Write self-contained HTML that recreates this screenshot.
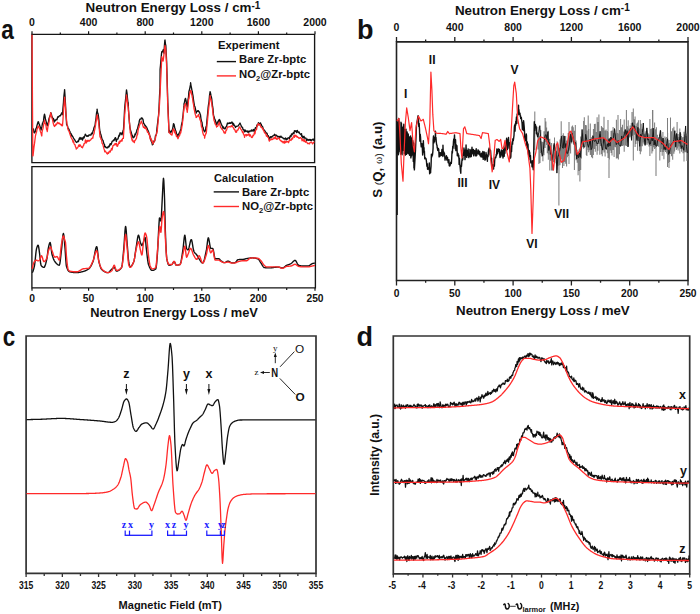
<!DOCTYPE html>
<html><head><meta charset="utf-8"><style>
html,body{margin:0;padding:0;background:#fff;}
body{width:700px;height:614px;overflow:hidden;}
svg{display:block;}
text{font-family:"Liberation Sans",sans-serif;fill:#111;}
.tl{font-weight:bold;}
.ti{font-weight:bold;}
.lg{font-weight:bold;}
.pl{font-weight:bold;}
.tn{font-weight:bold;}
</style></head><body>
<svg width="700" height="614" viewBox="0 0 700 614">
<rect width="700" height="614" fill="#fff"/>
<path d="M31.9,34.3H314.6V162.6H31.9Z" fill="none" stroke="#151515" stroke-width="1.35" stroke-linejoin="miter"/>
<path d="M31.9,166.6H315.4V287.9H31.9Z" fill="none" stroke="#151515" stroke-width="1.35" stroke-linejoin="miter"/>
<path d="M32.00,34.3V31.20M60.30,34.3V32.60M88.60,34.3V31.20M116.90,34.3V32.60M145.20,34.3V31.20M173.50,34.3V32.60M201.80,34.3V31.20M230.10,34.3V32.60M258.40,34.3V31.20M286.70,34.3V32.60M315.00,34.3V31.20" stroke="#151515" stroke-width="1.2" fill="none"/>
<text class="tl" x="32.00" y="25.6" text-anchor="middle" font-size="10.5">0</text>
<text class="tl" x="88.60" y="25.6" text-anchor="middle" font-size="10.5">400</text>
<text class="tl" x="145.20" y="25.6" text-anchor="middle" font-size="10.5">800</text>
<text class="tl" x="201.80" y="25.6" text-anchor="middle" font-size="10.5">1200</text>
<text class="tl" x="258.40" y="25.6" text-anchor="middle" font-size="10.5">1600</text>
<text class="tl" x="315.00" y="25.6" text-anchor="middle" font-size="10.5">2000</text>
<path d="M32.00,287.9V290.70M60.30,287.9V289.90M88.60,287.9V290.70M116.90,287.9V289.90M145.20,287.9V290.70M173.50,287.9V289.90M201.80,287.9V290.70M230.10,287.9V289.90M258.40,287.9V290.70M286.70,287.9V289.90M315.00,287.9V290.70" stroke="#151515" stroke-width="1.2" fill="none"/>
<text class="tl" x="32.00" y="301.8" text-anchor="middle" font-size="10.3">0</text>
<text class="tl" x="88.60" y="301.8" text-anchor="middle" font-size="10.3">50</text>
<text class="tl" x="145.20" y="301.8" text-anchor="middle" font-size="10.3">100</text>
<text class="tl" x="201.80" y="301.8" text-anchor="middle" font-size="10.3">150</text>
<text class="tl" x="258.40" y="301.8" text-anchor="middle" font-size="10.3">200</text>
<text class="tl" x="315.00" y="301.8" text-anchor="middle" font-size="10.3">250</text>
<text class="ti" x="85.6" y="12.4" font-size="13.4">Neutron Energy Loss / cm<tspan font-size="10" dy="-3.8">-1</tspan></text>
<text class="ti" x="174" y="316.8" text-anchor="middle" font-size="12.85">Neutron Energy Loss / meV</text>
<text class="pl" transform="translate(1.2,39.2) scale(0.84,1)" x="0" y="0" font-size="27">a</text>
<text class="lg" x="218" y="49.2" font-size="11.3">Experiment</text>
<line x1="216.8" y1="61.6" x2="236" y2="61.6" stroke="#111" stroke-width="1.4"/>
<text class="lg" x="239.1" y="63.4" font-size="11.3">Bare Zr-bptc</text>
<line x1="216.8" y1="75.9" x2="236" y2="75.9" stroke="#ff2a2a" stroke-width="1.4"/>
<text class="lg" x="239.1" y="78" font-size="11.3">NO<tspan font-size="7.5" dy="2.5">2</tspan><tspan dy="-2.5">@Zr-bptc</tspan></text>
<text class="lg" x="214.1" y="181.7" font-size="11.1">Calculation</text>
<line x1="213.7" y1="191.9" x2="239" y2="191.9" stroke="#111" stroke-width="1.4"/>
<text class="lg" x="242" y="196.3" font-size="11.3">Bare Zr-bptc</text>
<line x1="213.7" y1="206.5" x2="239" y2="206.5" stroke="#ff2a2a" stroke-width="1.4"/>
<text class="lg" x="242" y="210" font-size="11.3">NO<tspan font-size="7.5" dy="2.5">2</tspan><tspan dy="-2.5">@Zr-bptc</tspan></text>
<polyline fill="none" stroke="#111" stroke-width="1.35" stroke-linejoin="round"  points="32.00,128.52 32.50,128.79 33.00,129.60 33.50,129.01 34.00,132.50 34.50,132.80 34.80,132.29 35.00,132.37 35.50,130.48 36.00,128.37 36.50,127.79 37.00,125.38 37.50,123.80 38.00,121.93 38.30,121.80 38.50,122.03 39.00,123.93 39.50,124.66 40.00,126.62 40.50,127.44 41.00,130.05 41.10,129.92 41.50,128.31 42.00,126.23 42.50,123.17 43.00,122.21 43.50,120.90 44.00,116.37 44.50,114.18 45.00,116.16 45.50,119.53 46.00,120.90 46.50,123.36 47.00,124.97 47.30,125.74 47.50,125.06 48.00,122.94 48.50,121.79 49.00,118.67 49.50,117.30 50.00,115.91 50.50,115.10 50.70,112.70 51.00,113.21 51.50,114.73 52.00,116.91 52.50,117.32 53.00,119.52 53.50,118.62 54.00,121.76 54.20,122.17 54.50,120.22 55.00,120.64 55.50,120.73 56.00,119.40 56.50,119.39 57.00,119.68 57.50,117.72 57.70,117.12 58.00,116.59 58.50,117.15 59.00,116.25 59.50,115.91 60.00,115.60 60.50,115.74 61.00,114.27 61.50,113.61 62.00,112.67 62.50,114.68 63.00,107.63 63.50,102.25 63.60,99.99 64.00,95.40 64.50,91.04 64.60,89.65 65.00,95.68 65.50,104.42 66.00,114.88 66.50,122.68 66.60,124.47 67.00,124.97 67.50,125.89 68.00,128.10 68.50,128.64 69.00,129.40 69.50,130.99 70.00,131.67 70.10,132.62 70.50,133.90 71.00,133.47 71.50,135.78 72.00,135.25 72.50,136.63 73.00,136.82 73.50,138.06 74.00,139.07 74.50,139.60 75.00,140.26 75.50,141.12 76.00,141.86 76.30,141.88 76.50,142.45 77.00,142.18 77.50,141.81 78.00,140.94 78.50,141.42 79.00,139.33 79.50,138.12 79.80,139.22 80.00,137.42 80.50,138.99 81.00,138.00 81.50,139.11 82.00,137.86 82.50,139.98 83.00,138.44 83.50,137.06 84.00,137.92 84.50,136.47 85.00,135.14 85.30,134.12 85.50,134.72 86.00,135.01 86.50,135.96 87.00,136.38 87.50,135.80 88.00,136.24 88.50,135.85 89.00,134.91 89.50,135.00 90.00,134.92 90.50,135.03 91.00,135.03 91.50,133.24 92.00,133.72 92.20,132.91 92.50,133.73 93.00,131.00 93.50,130.00 94.00,127.71 94.50,126.43 95.00,125.73 95.50,121.56 96.00,118.26 96.50,113.23 97.00,110.89 97.10,109.12 97.50,112.62 98.00,113.56 98.50,116.71 99.00,120.94 99.50,127.97 99.80,130.62 100.00,131.54 100.50,133.52 101.00,134.94 101.50,136.96 101.90,138.59 102.00,138.82 102.50,139.82 103.00,140.47 103.50,142.32 104.00,144.20 104.50,144.43 104.70,146.89 105.00,146.40 105.50,146.65 106.00,147.69 106.50,147.77 107.00,147.74 107.40,147.15 107.50,147.90 108.00,147.43 108.50,146.12 109.00,146.88 109.50,146.03 110.00,143.92 110.20,145.08 110.50,143.74 111.00,144.57 111.50,143.62 112.00,141.65 112.50,141.06 113.00,140.97 113.50,140.08 114.00,140.56 114.50,139.38 115.00,138.05 115.10,138.48 115.50,137.64 116.00,140.24 116.40,141.46 116.50,140.58 117.00,139.24 117.50,139.07 118.00,138.97 118.50,136.83 119.00,135.14 119.50,135.97 120.00,132.98 120.50,133.69 120.60,132.82 121.00,134.00 121.50,133.10 122.00,134.76 122.50,133.13 123.00,130.85 123.40,129.92 123.50,129.19 124.00,121.20 124.50,111.40 124.70,107.74 125.00,104.55 125.50,100.18 126.00,94.95 126.50,89.88 127.00,93.12 127.50,98.59 128.00,102.76 128.20,102.65 128.50,109.73 129.00,116.60 129.50,123.70 129.60,124.36 130.00,127.87 130.50,130.12 131.00,131.68 131.50,133.21 131.70,136.03 132.00,135.07 132.50,135.41 133.00,137.82 133.50,137.62 134.00,137.11 134.40,136.40 134.50,136.93 135.00,134.05 135.50,134.62 136.00,133.08 136.50,131.76 137.00,129.59 137.50,128.98 138.00,126.71 138.50,124.78 139.00,123.24 139.30,120.95 139.50,120.35 140.00,119.12 140.50,119.18 141.00,119.02 141.30,117.90 141.50,118.62 142.00,117.93 142.50,118.90 142.70,118.90 143.00,119.47 143.50,122.97 144.00,123.79 144.50,124.22 144.80,125.10 145.00,125.83 145.50,125.60 146.00,127.48 146.50,127.03 146.90,128.16 147.00,128.00 147.50,129.66 148.00,130.42 148.50,131.57 149.00,133.27 149.50,134.86 150.00,136.51 150.50,138.14 151.00,140.49 151.50,141.74 152.00,142.76 152.40,144.77 152.50,143.69 153.00,144.27 153.50,142.88 154.00,140.83 154.50,141.39 155.00,139.68 155.50,135.65 156.00,135.16 156.50,133.59 157.00,128.05 157.50,124.02 158.00,119.50 158.50,115.85 158.60,114.80 159.00,108.39 159.50,96.54 160.00,87.65 160.10,69.25 160.50,65.35 161.00,59.39 161.50,53.88 161.80,51.60 162.00,52.22 162.50,51.83 163.00,50.26 163.20,49.82 163.50,50.07 163.90,53.10 164.00,51.77 164.50,44.55 164.90,40.07 165.00,40.03 165.50,44.52 165.80,45.56 166.00,49.09 166.50,59.04 166.60,60.99 167.00,74.70 167.50,91.99 167.80,102.67 168.00,106.92 168.50,119.72 169.00,132.24 169.50,130.34 170.00,132.18 170.40,132.87 170.50,131.85 171.00,132.10 171.50,130.72 172.00,131.69 172.10,130.41 172.50,128.92 173.00,126.87 173.50,123.72 174.00,124.25 174.50,126.49 174.70,127.90 175.00,128.40 175.50,130.37 176.00,131.29 176.40,133.49 176.50,134.03 177.00,134.34 177.50,136.32 178.00,135.71 178.10,135.32 178.50,133.89 179.00,134.36 179.50,132.25 180.00,131.62 180.50,129.93 180.70,130.16 181.00,128.42 181.50,124.85 182.00,122.78 182.40,121.31 182.50,118.79 183.00,115.51 183.50,110.32 184.00,105.14 184.10,103.37 184.50,102.21 185.00,99.43 185.50,98.34 186.00,100.45 186.50,103.42 187.00,105.57 187.20,107.08 187.50,105.25 188.00,99.60 188.50,97.03 188.90,91.91 189.00,91.24 189.50,89.80 190.00,87.12 190.50,84.64 190.60,82.73 191.00,85.57 191.50,87.96 192.00,90.96 192.30,91.43 192.50,93.26 193.00,95.81 193.50,99.85 194.00,103.21 194.50,105.98 195.00,106.90 195.50,109.03 196.00,111.97 196.10,113.16 196.50,111.98 197.00,111.59 197.50,110.82 198.00,111.42 198.50,110.72 198.60,111.43 199.00,111.65 199.50,112.23 200.00,113.90 200.40,114.76 200.50,115.07 201.00,119.10 201.50,121.20 202.00,122.27 202.50,126.64 202.90,127.56 203.00,127.08 203.50,129.49 204.00,130.72 204.50,131.79 204.60,131.34 205.00,131.40 205.50,130.04 206.00,126.64 206.30,127.76 206.50,125.71 207.00,119.78 207.50,114.94 208.00,109.46 208.10,108.06 208.50,104.95 209.00,101.78 209.50,95.69 210.00,92.51 210.10,91.62 210.50,93.04 211.00,95.71 211.50,97.59 211.80,99.45 212.00,101.56 212.50,105.65 213.00,108.74 213.50,115.20 214.00,116.73 214.50,118.51 215.00,119.60 215.50,120.82 216.00,123.25 216.50,123.42 216.60,124.87 217.00,124.08 217.50,121.83 218.00,122.36 218.50,120.43 219.00,121.81 219.20,119.45 219.50,119.81 220.00,120.38 220.50,121.98 221.00,123.64 221.50,124.57 221.70,124.90 222.00,125.64 222.50,126.61 223.00,128.34 223.50,126.94 224.00,128.34 224.50,128.73 225.00,129.02 225.50,127.86 226.00,126.77 226.50,126.51 227.00,124.59 227.50,123.05 228.00,123.72 228.50,123.43 229.00,123.02 229.50,123.34 230.00,122.47 230.50,123.34 231.00,123.15 231.50,122.50 232.00,121.90 232.50,123.60 232.60,122.66 233.00,125.18 233.50,123.53 234.00,125.25 234.50,125.17 235.00,126.36 235.50,127.49 235.60,126.58 236.00,126.73 236.50,126.53 237.00,126.12 237.50,126.06 238.00,125.97 238.50,125.47 239.00,124.72 239.50,123.95 240.00,123.07 240.50,124.20 241.00,125.21 241.50,126.87 242.00,127.06 242.50,127.37 243.00,129.46 243.50,129.40 244.00,130.30 244.40,131.35 244.50,131.81 245.00,129.93 245.50,130.77 246.00,131.61 246.50,131.26 247.00,130.94 247.50,131.15 248.00,132.40 248.50,131.20 248.80,131.96 249.00,131.96 249.50,131.03 250.00,131.48 250.50,130.78 251.00,130.54 251.50,130.08 252.00,131.26 252.50,130.30 253.00,130.07 253.50,129.57 254.00,131.35 254.50,130.53 254.70,129.91 255.00,129.01 255.50,127.58 256.00,127.87 256.50,126.98 257.00,124.98 257.50,125.76 258.00,124.62 258.40,122.77 258.50,123.06 259.00,123.27 259.50,123.77 260.00,123.69 260.50,122.84 261.00,124.99 261.30,124.31 261.50,125.32 262.00,126.32 262.50,126.36 263.00,127.72 263.50,128.98 264.00,130.00 264.50,130.39 265.00,131.10 265.50,132.27 266.00,132.48 266.50,133.39 267.00,133.18 267.50,135.30 268.00,135.33 268.50,136.39 269.00,137.47 269.40,138.30 269.50,139.28 270.00,137.93 270.50,136.62 271.00,137.37 271.50,136.64 272.00,137.04 272.50,136.08 273.00,135.81 273.50,135.68 274.00,135.35 274.50,134.32 275.00,134.82 275.30,135.09 275.50,135.95 276.00,135.15 276.50,135.27 277.00,136.06 277.50,136.20 278.00,137.06 278.50,136.57 279.00,136.35 279.50,137.40 279.70,137.59 280.00,136.44 280.50,137.10 281.00,136.16 281.50,137.26 282.00,137.18 282.50,137.86 283.00,137.94 283.50,138.39 284.00,138.68 284.10,139.12 284.50,138.95 285.00,138.43 285.50,137.96 286.00,139.60 286.50,139.72 287.00,138.50 287.50,139.16 288.00,137.81 288.50,137.78 289.00,138.01 289.50,138.52 290.00,136.26 290.50,135.78 291.00,136.75 291.50,133.86 292.00,134.89 292.50,134.17 293.00,133.10 293.50,132.74 294.00,133.70 294.40,130.77 294.50,131.30 295.00,131.35 295.50,131.05 296.00,130.63 296.50,132.54 297.00,131.64 297.40,130.36 297.50,131.12 298.00,132.25 298.50,132.66 299.00,131.87 299.50,133.16 300.00,133.80 300.50,134.29 301.00,134.70 301.50,133.67 301.80,136.30 302.00,135.42 302.50,136.90 303.00,138.04 303.50,136.52 304.00,136.27 304.50,138.08 305.00,137.85 305.50,138.12 306.00,138.19 306.50,140.41 307.00,139.47 307.50,139.30 307.60,140.01 308.00,139.50 308.50,140.30 309.00,139.86 309.50,139.39 310.00,140.41 310.50,139.54 311.00,140.37 311.50,140.66 312.00,139.54 312.50,139.30 313.00,139.79 313.50,140.18 314.00,138.81 314.20,138.59"/>
<polyline fill="none" stroke="#ff2a2a" stroke-width="1.3" stroke-linejoin="round"  points="32.00,34.72 32.40,90.53 32.50,106.91 32.80,155.95 33.00,155.80 33.50,151.52 34.00,146.90 34.50,143.64 35.00,139.52 35.50,135.49 36.00,133.59 36.50,132.19 37.00,129.62 37.50,128.27 38.00,126.33 38.30,125.99 38.50,126.18 39.00,127.35 39.50,128.42 40.00,130.14 40.50,131.70 41.00,132.90 41.50,135.31 41.80,135.95 42.00,132.41 42.50,130.13 43.00,128.43 43.50,125.46 44.00,123.05 44.50,120.24 45.00,123.44 45.50,123.31 46.00,125.75 46.50,129.28 47.00,130.34 47.30,131.53 47.50,129.71 48.00,126.34 48.50,124.89 49.00,122.22 49.50,118.72 50.00,116.44 50.50,114.21 50.70,112.59 51.00,114.26 51.50,116.26 52.00,118.09 52.50,119.61 53.00,122.19 53.50,124.26 54.00,125.76 54.20,125.77 54.50,126.48 55.00,125.20 55.50,125.61 56.00,123.85 56.50,124.66 57.00,123.57 57.50,122.28 57.70,122.70 58.00,123.10 58.50,123.53 59.00,122.99 59.50,123.19 60.00,124.32 60.50,124.17 61.00,124.91 61.50,125.53 62.00,124.25 62.50,125.77 63.00,119.31 63.50,111.22 63.60,109.47 64.00,105.13 64.50,98.10 64.60,97.18 65.00,101.74 65.50,107.70 65.60,109.93 66.00,113.71 66.50,119.50 67.00,124.13 67.30,125.94 67.50,126.75 68.00,129.41 68.50,130.58 69.00,131.04 69.50,132.76 70.00,134.36 70.50,135.69 71.00,137.26 71.50,138.17 72.00,139.03 72.50,140.02 73.00,141.97 73.50,140.91 74.00,143.38 74.50,144.58 75.00,144.73 75.50,146.97 76.00,147.42 76.30,149.06 76.50,148.22 77.00,148.23 77.50,148.09 78.00,147.05 78.50,145.73 79.00,144.82 79.50,146.44 79.80,144.93 80.00,144.75 80.50,145.79 81.00,146.08 81.50,147.25 82.00,147.22 82.50,147.71 83.00,146.13 83.50,145.79 84.00,143.71 84.50,143.70 85.00,143.15 85.30,140.51 85.50,139.86 86.00,141.78 86.50,142.95 87.00,140.56 87.50,140.31 88.00,141.42 88.50,140.41 89.00,140.54 89.40,140.57 89.50,141.07 90.00,140.06 90.50,140.10 91.00,139.41 91.50,138.57 92.00,138.51 92.50,137.70 92.90,138.00 93.00,136.81 93.50,134.55 94.00,133.92 94.50,130.65 95.00,128.36 95.50,125.45 96.00,121.56 96.50,118.39 97.00,115.53 97.10,114.78 97.50,115.82 98.00,119.58 98.50,121.12 99.00,126.12 99.50,131.53 99.80,135.05 100.00,137.01 100.50,136.84 101.00,139.35 101.50,139.50 101.90,142.20 102.00,143.08 102.50,143.82 103.00,145.05 103.50,147.09 104.00,148.88 104.50,150.34 104.70,151.78 105.00,151.02 105.50,151.15 106.00,152.10 106.50,152.79 107.00,153.55 107.40,153.98 107.50,154.01 108.00,152.31 108.50,153.44 109.00,152.03 109.50,151.14 110.00,151.81 110.20,152.06 110.50,151.01 111.00,149.93 111.50,148.37 112.00,149.98 112.50,147.83 113.00,145.66 113.50,145.37 114.00,145.42 114.50,143.83 115.00,144.44 115.50,143.51 115.70,144.40 116.00,144.83 116.50,143.44 117.00,146.23 117.10,145.35 117.50,146.32 118.00,144.71 118.50,143.96 119.00,141.91 119.20,143.39 119.50,143.33 120.00,141.01 120.50,141.64 121.00,140.65 121.30,140.88 121.50,139.81 122.00,141.18 122.50,138.67 123.00,138.44 123.40,138.43 123.50,135.87 124.00,127.10 124.50,117.85 124.70,114.51 125.00,110.61 125.50,105.69 126.00,100.45 126.50,94.98 127.00,98.91 127.50,102.36 128.00,106.72 128.20,107.49 128.50,111.17 129.00,116.75 129.50,122.77 130.00,128.22 130.30,132.94 130.50,132.69 131.00,135.02 131.50,137.81 132.00,139.92 132.30,140.64 132.50,139.71 133.00,141.61 133.50,141.81 134.00,141.03 134.40,142.70 134.50,141.55 135.00,140.30 135.50,140.11 136.00,138.96 136.50,138.23 137.00,134.82 137.50,134.81 138.00,131.01 138.50,128.17 139.00,127.34 139.30,125.37 139.50,125.40 140.00,123.94 140.50,123.10 141.00,122.27 141.30,121.01 141.50,122.46 142.00,123.03 142.50,124.08 143.00,126.00 143.40,127.29 143.50,126.93 144.00,126.89 144.50,128.23 145.00,127.06 145.50,127.90 146.00,128.98 146.20,128.22 146.50,129.71 147.00,130.64 147.50,132.24 148.00,132.04 148.50,133.21 149.00,134.82 149.50,134.17 150.00,138.95 150.50,137.65 151.00,138.79 151.50,140.99 151.70,140.87 152.00,140.32 152.50,142.85 153.00,143.96 153.10,143.31 153.50,142.64 154.00,142.16 154.50,140.28 155.00,140.18 155.20,139.63 155.50,137.82 156.00,135.28 156.50,133.96 157.00,131.46 157.20,131.85 157.50,127.94 158.00,122.76 158.50,116.74 159.00,111.23 159.30,107.19 159.50,104.18 160.00,95.01 160.50,83.76 160.70,79.61 161.00,73.68 161.50,63.11 161.80,56.74 162.00,57.79 162.50,58.76 163.00,61.14 163.20,60.70 163.50,58.19 164.00,54.07 164.50,48.73 164.90,46.23 165.00,45.46 165.50,48.17 165.80,50.16 166.00,54.18 166.50,62.96 166.60,65.78 167.00,78.42 167.50,97.53 167.80,106.85 168.00,110.77 168.50,121.30 169.00,132.35 169.50,133.06 170.00,133.14 170.40,133.70 170.50,134.18 171.00,133.96 171.50,134.91 172.00,135.04 172.10,134.31 172.50,132.89 173.00,129.57 173.50,128.71 174.00,129.70 174.50,131.45 174.70,132.74 175.00,130.98 175.50,133.89 176.00,134.27 176.40,136.38 176.50,135.29 177.00,136.56 177.50,137.75 178.00,138.75 178.10,138.55 178.50,137.08 179.00,136.10 179.50,135.90 180.00,134.18 180.50,131.96 180.70,133.15 181.00,131.35 181.50,129.12 182.00,125.80 182.40,124.54 182.50,122.30 183.00,118.34 183.50,112.62 184.00,108.34 184.10,107.55 184.50,105.45 185.00,104.68 185.50,103.53 186.00,106.77 186.50,108.96 187.00,110.21 187.20,112.30 187.50,110.07 188.00,106.93 188.50,100.43 188.90,97.95 189.00,98.67 189.50,94.42 190.00,92.02 190.50,90.64 190.60,90.46 191.00,90.97 191.50,93.75 192.00,95.48 192.30,97.59 192.50,98.01 193.00,102.18 193.50,104.48 194.00,108.48 194.50,110.56 195.00,113.39 195.50,115.05 196.00,116.21 196.10,117.54 196.50,117.33 197.00,116.42 197.50,115.98 198.00,115.68 198.50,114.37 198.60,115.52 199.00,116.71 199.50,117.44 200.00,119.93 200.40,119.71 200.50,120.72 201.00,123.17 201.50,127.17 202.00,127.24 202.50,131.05 202.90,133.21 203.00,133.15 203.50,135.17 204.00,135.25 204.50,135.92 204.60,138.20 205.00,135.72 205.50,134.79 206.00,132.73 206.30,133.28 206.50,131.06 207.00,124.78 207.50,120.59 208.00,114.83 208.10,113.61 208.50,110.16 209.00,105.51 209.50,101.57 210.00,96.90 210.10,95.57 210.50,98.27 211.00,99.48 211.50,102.33 211.80,103.77 212.00,106.02 212.50,108.61 213.00,113.96 213.50,116.83 214.00,120.47 214.50,121.47 215.00,123.60 215.50,124.55 216.00,125.11 216.50,126.41 216.60,127.04 217.00,126.18 217.50,126.34 218.00,125.55 218.50,124.24 219.00,122.92 219.20,122.02 219.50,123.15 220.00,125.05 220.50,127.22 221.00,127.79 221.50,128.37 221.70,129.12 222.00,129.10 222.50,129.44 223.00,130.36 223.50,131.14 224.00,132.73 224.50,132.10 225.00,133.48 225.50,132.65 226.00,130.45 226.50,130.35 227.00,128.66 227.50,126.83 228.00,127.19 228.50,126.96 229.00,126.71 229.50,126.66 230.00,126.80 230.50,126.91 231.00,125.98 231.50,126.47 232.00,125.40 232.50,126.49 232.60,126.71 233.00,127.10 233.50,128.05 234.00,129.11 234.50,129.16 235.00,130.30 235.50,131.66 235.60,132.15 236.00,131.36 236.50,132.26 237.00,130.04 237.50,130.25 238.00,129.92 238.50,128.51 239.00,127.57 239.50,126.83 240.00,127.21 240.50,128.82 241.00,129.28 241.50,130.21 242.00,130.85 242.50,132.46 243.00,131.71 243.50,134.25 244.00,135.12 244.40,135.01 244.50,137.28 245.00,134.79 245.50,134.82 246.00,134.57 246.50,135.91 247.00,134.44 247.50,135.28 248.00,135.05 248.50,134.67 248.80,133.55 249.00,134.19 249.50,136.14 250.00,134.69 250.50,135.45 251.00,136.36 251.50,137.46 252.00,137.56 252.50,137.05 253.00,135.04 253.50,135.51 254.00,134.44 254.50,132.20 254.70,133.90 255.00,133.68 255.50,130.50 256.00,129.84 256.50,129.53 257.00,126.47 257.50,124.95 258.00,124.21 258.40,123.73 258.50,123.80 259.00,124.95 259.50,125.11 260.00,124.50 260.50,126.06 261.00,127.29 261.30,127.08 261.50,127.30 262.00,127.56 262.50,129.08 263.00,128.70 263.50,130.71 264.00,131.06 264.50,132.74 265.00,133.20 265.50,133.03 266.00,134.67 266.50,136.21 267.00,135.53 267.50,136.74 268.00,137.45 268.50,137.81 269.00,140.25 269.40,141.15 269.50,140.77 270.00,140.16 270.50,139.73 271.00,139.67 271.50,138.79 272.00,139.60 272.50,139.46 273.00,139.14 273.50,137.94 274.00,138.09 274.50,137.69 275.00,138.71 275.30,137.52 275.50,136.28 276.00,138.01 276.50,139.22 277.00,138.70 277.50,139.07 278.00,138.77 278.50,137.72 279.00,138.07 279.50,138.69 279.70,139.52 280.00,140.05 280.50,140.70 281.00,140.44 281.50,141.69 282.00,141.30 282.50,141.43 283.00,142.85 283.50,142.11 284.00,141.34 284.10,142.51 284.50,143.13 285.00,140.91 285.50,142.52 286.00,142.38 286.50,141.51 287.00,141.31 287.50,141.82 288.00,141.60 288.50,142.62 289.00,141.54 289.50,139.77 290.00,139.74 290.50,140.26 291.00,140.53 291.50,139.05 292.00,138.50 292.50,139.01 293.00,137.29 293.50,136.60 294.00,135.38 294.40,135.57 294.50,137.34 295.00,135.12 295.50,136.16 296.00,135.36 296.50,136.47 297.00,137.08 297.40,136.44 297.50,137.12 298.00,137.37 298.50,137.44 299.00,138.52 299.50,138.16 300.00,137.70 300.50,137.71 301.00,137.85 301.50,138.96 301.80,138.59 302.00,140.73 302.50,140.53 303.00,139.57 303.50,139.88 304.00,141.57 304.50,139.62 305.00,140.93 305.50,142.22 306.00,141.39 306.50,142.06 307.00,142.52 307.50,143.55 307.60,143.29 308.00,143.46 308.50,143.59 309.00,143.22 309.50,143.92 310.00,142.73 310.50,142.27 311.00,142.05 311.50,142.15 312.00,142.84 312.50,143.87 313.00,143.31 313.50,142.81 314.00,142.00 314.20,142.16"/>
<polyline fill="none" stroke="#111" stroke-width="1.4" stroke-linejoin="round"  points="32.20,272.60 32.60,272.15 33.00,271.26 33.40,270.03 33.80,268.53 34.20,266.87 34.40,266.00 34.60,264.92 35.00,261.79 35.40,257.90 35.80,253.93 36.20,250.54 36.60,248.40 36.60,248.40 37.00,247.14 37.40,246.07 37.80,245.38 38.10,245.20 38.20,245.27 38.60,246.67 39.00,249.23 39.40,252.13 39.50,252.80 39.80,255.27 40.20,259.42 40.60,263.21 41.00,265.20 41.00,265.20 41.40,265.77 41.80,266.25 42.20,266.65 42.60,266.96 43.00,267.19 43.40,267.34 43.80,267.40 43.90,267.40 44.20,267.27 44.60,266.75 45.00,265.87 45.40,264.70 45.80,263.29 46.20,261.71 46.60,260.01 46.90,258.70 47.00,258.20 47.40,255.32 47.80,251.85 48.20,248.92 48.30,248.40 48.60,247.00 49.00,245.21 49.40,243.72 49.80,242.75 50.10,242.50 50.20,242.58 50.60,244.16 51.00,247.11 51.40,250.48 51.80,253.34 52.00,254.30 52.20,255.02 52.60,256.38 53.00,257.60 53.40,258.70 53.80,259.66 54.20,260.49 54.60,261.18 54.90,261.60 55.00,261.73 55.40,262.23 55.80,262.72 56.20,263.18 56.60,263.62 57.00,264.01 57.40,264.36 57.80,264.66 58.20,264.90 58.60,265.08 59.00,265.18 59.30,265.20 59.40,265.14 59.80,263.87 60.20,261.30 60.60,257.92 61.00,254.22 61.40,250.70 61.50,249.90 61.80,247.15 62.20,242.67 62.60,238.20 63.00,234.77 63.40,233.40 63.40,233.40 63.80,234.94 64.20,238.72 64.60,243.47 64.90,246.90 65.00,248.04 65.40,253.81 65.80,260.04 66.20,264.79 66.40,266.00 66.60,266.68 67.00,267.90 67.40,268.94 67.80,269.82 68.20,270.54 68.60,271.09 69.00,271.49 69.40,271.73 69.60,271.80 69.80,271.85 70.20,271.93 70.60,272.01 71.00,272.09 71.40,272.16 71.80,272.23 72.20,272.28 72.60,272.34 73.00,272.39 73.40,272.43 73.80,272.47 74.20,272.50 74.60,272.53 75.00,272.55 75.40,272.57 75.80,272.58 76.20,272.59 76.60,272.60 76.90,272.60 77.00,272.60 77.40,272.59 77.80,272.57 78.20,272.53 78.60,272.49 79.00,272.43 79.40,272.36 79.80,272.29 80.20,272.21 80.60,272.13 81.00,272.04 81.40,271.94 81.80,271.85 82.20,271.75 82.60,271.65 82.80,271.60 83.00,271.55 83.40,271.44 83.80,271.33 84.20,271.20 84.60,271.07 85.00,270.92 85.40,270.76 85.80,270.59 86.20,270.41 86.60,270.21 87.00,270.00 87.40,269.77 87.80,269.52 88.20,269.26 88.60,268.97 88.70,268.90 89.00,268.65 89.40,268.25 89.80,267.76 90.20,267.21 90.60,266.58 91.00,265.88 91.40,265.13 91.80,264.32 92.20,263.46 92.60,262.55 93.00,261.60 93.00,261.60 93.40,260.34 93.80,258.61 94.20,256.57 94.60,254.36 95.00,252.17 95.40,250.14 95.80,248.43 96.20,247.21 96.60,246.63 96.70,246.60 97.00,247.22 97.40,249.58 97.80,253.00 98.20,256.71 98.60,259.94 98.90,261.60 99.00,262.00 99.40,263.54 99.80,264.97 100.20,266.27 100.60,267.41 101.00,268.36 101.40,269.10 101.80,269.60 101.80,269.60 102.20,269.96 102.60,270.31 103.00,270.63 103.40,270.93 103.80,271.21 104.20,271.47 104.60,271.71 105.00,271.91 105.40,272.10 105.80,272.25 106.20,272.38 106.60,272.48 107.00,272.55 107.40,272.59 107.70,272.60 107.80,272.60 108.20,272.51 108.60,272.31 109.00,272.02 109.40,271.67 109.80,271.27 110.20,270.83 110.60,270.38 111.00,269.94 111.40,269.52 111.80,269.14 112.10,268.90 112.20,268.82 112.60,268.48 113.00,268.12 113.40,267.79 113.80,267.53 114.20,267.41 114.30,267.40 114.60,267.59 115.00,268.29 115.40,269.25 115.80,270.21 116.20,270.91 116.50,271.10 116.60,271.10 117.00,271.07 117.40,270.99 117.80,270.87 118.20,270.71 118.60,270.50 119.00,270.25 119.40,269.94 119.80,269.59 120.20,269.19 120.60,268.75 121.00,268.25 121.40,267.69 121.60,267.40 121.80,266.88 122.20,264.66 122.60,261.27 123.00,257.13 123.40,252.69 123.80,248.40 123.80,248.40 124.20,243.16 124.60,236.71 125.00,230.75 125.40,226.95 125.60,226.40 125.80,226.91 126.20,230.37 126.60,235.77 127.00,241.50 127.20,244.00 127.40,246.43 127.80,251.85 128.20,257.07 128.60,260.97 128.70,261.60 129.00,263.23 129.40,265.12 129.80,266.38 130.10,266.70 130.20,266.70 130.60,266.58 131.00,266.33 131.40,265.96 131.80,265.46 132.20,264.86 132.60,264.16 133.00,263.38 133.40,262.52 133.80,261.60 133.80,261.60 134.20,260.15 134.60,257.91 135.00,255.19 135.40,252.31 135.80,249.60 136.00,248.40 136.20,247.21 136.60,244.53 137.00,241.73 137.40,239.09 137.80,236.93 138.20,235.55 138.50,235.20 138.60,235.25 139.00,236.20 139.40,237.98 139.80,240.05 140.20,241.86 140.40,242.50 140.60,243.04 141.00,244.12 141.40,245.01 141.80,245.48 141.90,245.50 142.20,245.27 142.60,244.42 143.00,243.30 143.30,242.50 143.40,242.24 143.80,240.91 144.20,239.40 144.60,238.12 145.00,237.43 145.10,237.40 145.40,238.66 145.80,242.86 146.20,247.49 146.30,248.40 146.60,250.96 147.00,254.50 147.40,257.94 147.80,260.98 148.20,263.34 148.50,264.50 148.60,264.78 149.00,265.86 149.40,266.85 149.80,267.75 150.20,268.54 150.60,269.21 151.00,269.74 151.40,270.13 151.80,270.35 152.10,270.40 152.20,270.40 152.60,270.38 153.00,270.32 153.40,270.24 153.80,270.12 154.20,269.96 154.60,269.76 155.00,269.52 155.40,269.23 155.80,268.90 155.80,268.90 156.20,267.34 156.60,263.89 157.00,259.34 157.30,255.70 157.40,254.38 157.80,247.34 158.20,238.91 158.60,230.98 158.70,229.30 159.00,223.86 159.40,218.31 159.50,218.00 159.80,218.35 160.20,219.50 160.60,220.65 160.90,221.00 161.00,220.76 161.40,216.01 161.80,207.89 162.20,200.00 162.20,200.00 162.60,191.95 163.00,183.52 163.40,178.55 163.50,178.30 163.80,180.62 164.20,189.02 164.60,200.00 164.60,200.00 165.00,217.06 165.30,229.30 165.40,232.07 165.80,242.53 166.20,251.21 166.60,257.11 166.80,258.70 167.00,259.74 167.40,261.60 167.80,263.11 168.20,264.24 168.60,264.95 169.00,265.20 169.00,265.20 169.40,265.18 169.80,265.14 170.20,265.06 170.60,264.96 171.00,264.84 171.40,264.70 171.80,264.54 171.90,264.50 172.20,264.26 172.60,263.67 173.00,262.93 173.40,262.23 173.80,261.73 174.10,261.60 174.20,261.62 174.60,262.07 175.00,262.91 175.40,263.89 175.80,264.73 176.20,265.18 176.30,265.20 176.60,265.20 177.00,265.17 177.40,265.14 177.80,265.09 178.20,265.02 178.60,264.93 179.00,264.83 179.40,264.71 179.80,264.57 180.00,264.50 180.20,264.32 180.60,263.35 181.00,261.73 181.40,259.60 181.80,257.13 182.20,254.49 182.60,251.82 182.90,249.90 183.00,249.23 183.40,245.70 183.80,241.59 184.20,237.87 184.60,235.54 184.80,235.20 185.00,235.62 185.40,238.38 185.80,242.45 186.20,246.30 186.60,248.40 186.60,248.40 187.00,249.07 187.40,249.58 187.80,249.86 188.00,249.90 188.20,249.79 188.60,249.00 189.00,247.64 189.40,245.91 189.80,244.05 190.20,242.27 190.60,240.79 191.00,239.84 191.30,239.60 191.40,239.64 191.80,240.58 192.20,242.43 192.60,244.80 193.00,247.29 193.40,249.51 193.80,251.06 193.90,251.30 194.20,251.85 194.60,252.46 195.00,252.97 195.40,253.40 195.80,253.81 196.20,254.24 196.60,254.72 196.80,255.00 197.00,255.30 197.40,255.97 197.80,256.69 198.20,257.41 198.60,258.09 199.00,258.70 199.00,258.70 199.40,259.28 199.80,259.90 200.20,260.53 200.60,261.14 201.00,261.70 201.40,262.19 201.80,262.59 202.20,262.87 202.60,262.99 202.70,263.00 203.00,262.86 203.40,262.27 203.80,261.29 204.20,259.98 204.60,258.41 205.00,256.65 205.40,254.75 205.80,252.80 206.20,250.85 206.40,249.90 206.60,248.77 207.00,245.72 207.40,242.32 207.80,239.42 208.20,237.87 208.30,237.80 208.60,238.22 209.00,239.83 209.40,242.15 209.80,244.67 210.20,246.86 210.60,248.21 210.80,248.40 211.00,248.40 211.40,248.40 211.80,248.40 212.20,248.40 212.60,248.40 212.70,248.40 213.00,248.81 213.40,250.37 213.80,252.63 214.20,255.07 214.60,257.20 215.00,258.51 215.20,258.70 215.40,258.70 215.80,258.70 216.20,258.70 216.60,258.70 217.00,258.70 217.40,258.70 217.80,258.70 218.20,258.70 218.60,258.70 218.80,258.70 219.00,258.74 219.40,259.01 219.80,259.45 220.20,259.96 220.60,260.43 220.90,260.70 221.00,260.77 221.40,261.07 221.80,261.36 222.20,261.66 222.60,261.93 223.00,262.17 223.40,262.37 223.80,262.51 224.20,262.59 224.40,262.60 224.60,262.59 225.00,262.49 225.40,262.32 225.80,262.10 226.20,261.85 226.60,261.60 227.00,261.38 227.40,261.21 227.80,261.11 228.00,261.10 228.20,261.11 228.60,261.20 229.00,261.35 229.40,261.55 229.80,261.78 230.20,262.03 230.60,262.28 231.00,262.51 231.40,262.70 231.80,262.83 232.20,262.90 232.30,262.90 232.60,262.90 233.00,262.88 233.40,262.85 233.80,262.81 234.20,262.75 234.60,262.69 235.00,262.62 235.10,262.60 235.40,262.47 235.80,262.12 236.20,261.62 236.60,261.06 237.00,260.52 237.40,260.06 237.80,259.76 238.00,259.70 238.20,259.67 238.60,259.62 239.00,259.59 239.40,259.55 239.80,259.53 240.20,259.51 240.60,259.49 241.00,259.47 241.40,259.46 241.80,259.44 242.20,259.42 242.60,259.40 243.00,259.37 243.40,259.33 243.70,259.30 243.80,259.29 244.20,259.22 244.60,259.12 245.00,259.01 245.40,258.90 245.80,258.78 246.20,258.68 246.60,258.60 246.60,258.60 247.00,258.53 247.40,258.46 247.80,258.39 248.20,258.33 248.60,258.26 249.00,258.20 249.40,258.14 249.80,258.08 250.20,258.03 250.60,257.99 251.00,257.95 251.40,257.93 251.80,257.91 252.20,257.90 252.30,257.90 252.60,257.90 253.00,257.92 253.40,257.94 253.80,257.97 254.20,258.02 254.60,258.07 255.00,258.13 255.40,258.20 255.80,258.29 256.20,258.38 256.60,258.48 257.00,258.59 257.40,258.71 257.80,258.83 258.00,258.90 258.20,259.00 258.60,259.34 259.00,259.84 259.40,260.45 259.80,261.12 260.20,261.81 260.60,262.46 260.90,262.90 261.00,263.04 261.40,263.65 261.80,264.33 262.20,265.03 262.60,265.71 263.00,266.34 263.40,266.88 263.80,267.30 264.20,267.55 264.40,267.60 264.60,267.62 265.00,267.67 265.40,267.71 265.80,267.75 266.20,267.78 266.60,267.81 267.00,267.83 267.40,267.85 267.80,267.87 268.20,267.88 268.60,267.89 269.00,267.90 269.40,267.90 269.40,267.90 269.80,267.89 270.20,267.88 270.60,267.86 271.00,267.83 271.40,267.79 271.80,267.75 272.20,267.70 272.60,267.65 273.00,267.60 273.40,267.54 273.80,267.49 274.20,267.43 274.60,267.38 275.00,267.32 275.40,267.28 275.80,267.23 276.20,267.19 276.60,267.16 277.00,267.13 277.40,267.11 277.80,267.10 278.00,267.10 278.20,267.11 278.60,267.14 279.00,267.21 279.40,267.30 279.80,267.40 280.20,267.51 280.60,267.62 281.00,267.72 281.40,267.81 281.80,267.87 282.20,267.90 282.30,267.90 282.60,267.87 283.00,267.77 283.40,267.59 283.80,267.37 284.20,267.10 284.60,266.80 285.00,266.49 285.40,266.18 285.80,265.89 286.20,265.62 286.60,265.40 286.60,265.40 287.00,265.21 287.40,265.04 287.80,264.88 288.20,264.73 288.60,264.58 289.00,264.44 289.40,264.28 289.80,264.12 290.20,263.95 290.60,263.76 290.90,263.60 291.00,263.54 291.40,263.26 291.80,262.92 292.20,262.53 292.60,262.13 293.00,261.72 293.40,261.33 293.80,260.98 294.20,260.70 294.60,260.50 295.00,260.40 295.10,260.40 295.40,260.49 295.80,260.87 296.20,261.46 296.60,262.20 297.00,263.00 297.40,263.79 297.80,264.50 298.20,265.05 298.60,265.37 298.70,265.40 299.00,265.47 299.40,265.55 299.80,265.63 300.20,265.70 300.60,265.76 301.00,265.82 301.40,265.87 301.80,265.91 302.20,265.94 302.60,265.97 303.00,265.99 303.40,266.00 303.70,266.00 303.80,266.00 304.20,266.00 304.60,266.00 305.00,266.00 305.40,266.00 305.80,266.00 306.20,266.00 306.60,266.00 307.00,266.00 307.40,266.00 307.80,266.00 308.00,266.00 308.20,265.99 308.60,265.89 309.00,265.72 309.40,265.49 309.80,265.21 310.20,264.91 310.60,264.60 311.00,264.30 311.40,264.03 311.80,263.80 312.20,263.63 312.30,263.60 312.60,263.52 313.00,263.42 313.40,263.32 313.80,263.24 314.20,263.17 314.60,263.12 314.90,263.10"/>
<polyline fill="none" stroke="#ff2a2a" stroke-width="1.4" stroke-linejoin="round"  points="32.20,268.90 32.60,267.09 33.00,265.41 33.40,263.94 33.80,262.74 34.20,261.88 34.40,261.60 34.60,261.38 35.00,260.97 35.40,260.62 35.80,260.34 36.20,260.16 36.60,260.10 36.60,260.10 37.00,260.24 37.40,260.54 37.80,260.82 38.10,260.90 38.20,260.89 38.60,260.77 39.00,260.51 39.40,260.19 39.50,260.10 39.80,259.64 40.20,258.60 40.60,257.38 41.00,256.31 41.40,255.73 41.50,255.70 41.80,255.95 42.20,256.91 42.60,258.28 43.00,259.73 43.40,260.94 43.80,261.57 43.90,261.60 44.20,261.55 44.60,261.35 45.00,261.01 45.40,260.54 45.80,259.96 46.20,259.28 46.60,258.51 46.90,257.90 47.00,257.64 47.40,255.86 47.80,253.56 48.20,251.63 48.30,251.30 48.60,250.46 49.00,249.37 49.40,248.40 49.80,247.62 50.20,247.09 50.60,246.90 50.60,246.90 51.00,247.43 51.40,248.66 51.80,250.03 52.00,250.60 52.20,251.12 52.60,252.26 53.00,253.47 53.40,254.65 53.80,255.71 54.20,256.55 54.60,257.07 54.90,257.20 55.00,257.20 55.40,257.10 55.80,256.92 56.20,256.73 56.60,256.57 57.00,256.50 57.00,256.50 57.40,256.79 57.80,257.50 58.20,258.42 58.60,259.30 59.00,259.93 59.30,260.10 59.40,260.03 59.80,258.45 60.20,255.39 60.60,251.56 61.00,247.72 61.40,244.58 61.50,244.00 61.80,242.32 62.20,240.02 62.60,237.95 63.00,236.47 63.40,235.90 63.40,235.90 63.80,236.58 64.20,238.08 64.60,239.60 64.60,239.60 65.00,240.68 65.40,242.01 65.50,242.50 65.80,245.90 66.20,252.90 66.40,255.70 66.60,257.88 67.00,262.09 67.40,265.70 67.80,268.21 68.00,268.90 68.20,269.35 68.60,270.12 69.00,270.68 69.40,271.02 69.60,271.10 69.80,271.14 70.20,271.22 70.60,271.30 71.00,271.37 71.40,271.43 71.80,271.49 72.20,271.54 72.60,271.59 73.00,271.63 73.40,271.66 73.80,271.70 74.20,271.72 74.60,271.74 75.00,271.76 75.40,271.78 75.80,271.79 76.20,271.80 76.60,271.80 76.90,271.80 77.00,271.80 77.40,271.74 77.80,271.62 78.20,271.46 78.60,271.26 79.00,271.04 79.40,270.82 79.80,270.60 80.00,270.50 80.20,270.40 80.60,270.15 81.00,269.88 81.40,269.60 81.80,269.34 82.20,269.12 82.60,268.95 82.80,268.90 83.00,268.86 83.40,268.79 83.80,268.73 84.20,268.69 84.60,268.65 85.00,268.62 85.40,268.59 85.80,268.56 86.20,268.53 86.60,268.50 87.00,268.47 87.40,268.42 87.80,268.37 88.20,268.30 88.60,268.22 88.70,268.20 89.00,268.08 89.40,267.77 89.80,267.31 90.20,266.73 90.60,266.04 91.00,265.27 91.40,264.43 91.80,263.56 92.20,262.66 92.60,261.77 93.00,260.90 93.00,260.90 93.40,259.89 93.80,258.62 94.20,257.19 94.60,255.69 95.00,254.23 95.40,252.89 95.80,251.78 96.20,250.99 96.60,250.62 96.70,250.60 97.00,251.04 97.40,252.72 97.80,255.16 98.20,257.86 98.60,260.28 98.90,261.60 99.00,261.94 99.40,263.26 99.80,264.52 100.20,265.68 100.60,266.73 101.00,267.63 101.40,268.36 101.80,268.90 101.80,268.90 102.20,269.32 102.60,269.73 103.00,270.12 103.40,270.48 103.80,270.83 104.20,271.15 104.60,271.44 105.00,271.71 105.40,271.94 105.80,272.14 106.20,272.31 106.60,272.44 107.00,272.53 107.40,272.59 107.70,272.60 107.80,272.60 108.20,272.57 108.60,272.50 109.00,272.39 109.40,272.24 109.80,272.06 110.20,271.84 110.60,271.59 111.00,271.31 111.40,271.00 111.80,270.67 112.10,270.40 112.20,270.28 112.60,269.33 113.00,267.94 113.40,266.52 113.80,265.48 114.10,265.20 114.20,265.23 114.60,265.78 115.00,266.85 115.40,268.12 115.80,269.33 116.20,270.18 116.50,270.40 116.60,270.40 117.00,270.37 117.40,270.31 117.80,270.21 118.20,270.08 118.60,269.91 119.00,269.70 119.40,269.46 119.80,269.17 120.20,268.85 120.60,268.49 121.00,268.08 121.40,267.64 121.60,267.40 121.80,266.99 122.20,265.31 122.60,262.74 123.00,259.58 123.40,256.17 123.80,252.80 123.80,252.80 124.20,248.53 124.60,243.17 125.00,238.17 125.40,234.97 125.60,234.50 125.80,234.89 126.20,237.55 126.60,241.75 127.00,246.33 127.20,248.40 127.40,250.55 127.80,255.65 128.20,260.63 128.60,264.05 128.70,264.50 129.00,265.48 129.40,266.55 129.80,267.23 130.10,267.40 130.20,267.39 130.60,267.26 131.00,266.96 131.40,266.51 131.80,265.92 132.20,265.22 132.60,264.43 133.00,263.54 133.40,262.60 133.80,261.60 133.80,261.60 134.20,260.14 134.60,258.01 135.00,255.53 135.40,253.02 135.80,250.80 136.00,249.90 136.20,249.07 136.60,247.32 137.00,245.59 137.40,244.03 137.80,242.78 138.20,241.99 138.50,241.80 138.60,241.85 139.00,242.82 139.40,244.69 139.80,246.93 140.20,249.05 140.40,249.90 140.60,250.71 141.00,252.51 141.40,254.10 141.80,254.96 141.90,255.00 142.20,254.05 142.60,250.71 143.00,246.58 143.30,244.00 143.40,243.29 143.80,240.12 144.20,236.95 144.60,234.38 145.00,233.06 145.10,233.00 145.40,233.20 145.80,233.99 146.20,235.22 146.60,236.70 146.60,236.70 147.00,239.32 147.40,243.51 147.80,248.35 148.20,252.95 148.50,255.70 148.60,256.47 149.00,259.56 149.40,262.35 149.80,264.49 150.00,265.20 150.20,265.76 150.60,266.80 151.00,267.70 151.40,268.38 151.80,268.80 152.10,268.90 152.20,268.90 152.60,268.88 153.00,268.83 153.40,268.74 153.80,268.62 154.20,268.46 154.60,268.26 155.00,268.02 155.40,267.73 155.80,267.40 155.80,267.40 156.20,265.51 156.60,261.40 157.00,256.39 157.30,252.80 157.40,251.66 157.80,246.51 158.20,241.07 158.60,236.22 158.70,235.20 159.00,232.06 159.40,228.15 159.80,226.40 159.80,226.40 160.20,228.17 160.60,231.22 160.90,232.30 161.00,232.05 161.40,227.50 161.80,221.22 162.00,219.10 162.20,217.64 162.60,214.85 163.00,212.66 163.40,211.55 163.50,211.50 163.80,212.42 164.20,215.77 164.50,219.10 164.60,220.54 165.00,229.83 165.30,236.70 165.40,238.52 165.80,245.88 166.20,252.53 166.60,257.34 166.80,258.70 167.00,259.61 167.40,261.24 167.80,262.60 168.20,263.62 168.60,264.27 169.00,264.50 169.00,264.50 169.40,264.50 169.80,264.50 170.20,264.50 170.60,264.50 171.00,264.50 171.40,264.50 171.80,264.50 171.90,264.50 172.20,264.34 172.60,263.73 173.00,262.90 173.40,262.07 173.80,261.46 174.10,261.30 174.20,261.32 174.60,261.81 175.00,262.72 175.40,263.78 175.80,264.69 176.20,265.18 176.30,265.20 176.60,265.20 177.00,265.17 177.40,265.14 177.80,265.08 178.20,265.01 178.60,264.93 179.00,264.82 179.40,264.71 179.80,264.57 180.00,264.50 180.20,264.35 180.60,263.61 181.00,262.41 181.40,260.88 181.80,259.14 182.20,257.31 182.60,255.53 182.90,254.30 183.00,253.89 183.40,251.86 183.80,249.60 184.20,247.61 184.60,246.38 184.80,246.20 185.00,246.58 185.40,249.05 185.80,252.61 186.20,255.81 186.60,257.20 186.60,257.20 187.00,256.80 187.40,255.87 187.80,254.78 188.00,254.30 188.20,253.82 188.60,252.68 189.00,251.43 189.40,250.23 189.80,249.22 190.20,248.57 190.50,248.40 190.60,248.41 191.00,248.73 191.40,249.39 191.80,250.30 192.20,251.37 192.60,252.53 193.00,253.66 193.40,254.69 193.80,255.53 193.90,255.70 194.20,256.19 194.60,256.88 195.00,257.57 195.40,258.20 195.80,258.74 196.20,259.15 196.60,259.37 196.80,259.40 197.00,259.31 197.40,258.72 197.80,257.80 198.20,256.81 198.60,256.02 199.00,255.70 199.00,255.70 199.40,255.94 199.80,256.58 200.20,257.51 200.60,258.61 201.00,259.79 201.40,260.93 201.80,261.91 202.20,262.64 202.60,262.98 202.70,263.00 203.00,262.91 203.40,262.53 203.80,261.89 204.20,261.04 204.60,260.01 205.00,258.84 205.40,257.58 205.80,256.27 206.20,254.95 206.40,254.30 206.60,253.51 207.00,251.31 207.40,248.83 207.80,246.69 208.20,245.55 208.30,245.50 208.60,245.79 209.00,246.90 209.40,248.50 209.80,250.23 210.20,251.74 210.60,252.67 210.80,252.80 211.00,252.71 211.40,252.12 211.80,251.24 212.20,250.40 212.60,249.92 212.70,249.90 213.00,250.31 213.40,251.85 213.80,254.09 214.20,256.51 214.60,258.62 215.00,259.91 215.20,260.10 215.40,260.10 215.80,260.10 216.20,260.10 216.60,260.10 217.00,260.10 217.40,260.10 217.80,260.10 218.20,260.10 218.60,260.10 218.80,260.10 219.00,260.13 219.40,260.30 219.80,260.59 220.20,260.92 220.60,261.23 220.90,261.40 221.00,261.45 221.40,261.63 221.80,261.82 222.20,262.01 222.60,262.18 223.00,262.33 223.40,262.45 223.80,262.54 224.20,262.59 224.40,262.60 224.60,262.60 225.00,262.56 225.40,262.51 225.80,262.43 226.20,262.35 226.60,262.27 227.00,262.19 227.40,262.14 227.80,262.10 228.00,262.10 228.20,262.11 228.60,262.15 229.00,262.24 229.40,262.35 229.80,262.48 230.20,262.62 230.60,262.75 231.00,262.88 231.40,262.99 231.80,263.06 232.20,263.10 232.30,263.10 232.60,263.10 233.00,263.08 233.40,263.06 233.80,263.03 234.20,263.00 234.60,262.96 235.00,262.91 235.10,262.90 235.40,262.84 235.80,262.71 236.20,262.53 236.60,262.32 237.00,262.11 237.40,261.92 237.80,261.76 238.00,261.70 238.20,261.65 238.60,261.55 239.00,261.44 239.40,261.34 239.80,261.25 240.20,261.15 240.60,261.07 241.00,260.99 241.40,260.91 241.80,260.85 242.20,260.80 242.60,260.75 243.00,260.72 243.40,260.70 243.70,260.70 243.80,260.70 244.20,260.70 244.60,260.70 245.00,260.70 245.40,260.70 245.80,260.70 246.20,260.70 246.60,260.70 246.60,260.70 247.00,260.62 247.40,260.40 247.80,260.09 248.20,259.71 248.60,259.32 249.00,258.93 249.40,258.61 249.80,258.37 250.00,258.30 250.20,258.25 250.60,258.14 251.00,258.05 251.40,257.98 251.80,257.93 252.20,257.90 252.30,257.90 252.60,257.90 253.00,257.91 253.40,257.91 253.80,257.93 254.20,257.94 254.60,257.96 255.00,257.99 255.40,258.02 255.80,258.05 256.20,258.09 256.60,258.13 257.00,258.17 257.40,258.22 257.80,258.27 258.00,258.30 258.20,258.34 258.60,258.52 259.00,258.79 259.40,259.14 259.80,259.53 260.20,259.96 260.60,260.39 260.90,260.70 261.00,260.80 261.40,261.28 261.80,261.82 262.20,262.41 262.60,263.02 263.00,263.63 263.40,264.21 263.80,264.75 264.20,265.20 264.40,265.40 264.60,265.59 265.00,265.98 265.40,266.35 265.80,266.65 266.20,266.85 266.50,266.90 266.60,266.90 267.00,266.90 267.40,266.90 267.80,266.90 268.20,266.90 268.60,266.90 269.00,266.90 269.40,266.90 269.80,266.90 270.20,266.90 270.60,266.90 271.00,266.90 271.40,266.90 271.80,266.90 272.20,266.90 272.60,266.90 273.00,266.90 273.40,266.90 273.80,266.90 274.20,266.90 274.60,266.90 275.00,266.90 275.40,266.90 275.80,266.90 276.20,266.90 276.60,266.90 277.00,266.90 277.40,266.90 277.80,266.90 278.00,266.90 278.20,266.91 278.60,266.97 279.00,267.09 279.40,267.25 279.80,267.43 280.20,267.62 280.60,267.82 281.00,267.99 281.40,268.14 281.80,268.25 282.20,268.30 282.30,268.30 282.60,268.28 283.00,268.18 283.40,268.02 283.80,267.82 284.20,267.59 284.60,267.34 285.00,267.09 285.40,266.86 285.80,266.65 286.20,266.50 286.60,266.40 286.60,266.40 287.00,266.34 287.40,266.30 287.80,266.26 288.20,266.23 288.60,266.21 289.00,266.18 289.40,266.16 289.80,266.13 290.20,266.09 290.60,266.04 290.90,266.00 291.00,265.98 291.40,265.87 291.80,265.72 292.20,265.52 292.60,265.30 293.00,265.07 293.40,264.85 293.80,264.65 294.20,264.48 294.60,264.36 295.00,264.30 295.10,264.30 295.40,264.34 295.80,264.49 296.20,264.73 296.60,265.03 297.00,265.35 297.40,265.68 297.80,265.98 298.20,266.22 298.60,266.38 298.70,266.40 299.00,266.45 299.40,266.52 299.80,266.58 300.20,266.64 300.60,266.69 301.00,266.74 301.40,266.78 301.80,266.82 302.20,266.85 302.60,266.87 303.00,266.89 303.40,266.90 303.70,266.90 303.80,266.90 304.20,266.90 304.60,266.90 305.00,266.90 305.40,266.90 305.80,266.90 306.20,266.90 306.60,266.90 307.00,266.90 307.40,266.90 307.80,266.90 308.00,266.90 308.20,266.90 308.60,266.87 309.00,266.82 309.40,266.74 309.80,266.66 310.20,266.56 310.60,266.45 311.00,266.34 311.40,266.23 311.80,266.12 312.20,266.02 312.30,266.00 312.60,265.93 313.00,265.84 313.40,265.75 313.80,265.66 314.20,265.57 314.60,265.47 314.90,265.40"/>
<path d="M396.5,41.9H688V280.5H396.5Z" fill="none" stroke="#222" stroke-width="1.6" stroke-linejoin="miter"/>
<path d="M396.50,41.9V36.90M425.65,41.9V39.50M454.80,41.9V36.90M483.95,41.9V39.50M513.10,41.9V36.90M542.25,41.9V39.50M571.40,41.9V36.90M600.55,41.9V39.50M629.70,41.9V36.90M658.85,41.9V39.50M688.00,41.9V36.90" stroke="#222" stroke-width="1.3" fill="none"/>
<text class="tl" x="396.50" y="30.8" text-anchor="middle" font-size="10.5">0</text>
<text class="tl" x="454.80" y="30.8" text-anchor="middle" font-size="10.5">400</text>
<text class="tl" x="513.10" y="30.8" text-anchor="middle" font-size="10.5">800</text>
<text class="tl" x="571.40" y="30.8" text-anchor="middle" font-size="10.5">1200</text>
<text class="tl" x="629.70" y="30.8" text-anchor="middle" font-size="10.5">1600</text>
<text class="tl" x="688.00" y="30.8" text-anchor="middle" font-size="10.5">2000</text>
<path d="M396.50,280.5V285.50M425.65,280.5V282.70M454.80,280.5V285.50M483.95,280.5V282.70M513.10,280.5V285.50M542.25,280.5V282.70M571.40,280.5V285.50M600.55,280.5V282.70M629.70,280.5V285.50M658.85,280.5V282.70M688.00,280.5V285.50" stroke="#222" stroke-width="1.3" fill="none"/>
<text class="tl" x="396.50" y="296.8" text-anchor="middle" font-size="10.3">0</text>
<text class="tl" x="454.80" y="296.8" text-anchor="middle" font-size="10.3">50</text>
<text class="tl" x="513.10" y="296.8" text-anchor="middle" font-size="10.3">100</text>
<text class="tl" x="571.40" y="296.8" text-anchor="middle" font-size="10.3">150</text>
<text class="tl" x="629.70" y="296.8" text-anchor="middle" font-size="10.3">200</text>
<text class="tl" x="688.00" y="296.8" text-anchor="middle" font-size="10.3">250</text>
<text class="ti" x="454.9" y="14.9" font-size="13.4">Neutron Energy Loss / cm<tspan font-size="10" dy="-3.8">-1</tspan></text>
<text class="ti" x="542.9" y="314.9" text-anchor="middle" font-size="13.3">Neutron Energy Loss / meV</text>
<text class="pl" x="357" y="39" font-size="27">b</text>
<text class="ti" transform="translate(382.1,159.7) rotate(-90)" text-anchor="middle" font-size="12" textLength="76.2" lengthAdjust="spacingAndGlyphs">S <tspan font-weight="normal" font-size="9.5">(</tspan>Q, <tspan font-weight="normal" font-family="Liberation Serif" font-size="10">&#969;</tspan><tspan font-weight="normal" font-size="9.5">)</tspan> (a.u)</text>
<text class="ti" x="405.6" y="97.9" text-anchor="middle" font-size="12">I</text>
<text class="ti" x="432.2" y="63.5" text-anchor="middle" font-size="12">II</text>
<text class="ti" x="462.5" y="187.3" text-anchor="middle" font-size="12">III</text>
<text class="ti" x="494.3" y="188.6" text-anchor="middle" font-size="12">IV</text>
<text class="ti" x="514.6" y="74.4" text-anchor="middle" font-size="12">V</text>
<text class="ti" x="532" y="248" text-anchor="middle" font-size="12">VI</text>
<text class="ti" x="561.7" y="218" text-anchor="middle" font-size="12">VII</text>
<line x1="397.2" y1="140" x2="397.2" y2="215" stroke="#111" stroke-width="1.3"/>
<path d="M538.0,126.8V149.5M538.9,134.6V164.0M540.0,135.9V162.9M540.8,129.9V153.0M541.8,141.4V156.4M542.9,142.1V161.3M544.0,131.3V155.3M545.1,117.9V148.0M545.9,121.6V142.1M546.6,127.5V145.1M547.3,134.4V153.3M548.3,130.7V159.8M549.1,139.1V154.6M549.8,138.8V170.4M550.6,150.0V160.7M551.6,142.9V170.6M552.5,154.4V170.6M553.5,144.7V162.3M554.5,137.4V157.4M555.2,147.6V158.7M556.1,151.2V163.2M557.1,141.3V169.7M558.1,144.4V165.7M559.0,147.9V174.1M560.0,139.4V165.2M560.9,138.0V161.8M561.9,145.4V159.2M562.5,135.2V167.9M563.3,133.3V162.6M563.9,135.6V166.1M564.9,136.2V161.9M565.7,136.0V163.7M566.6,140.5V166.6M567.4,142.1V157.2M568.2,132.9V156.0M569.0,122.0V163.9M569.6,135.7V150.5M570.6,131.7V153.4M571.8,126.5V143.5M572.6,125.4V141.6M573.3,127.3V142.0M574.4,130.7V170.0M575.3,125.1V155.4M576.1,140.5V160.3M577.2,149.8V162.8M578.1,152.3V175.2M579.1,149.3V171.0M579.9,147.4V181.6M580.7,136.4V169.9M581.5,139.3V158.4M582.6,133.6V147.3M583.6,121.0V148.7M584.3,117.3V141.1M585.5,124.9V141.6M586.3,125.3V154.9M586.9,130.6V155.9M588.1,135.5V146.3M588.7,128.9V152.2M589.5,139.5V150.3M590.3,123.4V155.1M590.9,139.1V154.8M591.5,137.2V157.3M592.6,139.6V158.2M593.4,129.0V155.0M594.4,123.9V148.9M595.3,123.7V151.7M596.4,132.1V145.9M597.1,117.2V154.7M597.9,122.0V150.7M598.9,114.6V144.1M599.8,133.9V154.7M600.8,134.2V146.0M601.4,126.1V154.3M602.3,127.2V156.3M603.2,127.9V143.2M604.0,116.7V152.5M605.1,130.6V156.4M606.1,129.6V146.5M607.3,131.1V153.2M608.2,132.2V154.5M609.4,137.9V159.4M610.4,137.5V150.4M611.1,131.1V153.1M612.0,130.6V155.4M613.1,127.1V150.1M614.1,133.0V156.9M614.8,129.4V146.7M615.6,133.4V147.3M616.4,119.8V158.5M617.4,133.0V158.2M618.4,133.5V159.5M619.5,130.1V154.2M620.6,119.1V146.6M621.6,127.2V145.7M622.5,124.7V146.0M623.1,131.5V145.4M624.2,119.5V151.7M625.4,130.4V145.6M626.4,110.0V146.0M627.4,126.3V142.4M628.2,120.3V145.8M629.0,128.5V137.8M630.1,125.4V136.7M631.3,123.0V138.5M632.4,123.1V135.8M633.3,108.6V160.4M634.4,119.2V134.8M635.1,116.6V146.9M635.9,125.9V144.0M636.8,123.6V139.1M637.6,122.5V150.8M638.4,120.2V140.9M639.5,128.5V151.1M640.3,119.9V154.3M641.2,123.8V151.5M642.3,129.0V146.3M643.1,132.6V142.4M644.0,134.3V144.3M645.2,133.6V144.6M645.8,131.3V143.7M647.0,130.6V144.9M648.1,133.3V143.5M649.0,134.6V146.5M649.9,119.0V156.1M650.9,129.1V145.9M651.9,128.2V153.4M652.8,110.0V151.3M653.5,131.6V147.3M654.6,122.5V148.9M655.4,129.2V148.0M656.4,127.2V145.9M657.4,134.8V146.1M658.6,137.3V146.8M659.8,134.4V160.4M660.8,130.7V151.9M661.5,136.7V149.2M662.2,138.0V155.8M662.9,131.9V151.9M663.9,139.8V159.2M664.9,136.4V150.5M665.5,137.7V152.0M666.7,137.0V153.4M667.6,132.9V155.6M668.6,143.5V163.0M669.6,143.0V162.0M670.5,117.4V154.0M671.5,131.2V156.2M672.7,128.2V159.7M673.9,126.8V153.8M674.6,134.0V151.5M675.3,134.5V147.5M676.3,136.3V149.9M677.1,121.9V148.6M678.1,133.9V150.4M678.8,137.0V146.5M679.8,128.4V153.4M680.8,133.7V147.1M681.5,135.9V151.8M682.3,137.4V149.3M683.0,136.9V153.3M684.0,131.8V161.6M684.9,134.5V152.3M686.0,135.9V152.3M686.9,133.4V161.0M534.8,111.5V150.0M561.2,121.3V150.0M558.9,150.0V205.4M588.2,115.4V150.0M652.5,110.0V150.0M667.5,118.0V167.0M618.0,115.0V150.0M608.0,120.0V158.0M609.0,140.0V178.0M656.0,130.0V176.0M632.0,112.0V135.0M669.0,140.0V168.0" stroke="#7e7e7e" stroke-width="1.05" fill="none"/>
<polyline fill="none" stroke="#111" stroke-width="1.4" stroke-linejoin="round"  points="397.00,119.76 397.22,152.95 397.44,151.40 397.66,122.46 397.88,123.66 398.10,122.26 398.32,154.76 398.54,126.75 398.76,118.49 398.98,120.72 399.20,122.89 399.42,147.02 399.64,146.67 399.86,151.60 400.08,148.48 400.30,152.09 400.52,154.09 400.74,150.30 400.96,122.14 401.18,149.66 401.40,123.12 401.62,127.03 401.84,151.78 402.06,154.71 402.28,148.01 402.50,127.62 402.72,128.36 402.94,127.09 403.16,150.30 403.38,126.75 403.60,128.00 403.82,124.23 404.04,128.52 404.26,153.51 404.48,150.75 404.70,131.72 404.92,129.81 405.14,133.11 405.36,155.12 405.58,133.87 405.80,130.69 406.02,129.18 406.24,153.20 406.46,154.37 406.68,132.88 406.90,152.83 407.12,131.91 407.34,135.42 407.56,134.58 407.78,135.73 408.00,153.50 408.22,134.00 408.44,136.44 408.66,151.86 408.88,151.82 409.10,152.73 409.32,154.71 409.54,137.05 409.76,155.37 409.98,155.45 410.20,140.64 410.42,138.22 410.64,136.06 410.86,157.91 411.08,155.54 411.30,154.24 411.52,155.91 411.74,137.95 411.96,154.88 412.18,141.84 412.40,141.86 412.62,140.53 412.84,140.90 413.06,143.44 413.28,161.49 413.50,160.09 413.72,143.17 413.94,167.92 414.16,149.52 414.38,169.90 415.50,150.00 416.50,125.00 418.10,115.73 418.45,117.95 418.80,126.47 419.15,123.34 419.50,129.56 419.85,141.16 420.20,134.15 420.55,137.42 420.90,143.60 420.90,143.57 421.25,146.87 421.60,145.52 421.95,143.67 422.30,147.20 422.65,154.96 423.00,151.72 423.35,140.68 423.70,149.06 424.05,147.66 424.10,152.10 424.40,151.12 424.75,158.78 425.10,157.42 425.45,158.85 425.80,158.36 426.15,159.25 426.50,161.90 426.85,166.22 427.20,165.56 427.40,163.88 427.55,169.21 427.90,167.49 428.25,168.13 428.60,167.48 428.95,169.56 429.00,169.56 429.30,163.00 429.65,173.70 430.00,172.04 430.35,169.43 430.60,172.83 430.70,170.03 431.05,166.18 431.40,154.27 431.75,157.12 432.10,155.68 432.45,155.15 432.80,152.17 433.10,147.83 433.15,140.16 433.50,135.98 433.85,142.82 434.20,140.07 434.55,141.60 434.90,137.26 435.25,137.08 435.50,131.25 435.60,137.57 435.95,137.33 436.30,141.98 436.65,144.64 437.00,145.32 437.20,147.92 437.35,147.34 437.70,150.47 438.05,150.61 438.40,148.45 438.75,149.22 439.10,156.87 439.45,152.40 439.80,156.46 440.15,155.61 440.40,153.46 440.50,152.80 440.85,154.87 441.20,154.82 441.55,155.41 441.90,149.51 442.25,151.01 442.60,152.01 442.90,156.54 442.95,145.14 443.30,153.85 443.65,151.60 444.00,155.01 444.35,152.92 444.70,155.99 445.05,160.07 445.40,157.15 445.75,157.97 446.10,158.38 446.45,155.71 446.80,160.06 447.15,158.47 447.50,157.31 447.70,159.89 447.85,159.49 448.20,162.69 448.55,160.73 448.90,159.66 449.25,165.77 449.60,164.77 449.95,165.93 450.30,164.36 450.65,162.63 451.00,162.08 451.00,162.49 451.35,163.46 451.70,158.45 452.05,151.24 452.40,152.84 452.75,146.25 453.10,148.25 453.45,141.69 453.80,138.93 454.15,140.35 454.30,138.67 454.50,134.89 454.85,143.29 455.20,148.81 455.55,139.66 455.90,150.64 456.25,144.79 456.60,146.76 456.70,148.08 456.95,145.77 457.30,155.64 457.65,155.21 458.00,153.52 458.35,156.80 458.70,155.12 459.05,160.42 459.10,164.42 459.40,158.08 459.75,163.36 460.10,166.63 460.45,170.81 460.80,173.26 460.90,168.47 461.15,165.69 461.50,166.40 461.85,161.29 462.20,158.70 462.55,159.98 462.90,159.00 462.90,154.87 463.25,153.31 463.60,155.30 463.95,147.94 464.30,153.13 464.65,149.88 465.00,159.65 465.35,154.58 465.70,152.68 465.80,151.64 466.05,145.03 466.40,154.56 466.75,157.39 467.10,150.72 467.45,154.99 467.80,155.27 468.15,148.86 468.50,156.23 468.85,157.61 469.20,154.52 469.55,153.84 469.70,156.39 469.90,149.57 470.25,154.19 470.60,156.87 470.95,150.09 471.30,156.46 471.65,152.26 472.00,147.32 472.35,152.94 472.70,150.32 473.05,153.95 473.40,149.51 473.75,155.84 474.10,150.54 474.45,153.60 474.80,150.74 475.15,151.41 475.50,155.69 475.60,152.82 475.85,151.13 476.20,148.76 476.55,155.87 476.90,154.74 477.25,151.78 477.60,153.55 477.95,149.97 478.30,150.13 478.65,150.79 479.00,154.32 479.35,154.27 479.70,151.36 480.05,155.77 480.40,156.02 480.75,154.36 481.10,156.98 481.45,153.25 481.50,153.77 481.80,155.67 482.15,154.43 482.50,157.06 482.85,151.36 483.20,159.36 483.55,153.19 483.90,155.21 484.25,151.92 484.60,157.89 484.95,160.07 485.30,159.72 485.65,159.26 486.00,152.56 486.35,155.04 486.70,156.20 487.05,155.06 487.40,161.26 487.40,158.54 487.75,156.45 488.10,156.46 488.45,150.81 488.80,149.46 489.15,148.06 489.50,150.59 489.70,149.29 489.85,151.06 490.20,155.03 490.55,150.49 490.90,155.33 491.25,159.90 491.60,158.09 491.60,160.46 491.95,165.62 492.30,166.56 492.65,167.17 493.00,164.85 493.35,164.80 493.60,169.03 493.70,164.37 494.05,164.84 494.40,166.11 494.75,159.61 495.10,157.32 495.45,157.48 495.80,157.65 496.15,155.73 496.20,154.55 496.50,155.52 496.85,149.04 497.20,150.95 497.55,153.69 497.90,150.29 498.25,148.87 498.60,149.02 498.95,149.64 499.10,151.68 499.30,149.33 499.65,153.15 500.00,157.56 500.35,152.38 500.70,156.68 501.05,153.99 501.40,150.07 501.75,152.75 502.10,150.81 502.45,156.06 502.80,150.66 503.00,157.94 503.15,155.49 503.50,147.27 503.85,154.73 504.20,156.28 504.55,148.81 504.90,153.28 505.25,144.53 505.60,149.80 505.95,143.58 506.00,149.70 506.30,141.94 506.65,138.12 507.00,145.53 507.35,149.64 507.70,139.91 508.05,142.67 508.40,139.21 508.50,137.56 508.75,142.34 509.10,148.19 509.45,142.72 509.80,150.81 510.15,153.05 510.40,149.97 510.50,158.13 510.85,156.83 511.20,146.14 511.55,151.66 511.90,144.51 512.25,141.60 512.60,144.16 512.80,139.16 512.95,138.73 513.30,140.54 513.65,138.22 514.00,135.42 514.35,127.12 514.70,124.96 515.05,131.14 515.40,123.53 515.70,125.23 515.75,121.41 516.10,122.10 516.45,117.03 516.80,123.57 517.15,114.00 517.50,114.70 517.85,112.61 518.20,114.76 518.55,105.25 518.60,109.00 518.90,109.68 519.25,113.20 519.60,114.42 519.95,113.09 520.30,116.51 520.60,115.91 520.65,118.52 521.00,118.01 521.35,117.55 521.70,120.51 522.05,122.79 522.40,129.45 522.75,122.60 523.10,126.06 523.45,130.55 523.60,120.77 523.80,122.82 524.15,126.31 524.50,131.31 524.85,140.60 525.20,136.54 525.55,140.79 525.90,138.53 526.25,133.91 526.50,135.69 526.60,145.76 526.95,144.75 527.30,141.86 527.65,150.28 528.00,143.99 528.35,153.15 528.70,155.48 529.05,150.47 529.40,150.89 529.40,156.55 529.75,152.53 530.10,159.80 530.45,155.44 530.80,162.85 531.15,162.38 531.50,162.46 531.85,162.72 532.00,166.69 532.20,160.79 532.55,165.96 532.90,166.10 533.25,169.70 533.30,164.16 533.60,159.93 533.95,139.08 534.30,121.70 534.30,129.02 534.65,130.47 535.00,125.75 535.35,124.36 535.70,127.64 536.05,126.24 536.30,127.80 536.40,133.77 536.75,132.30 537.10,133.50 537.45,135.99 537.80,136.74 538.00,135.99"/>
<polyline fill="none" stroke="#151515" stroke-width="1.0" stroke-linejoin="round"  points="538.00,135.99 538.90,132.35 539.80,125.70 540.70,140.55 541.60,152.75 542.50,156.08 543.40,149.69 544.30,140.82 545.20,135.26 546.10,134.58 547.00,139.71 547.90,131.63 548.80,150.56 549.70,142.47 550.60,154.36 551.50,155.11 552.40,160.16 553.30,150.10 554.20,143.36 555.10,150.92 556.00,150.56 556.90,173.12 557.80,157.16 558.70,154.47 559.60,151.28 560.50,146.24 561.40,136.20 562.30,146.97 563.20,148.41 564.10,136.04 565.00,147.70 565.90,143.56 566.80,153.28 567.70,153.31 568.60,149.20 569.50,144.07 570.40,134.23 571.30,142.21 572.20,133.30 573.10,137.96 574.00,144.43 574.90,142.99 575.80,142.62 576.70,158.95 577.60,153.27 578.50,157.73 579.40,152.96 580.30,157.36 581.20,145.81 582.10,129.46 583.00,142.52 583.90,147.23 584.80,146.87 585.70,134.34 586.60,139.29 587.50,143.43 588.40,147.30 589.30,143.96 590.20,139.05 591.10,149.68 592.00,147.91 592.90,135.66 593.80,140.61 594.70,141.36 595.60,139.66 596.50,142.60 597.40,144.05 598.30,142.46 599.20,138.54 600.10,131.26 601.00,142.53 601.90,146.97 602.80,150.18 603.70,138.60 604.60,139.33 605.50,148.67 606.40,149.37 607.30,143.75 608.20,146.65 609.10,138.84 610.00,146.11 610.90,137.03 611.80,140.08 612.70,139.31 613.60,137.20 614.50,128.57 615.40,136.93 616.30,144.55 617.20,143.00 618.10,140.53 619.00,144.75 619.90,145.71 620.80,146.09 621.70,135.94 622.60,140.19 623.50,137.58 624.40,133.88 625.30,129.51 626.20,136.37 627.10,130.63 628.00,146.94 628.90,132.63 629.80,130.66 630.70,128.40 631.60,140.34 632.50,122.76 633.40,127.78 634.30,125.62 635.20,130.72 636.10,132.60 637.00,140.55 637.90,127.33 638.80,136.55 639.70,146.35 640.60,134.32 641.50,136.56 642.40,132.75 643.30,123.01 644.20,137.89 645.10,145.42 646.00,135.89 646.90,127.89 647.80,140.15 648.70,139.06 649.60,144.40 650.50,143.88 651.40,137.03 652.30,140.92 653.20,128.17 654.10,145.06 655.00,140.11 655.90,145.88 656.80,146.30 657.70,139.03 658.60,140.38 659.50,136.73 660.40,130.37 661.30,142.14 662.20,144.39 663.10,138.12 664.00,149.46 664.90,146.81 665.80,149.79 666.70,143.61 667.60,138.75 668.50,154.41 669.40,153.05 670.30,147.44 671.20,144.20 672.10,143.60 673.00,142.98 673.90,139.54 674.80,130.71 675.70,146.81 676.60,133.47 677.50,140.10 678.40,140.13 679.30,143.31 680.20,132.33 681.10,148.57 682.00,145.58 682.90,146.84 683.80,150.32 684.70,138.94 685.60,125.98 686.50,146.70 687.40,152.98"/>
<polyline fill="none" stroke="#ff2a2a" stroke-width="1.2" stroke-linejoin="round"  points="396.80,121.00 397.20,120.52 397.60,120.05 398.00,119.57 398.40,119.10 398.80,118.62 398.90,118.50 399.20,123.46 399.60,130.08 400.00,136.69 400.20,140.00 400.40,144.24 400.80,152.71 401.20,161.18 401.30,163.30 401.60,166.46 402.00,170.67 402.40,174.88 402.80,179.09 403.00,181.20 403.20,175.87 403.60,165.22 404.00,154.56 404.10,151.90 404.40,145.14 404.80,136.12 405.20,127.11 405.40,122.60 405.60,120.34 406.00,115.82 406.40,111.29 406.70,107.90 406.80,108.51 407.20,110.96 407.60,113.41 408.00,115.86 408.30,117.70 408.40,118.46 408.80,121.52 409.20,124.58 409.60,127.64 410.00,130.70 410.00,130.70 410.40,128.68 410.80,126.65 411.20,124.63 411.60,122.60 411.60,122.60 412.00,128.30 412.40,134.00 412.80,139.70 413.20,145.40 413.20,145.40 413.60,147.57 414.00,149.73 414.40,151.90 414.40,151.90 414.80,145.80 415.20,139.70 415.60,133.60 416.00,127.50 416.00,127.50 416.40,125.60 416.80,123.70 417.20,121.80 417.60,119.90 418.00,118.00 418.40,116.10 418.40,116.10 418.80,116.87 419.20,117.64 419.60,118.40 420.00,119.17 420.40,119.94 420.80,120.71 420.90,120.90 421.20,120.70 421.60,120.43 422.00,120.17 422.40,119.90 422.80,119.63 423.20,119.37 423.30,119.30 423.60,120.53 424.00,122.17 424.40,123.81 424.80,125.45 425.20,127.09 425.30,127.50 425.60,128.89 426.00,130.73 426.40,132.58 426.80,134.43 427.20,136.28 427.40,137.20 427.60,138.38 428.00,140.75 428.40,143.11 428.50,143.70 428.80,138.83 429.20,132.34 429.60,125.85 429.80,122.60 430.00,113.42 430.40,95.05 430.80,76.69 430.90,72.10 431.20,77.47 431.60,84.63 431.90,90.00 432.00,92.71 432.40,103.56 432.80,114.40 432.80,114.40 433.20,120.33 433.60,126.25 433.90,130.70 434.00,130.80 434.40,131.22 434.80,131.64 435.20,132.05 435.60,132.47 436.00,132.89 436.30,133.20 436.40,133.21 436.80,133.23 437.20,133.25 437.60,133.28 438.00,133.30 438.40,133.33 438.80,133.35 439.20,133.38 439.60,133.40 440.00,133.42 440.40,133.45 440.80,133.47 441.20,133.50 441.60,133.52 442.00,133.55 442.40,133.57 442.80,133.59 442.90,133.60 443.20,133.67 443.60,133.75 444.00,133.84 444.40,133.93 444.80,134.02 445.20,134.10 445.60,134.19 446.00,134.28 446.10,134.30 446.40,133.78 446.80,133.08 447.20,132.38 447.60,131.68 447.70,131.50 448.00,131.87 448.40,132.36 448.80,132.86 449.20,133.35 449.40,133.60 449.60,133.57 450.00,133.52 450.40,133.46 450.80,133.41 451.20,133.35 451.60,133.30 452.00,133.24 452.40,133.18 452.80,133.13 453.20,133.07 453.60,133.02 454.00,132.96 454.40,132.91 454.80,132.85 455.20,132.80 455.60,132.74 455.90,132.70 456.00,132.72 456.40,132.81 456.80,132.90 457.20,132.99 457.60,133.07 458.00,133.16 458.40,133.25 458.80,133.34 459.20,133.42 459.60,133.51 460.00,133.60 460.00,133.60 460.40,140.13 460.80,146.67 460.90,148.30 461.20,151.21 461.60,155.09 461.90,158.00 462.00,156.17 462.40,148.84 462.80,141.52 463.20,134.19 463.50,128.70 463.60,128.55 464.00,127.97 464.40,127.38 464.80,126.80 464.80,126.80 465.20,128.16 465.60,129.52 466.00,130.88 466.40,132.24 466.80,133.60 466.80,133.60 467.20,133.66 467.60,133.72 468.00,133.77 468.40,133.83 468.80,133.89 469.20,133.95 469.60,134.01 470.00,134.06 470.40,134.12 470.80,134.18 471.20,134.24 471.60,134.30 472.00,134.35 472.40,134.41 472.80,134.47 473.20,134.53 473.60,134.59 473.70,134.60 474.00,134.65 474.40,134.72 474.80,134.79 475.20,134.86 475.60,134.93 476.00,135.00 476.40,135.07 476.80,135.13 477.20,135.20 477.60,135.27 478.00,135.34 478.40,135.41 478.80,135.48 479.20,135.55 479.50,135.60 479.60,135.78 480.00,136.51 480.40,137.23 480.80,137.96 481.10,138.50 481.20,138.08 481.60,136.39 482.00,134.71 482.40,133.02 482.50,132.60 482.80,132.65 483.20,132.72 483.60,132.79 484.00,132.86 484.40,132.93 484.80,133.00 485.20,133.07 485.60,133.13 486.00,133.20 486.40,133.27 486.80,133.34 487.20,133.41 487.60,133.48 488.00,133.55 488.30,133.60 488.40,134.37 488.80,137.46 489.20,140.54 489.60,143.63 489.70,144.40 490.00,148.80 490.40,154.67 490.80,160.53 490.90,162.00 491.20,164.26 491.60,167.28 492.00,170.29 492.20,171.80 492.40,170.11 492.80,166.74 493.20,163.37 493.60,160.00 493.60,160.00 494.00,155.10 494.40,150.20 494.80,145.30 495.20,140.40 495.20,140.40 495.60,140.21 496.00,140.02 496.40,139.83 496.80,139.64 497.10,139.50 497.20,139.59 497.60,139.97 498.00,140.35 498.40,140.73 498.80,141.11 499.10,141.40 499.20,141.28 499.60,140.81 500.00,140.33 500.40,139.86 500.70,139.50 500.80,140.18 501.20,142.88 501.60,145.59 502.00,148.30 502.00,148.30 502.40,148.30 502.80,148.30 503.20,148.30 503.40,148.30 503.60,147.31 504.00,145.34 504.40,143.36 504.80,141.39 505.00,140.40 505.20,141.64 505.60,144.13 506.00,146.61 506.40,149.09 506.80,151.58 506.90,152.20 507.20,153.42 507.60,155.06 508.00,156.69 508.40,158.32 508.80,159.96 509.20,161.59 509.30,162.00 509.60,157.30 510.00,151.03 510.40,144.77 510.80,138.50 510.80,138.50 511.20,131.15 511.60,123.80 512.00,116.45 512.40,109.10 512.40,109.10 512.80,102.41 513.20,95.73 513.60,89.04 513.80,85.70 514.00,84.90 514.40,83.30 514.70,82.10 514.80,82.81 515.20,85.66 515.60,88.51 516.00,91.36 516.30,93.50 516.40,95.31 516.80,102.57 517.20,109.83 517.60,117.09 517.70,118.90 518.00,120.45 518.40,122.51 518.80,124.57 519.20,126.64 519.60,128.70 519.60,128.70 520.00,129.35 520.40,130.01 520.80,130.66 521.20,131.31 521.60,131.97 522.00,132.62 522.40,133.27 522.60,133.60 522.80,134.34 523.20,135.83 523.60,137.32 524.00,138.81 524.40,140.30 524.80,141.79 525.20,143.28 525.50,144.40 525.60,144.68 526.00,145.80 526.40,146.92 526.80,148.04 527.20,149.16 527.50,150.00 527.60,150.76 528.00,153.79 528.40,156.82 528.80,159.86 529.20,162.89 529.60,165.92 529.90,168.20 530.00,170.58 530.40,180.09 530.80,189.60 530.80,189.60 531.20,204.20 531.60,218.80 532.00,233.40 532.00,233.40 532.40,222.27 532.80,211.13 533.20,200.00 533.20,200.00 533.60,186.10 534.00,172.20 534.40,158.30 534.40,158.30 534.80,156.67 535.20,155.04 535.60,153.41 535.80,152.60 536.00,151.36 536.40,148.87 536.80,146.39 537.20,143.91 537.60,141.42 537.70,140.80 538.00,140.41 538.40,139.89 538.80,139.37 539.20,138.85 539.60,138.33 540.00,137.81 540.40,137.29 540.70,136.90 540.80,136.94 541.20,137.10 541.60,137.27 542.00,137.43 542.40,137.59 542.80,137.76 543.20,137.92 543.60,138.08 544.00,138.25 544.40,138.41 544.80,138.57 545.20,138.74 545.60,138.90 545.60,138.90 546.00,139.55 546.40,140.20 546.80,140.85 547.20,141.50 547.60,142.15 548.00,142.80 548.40,143.45 548.80,144.10 549.20,144.75 549.60,145.40 550.00,146.05 550.40,146.70 550.40,146.70 550.80,149.83 551.20,152.97 551.60,156.10 552.00,159.23 552.40,162.37 552.80,165.50 553.20,168.63 553.40,170.20 553.60,168.45 554.00,164.94 554.40,161.44 554.80,157.94 555.20,154.43 555.60,150.93 556.00,147.43 556.30,144.80 556.40,144.66 556.80,144.09 557.20,143.51 557.60,142.94 557.70,142.80 558.00,144.76 558.40,147.37 558.80,149.99 559.20,152.60 559.20,152.60 559.60,154.54 560.00,156.48 560.40,158.42 560.80,160.36 561.20,162.30 561.20,162.30 561.60,162.04 562.00,161.78 562.40,161.51 562.80,161.25 563.20,160.99 563.60,160.73 564.00,160.47 564.10,160.40 564.40,158.84 564.80,156.76 565.20,154.68 565.60,152.60 566.00,150.52 566.40,148.44 566.80,146.36 567.10,144.80 567.20,144.24 567.60,142.02 568.00,139.79 568.40,137.57 568.80,135.34 569.20,133.11 569.40,132.00 569.60,131.89 570.00,131.66 570.40,131.44 570.80,131.21 571.00,131.10 571.20,131.77 571.60,133.11 572.00,134.44 572.40,135.78 572.80,137.12 573.20,138.46 573.60,139.80 573.90,140.80 574.00,141.22 574.40,142.88 574.80,144.54 575.20,146.20 575.60,147.86 576.00,149.52 576.40,151.18 576.80,152.84 577.20,154.50 577.20,154.50 577.60,153.90 578.00,153.30 578.40,152.70 578.80,152.10 579.20,151.50 579.60,150.90 579.80,150.60 580.00,149.99 580.40,148.78 580.80,147.57 581.20,146.35 581.60,145.14 582.00,143.92 582.40,142.71 582.70,141.80 582.80,141.78 583.20,141.72 583.60,141.65 584.00,141.58 584.40,141.51 584.80,141.44 585.20,141.38 585.60,141.31 586.00,141.24 586.40,141.17 586.80,141.11 587.20,141.04 587.60,140.97 588.00,140.90 588.40,140.83 588.60,140.80 588.80,140.73 589.20,140.60 589.60,140.47 590.00,140.34 590.40,140.21 590.80,140.08 591.20,139.95 591.60,139.82 592.00,139.69 592.40,139.56 592.80,139.42 593.20,139.29 593.60,139.16 594.00,139.03 594.40,138.90 594.40,138.90 594.80,138.85 595.20,138.79 595.60,138.74 596.00,138.69 596.40,138.64 596.80,138.58 597.20,138.53 597.60,138.48 598.00,138.43 598.40,138.37 598.80,138.32 599.20,138.27 599.60,138.21 600.00,138.16 600.40,138.11 600.80,138.06 601.20,138.00 601.60,137.95 602.00,137.90 602.40,137.85 602.80,137.79 603.20,137.74 603.50,137.70 603.60,137.78 604.00,138.11 604.40,138.44 604.80,138.78 605.20,139.11 605.60,139.44 606.00,139.77 606.40,140.10 606.80,140.43 607.20,140.76 607.60,141.09 608.00,141.42 608.40,141.76 608.80,142.09 609.20,142.42 609.30,142.50 609.60,142.20 610.00,141.80 610.40,141.40 610.80,141.00 611.20,140.60 611.60,140.20 612.00,139.80 612.40,139.40 612.80,139.00 613.20,138.60 613.20,138.60 613.60,139.00 614.00,139.40 614.40,139.80 614.80,140.20 615.20,140.60 615.60,141.00 616.00,141.40 616.40,141.80 616.80,142.20 617.10,142.50 617.20,142.44 617.60,142.20 618.00,141.95 618.40,141.71 618.80,141.47 619.20,141.22 619.60,140.98 620.00,140.74 620.40,140.49 620.80,140.25 621.20,140.01 621.60,139.77 622.00,139.52 622.40,139.28 622.80,139.04 623.20,138.79 623.60,138.55 624.00,138.31 624.40,138.06 624.80,137.82 625.00,137.70 625.20,137.42 625.60,136.87 626.00,136.32 626.40,135.76 626.80,135.21 627.20,134.65 627.60,134.10 628.00,133.55 628.40,132.99 628.80,132.44 629.20,131.88 629.60,131.33 630.00,130.78 630.40,130.22 630.80,129.67 631.20,129.12 631.60,128.56 632.00,128.01 632.40,127.45 632.80,126.90 632.80,126.90 633.20,127.51 633.60,128.11 634.00,128.72 634.40,129.33 634.80,129.93 635.20,130.54 635.60,131.15 636.00,131.76 636.40,132.36 636.80,132.97 637.20,133.58 637.60,134.18 638.00,134.79 638.40,135.40 638.60,135.70 638.80,135.77 639.20,135.90 639.60,136.04 640.00,136.17 640.40,136.31 640.80,136.45 641.20,136.58 641.60,136.72 642.00,136.85 642.40,136.99 642.80,137.12 643.20,137.26 643.60,137.39 644.00,137.53 644.40,137.67 644.50,137.70 644.80,137.70 645.20,137.70 645.60,137.70 646.00,137.70 646.40,137.70 646.80,137.70 647.20,137.70 647.60,137.70 648.00,137.70 648.40,137.70 648.80,137.70 649.20,137.70 649.60,137.70 650.00,137.70 650.40,137.70 650.80,137.70 651.20,137.70 651.60,137.70 652.00,137.70 652.40,137.70 652.80,137.70 653.20,137.70 653.60,137.70 654.00,137.70 654.30,137.70 654.40,137.76 654.80,138.01 655.20,138.25 655.60,138.50 656.00,138.75 656.40,138.99 656.80,139.24 657.20,139.48 657.60,139.73 658.00,139.98 658.40,140.22 658.80,140.47 659.20,140.72 659.60,140.96 660.00,141.21 660.40,141.45 660.80,141.70 661.20,141.95 661.60,142.19 662.00,142.44 662.10,142.50 662.40,142.80 662.80,143.21 663.20,143.62 663.60,144.02 664.00,144.43 664.40,144.83 664.80,145.24 665.20,145.65 665.60,146.05 666.00,146.46 666.40,146.86 666.80,147.27 667.20,147.67 667.60,148.08 668.00,148.49 668.40,148.89 668.80,149.30 668.90,149.40 669.20,148.92 669.60,148.29 670.00,147.65 670.40,147.01 670.80,146.38 671.20,145.74 671.60,145.10 672.00,144.47 672.40,143.83 672.80,143.19 673.20,142.56 673.60,141.92 673.80,141.60 674.00,141.57 674.40,141.52 674.80,141.47 675.20,141.42 675.60,141.37 676.00,141.32 676.40,141.27 676.80,141.22 677.20,141.16 677.60,141.11 678.00,141.06 678.40,141.01 678.80,140.96 679.20,140.91 679.60,140.86 680.00,140.81 680.40,140.75 680.80,140.70 681.20,140.65 681.60,140.60 681.60,140.60 682.00,140.86 682.40,141.13 682.80,141.39 683.20,141.66 683.60,141.92 684.00,142.19 684.40,142.45 684.80,142.72 685.20,142.98 685.60,143.24 686.00,143.51 686.40,143.77 686.80,144.04 687.20,144.30 687.50,144.50"/>
<path d="M26.1,336H316V573.4H26.1Z" fill="none" stroke="#333" stroke-width="1.7" stroke-linejoin="miter"/>
<path d="M26.10,573.4V577.00M44.22,573.4V576.00M62.34,573.4V577.00M80.46,573.4V576.00M98.57,573.4V577.00M116.69,573.4V576.00M134.81,573.4V577.00M152.93,573.4V576.00M171.05,573.4V577.00M189.17,573.4V576.00M207.29,573.4V577.00M225.41,573.4V576.00M243.52,573.4V577.00M261.64,573.4V576.00M279.76,573.4V577.00M297.88,573.4V576.00M316.00,573.4V577.00" stroke="#333" stroke-width="1.3" fill="none"/>
<text class="tl" transform="translate(26.10,589.2) scale(0.86,1)" text-anchor="middle" font-size="10">315</text>
<text class="tl" transform="translate(62.34,589.2) scale(0.86,1)" text-anchor="middle" font-size="10">320</text>
<text class="tl" transform="translate(98.57,589.2) scale(0.86,1)" text-anchor="middle" font-size="10">325</text>
<text class="tl" transform="translate(134.81,589.2) scale(0.86,1)" text-anchor="middle" font-size="10">330</text>
<text class="tl" transform="translate(171.05,589.2) scale(0.86,1)" text-anchor="middle" font-size="10">335</text>
<text class="tl" transform="translate(207.29,589.2) scale(0.86,1)" text-anchor="middle" font-size="10">340</text>
<text class="tl" transform="translate(243.52,589.2) scale(0.86,1)" text-anchor="middle" font-size="10">345</text>
<text class="tl" transform="translate(279.76,589.2) scale(0.86,1)" text-anchor="middle" font-size="10">350</text>
<text class="tl" transform="translate(316.00,589.2) scale(0.86,1)" text-anchor="middle" font-size="10">355</text>
<text class="tn" x="118.6" y="608.5" font-size="11.6" textLength="103.4" lengthAdjust="spacingAndGlyphs">Magnetic Field (mT)</text>
<text class="pl" transform="translate(2.8,345.6) scale(0.83,1)" x="0" y="0" font-size="27">c</text>
<polyline fill="none" stroke="#111" stroke-width="1.3" stroke-linejoin="round"  points="26.50,419.60 26.90,419.59 27.30,419.59 27.70,419.58 28.10,419.57 28.50,419.57 28.90,419.56 29.30,419.55 29.70,419.55 30.10,419.54 30.50,419.53 30.90,419.52 31.30,419.52 31.70,419.51 32.10,419.50 32.50,419.49 32.90,419.48 33.30,419.47 33.70,419.46 34.10,419.45 34.50,419.44 34.90,419.43 35.30,419.42 35.70,419.41 36.10,419.40 36.50,419.39 36.90,419.38 37.30,419.37 37.70,419.36 38.10,419.35 38.50,419.34 38.90,419.33 39.30,419.32 39.70,419.31 40.00,419.30 40.10,419.30 40.50,419.29 40.90,419.27 41.30,419.26 41.70,419.24 42.10,419.23 42.50,419.21 42.90,419.19 43.30,419.18 43.70,419.16 44.10,419.14 44.50,419.12 44.90,419.10 45.30,419.08 45.70,419.06 46.10,419.03 46.50,419.01 46.90,418.99 47.30,418.97 47.70,418.95 48.10,418.92 48.50,418.90 48.90,418.88 49.30,418.86 49.70,418.83 50.10,418.81 50.50,418.79 50.90,418.77 51.30,418.74 51.70,418.72 52.10,418.70 52.50,418.68 52.90,418.66 53.30,418.64 53.70,418.62 54.10,418.60 54.50,418.58 54.90,418.56 55.30,418.55 55.70,418.53 56.10,418.51 56.50,418.50 56.90,418.48 57.30,418.47 57.70,418.46 58.10,418.45 58.50,418.44 58.90,418.43 59.30,418.42 59.70,418.41 60.10,418.41 60.50,418.40 60.90,418.40 61.30,418.40 61.50,418.40 61.70,418.40 62.10,418.40 62.50,418.41 62.90,418.41 63.30,418.42 63.70,418.43 64.10,418.44 64.50,418.45 64.90,418.46 65.30,418.48 65.70,418.50 66.10,418.51 66.50,418.53 66.90,418.55 67.30,418.57 67.70,418.60 68.10,418.62 68.50,418.64 68.90,418.67 69.30,418.70 69.70,418.72 70.10,418.75 70.50,418.78 70.90,418.81 71.30,418.84 71.70,418.87 72.10,418.90 72.50,418.93 72.90,418.96 73.30,418.99 73.70,419.02 74.10,419.05 74.50,419.09 74.90,419.12 75.30,419.15 75.70,419.18 76.10,419.21 76.50,419.24 76.90,419.28 77.30,419.31 77.70,419.34 78.10,419.37 78.50,419.40 78.90,419.42 79.30,419.45 79.70,419.48 80.00,419.50 80.10,419.51 80.50,419.53 80.90,419.56 81.30,419.59 81.70,419.61 82.10,419.64 82.50,419.67 82.90,419.69 83.30,419.72 83.70,419.75 84.10,419.77 84.50,419.80 84.90,419.83 85.30,419.86 85.70,419.88 86.10,419.91 86.50,419.94 86.90,419.97 87.30,420.00 87.70,420.02 88.10,420.05 88.50,420.08 88.90,420.11 89.30,420.14 89.70,420.17 90.10,420.20 90.50,420.23 90.90,420.26 91.30,420.29 91.70,420.32 92.10,420.35 92.50,420.38 92.90,420.41 93.30,420.44 93.70,420.47 94.10,420.50 94.50,420.53 94.90,420.57 95.30,420.60 95.70,420.63 96.10,420.66 96.50,420.70 96.90,420.73 97.30,420.76 97.70,420.80 98.10,420.83 98.50,420.87 98.90,420.90 99.30,420.94 99.70,420.97 100.00,421.00 100.10,421.01 100.50,421.05 100.90,421.09 101.30,421.14 101.70,421.18 102.10,421.23 102.50,421.29 102.90,421.34 103.30,421.40 103.70,421.45 104.10,421.51 104.50,421.57 104.90,421.63 105.30,421.69 105.70,421.74 106.10,421.80 106.50,421.85 106.90,421.91 107.30,421.96 107.70,422.01 108.10,422.05 108.50,422.10 108.90,422.14 109.30,422.17 109.70,422.21 110.10,422.24 110.50,422.26 110.90,422.28 111.30,422.29 111.70,422.30 112.00,422.30 112.10,422.30 112.50,422.28 112.90,422.23 113.30,422.15 113.70,422.05 114.10,421.93 114.50,421.80 114.90,421.66 115.30,421.50 115.30,421.50 115.70,421.30 116.10,421.01 116.50,420.64 116.90,420.21 117.30,419.73 117.70,419.19 118.10,418.61 118.50,418.00 118.50,418.00 118.90,417.28 119.30,416.39 119.70,415.37 120.10,414.24 120.50,413.05 120.90,411.82 121.30,410.60 121.50,410.00 121.70,409.37 122.10,407.93 122.50,406.36 122.90,404.78 123.30,403.30 123.70,402.06 124.10,401.16 124.20,401.00 124.50,400.58 124.90,400.06 125.30,399.60 125.70,399.23 126.10,398.99 126.50,398.90 126.50,398.90 126.90,399.04 127.30,399.42 127.70,399.99 128.10,400.72 128.50,401.56 128.70,402.00 128.90,402.57 129.30,404.30 129.70,406.62 130.10,409.26 130.50,411.96 130.90,414.44 131.00,415.00 131.30,416.71 131.70,419.15 132.10,421.62 132.50,423.95 132.90,425.96 133.30,427.48 133.50,428.00 133.70,428.43 134.10,429.24 134.50,429.97 134.90,430.59 135.30,431.05 135.70,431.33 136.00,431.40 136.10,431.39 136.50,431.20 136.90,430.79 137.30,430.23 137.70,429.58 138.10,428.88 138.50,428.22 138.90,427.63 139.00,427.50 139.30,427.12 139.70,426.57 140.10,426.01 140.50,425.46 140.90,424.95 141.30,424.52 141.70,424.17 142.00,424.00 142.10,423.95 142.50,423.78 142.90,423.61 143.30,423.46 143.70,423.32 144.10,423.19 144.50,423.08 144.90,422.98 145.30,422.90 145.70,422.85 146.10,422.81 146.50,422.80 146.50,422.80 146.90,422.86 147.30,423.03 147.70,423.29 148.10,423.61 148.50,423.99 148.90,424.39 149.30,424.81 149.70,425.21 150.00,425.50 150.10,425.60 150.50,426.07 150.90,426.63 151.30,427.23 151.70,427.82 152.10,428.34 152.50,428.74 152.90,428.97 153.10,429.00 153.30,428.96 153.70,428.64 154.10,428.08 154.50,427.33 154.90,426.47 155.30,425.55 155.70,424.64 156.00,424.00 156.10,423.80 156.50,422.95 156.90,422.07 157.30,421.14 157.70,420.17 158.10,419.18 158.50,418.15 158.90,417.10 159.30,416.03 159.70,414.94 160.10,413.83 160.40,413.00 160.50,412.72 160.90,411.60 161.30,410.47 161.70,409.29 162.10,408.07 162.50,406.76 162.90,405.37 163.00,405.00 163.30,403.89 163.70,402.38 164.10,400.80 164.50,399.10 164.90,397.25 165.30,395.20 165.70,392.90 166.00,391.00 166.10,390.30 166.50,386.91 166.90,382.77 167.30,378.18 167.70,373.46 168.00,370.00 168.10,368.82 168.50,363.15 168.90,356.76 169.30,350.67 169.70,345.91 170.10,343.51 170.20,343.40 170.50,343.87 170.90,345.77 171.30,348.83 171.70,352.73 172.00,356.00 172.10,357.29 172.50,365.36 172.90,376.58 173.30,388.98 173.50,395.00 173.70,401.39 174.10,416.26 174.50,431.19 174.90,442.94 175.00,445.00 175.30,450.49 175.70,457.42 176.10,463.42 176.50,467.94 176.90,470.46 177.10,470.80 177.30,470.58 177.70,469.01 178.10,466.43 178.50,463.43 178.90,460.61 179.00,460.00 179.30,458.13 179.70,455.39 180.10,452.66 180.50,450.21 180.90,448.34 181.00,448.00 181.30,447.05 181.70,445.88 182.10,444.97 182.50,444.52 182.60,444.50 182.90,444.68 183.30,445.25 183.70,445.82 184.00,446.00 184.10,445.96 184.50,445.18 184.90,443.71 185.30,441.95 185.70,440.33 185.80,440.00 186.10,439.06 186.50,437.82 186.90,436.60 187.30,435.43 187.70,434.30 188.00,433.50 188.10,433.24 188.50,432.23 188.90,431.26 189.30,430.32 189.70,429.42 190.10,428.54 190.50,427.70 190.50,427.70 190.90,426.85 191.30,425.98 191.70,425.14 192.10,424.35 192.50,423.67 192.90,423.11 193.00,423.00 193.30,422.70 193.70,422.35 194.10,422.05 194.50,421.78 194.90,421.54 195.30,421.30 195.70,421.05 196.10,420.79 196.50,420.48 196.60,420.40 196.90,420.14 197.30,419.76 197.70,419.37 198.10,418.95 198.50,418.54 198.90,418.12 199.30,417.70 199.50,417.50 199.70,417.30 200.10,416.93 200.50,416.57 200.90,416.21 201.30,415.84 201.70,415.45 202.10,415.03 202.50,414.56 202.70,414.30 202.90,414.02 203.30,413.36 203.70,412.61 204.10,411.81 204.50,410.99 204.90,410.19 205.00,410.00 205.30,409.38 205.70,408.42 206.10,407.40 206.50,406.39 206.90,405.46 207.30,404.70 207.70,404.19 208.10,404.00 208.10,404.00 208.50,404.05 208.90,404.19 209.30,404.39 209.70,404.61 210.10,404.82 210.50,405.00 210.50,405.00 210.90,405.17 211.30,405.36 211.70,405.53 212.10,405.65 212.50,405.70 212.50,405.70 212.90,405.50 213.30,404.99 213.70,404.28 214.10,403.49 214.50,402.73 214.90,402.12 215.00,402.00 215.30,401.67 215.70,401.22 216.10,400.77 216.50,400.36 216.90,400.02 217.30,399.76 217.70,399.62 217.90,399.60 218.10,399.74 218.50,400.77 218.90,402.54 219.30,404.79 219.50,406.00 219.70,407.51 220.10,411.94 220.50,417.55 220.90,423.54 221.00,425.00 221.30,429.78 221.70,437.00 222.10,444.13 222.50,450.00 222.50,450.00 222.90,455.12 223.30,459.98 223.70,463.39 224.00,464.30 224.10,464.23 224.50,462.75 224.90,459.89 225.30,456.33 225.70,452.80 225.80,452.00 226.10,449.48 226.50,445.69 226.90,441.85 227.30,438.42 227.50,437.00 227.70,435.72 228.10,433.23 228.50,430.93 228.90,428.93 229.30,427.35 229.60,426.50 229.70,426.28 230.10,425.46 230.50,424.77 230.90,424.18 231.30,423.69 231.70,423.27 232.00,423.00 232.10,422.92 232.50,422.60 232.90,422.30 233.30,422.03 233.70,421.79 234.10,421.57 234.50,421.37 234.90,421.19 235.30,421.03 235.70,420.90 235.70,420.90 236.10,420.78 236.50,420.66 236.90,420.54 237.30,420.43 237.70,420.33 238.10,420.23 238.50,420.15 238.90,420.09 239.30,420.04 239.70,420.01 240.00,420.00 240.10,420.00 240.50,419.99 240.90,419.99 241.30,419.98 241.70,419.98 242.10,419.98 242.50,419.97 242.90,419.97 243.30,419.96 243.70,419.96 244.10,419.96 244.50,419.95 244.90,419.95 245.30,419.95 245.70,419.94 246.10,419.94 246.50,419.94 246.90,419.94 247.30,419.93 247.70,419.93 248.10,419.93 248.50,419.93 248.90,419.92 249.30,419.92 249.70,419.92 250.10,419.92 250.50,419.92 250.90,419.92 251.30,419.91 251.70,419.91 252.10,419.91 252.50,419.91 252.90,419.91 253.30,419.91 253.70,419.91 254.10,419.91 254.50,419.91 254.90,419.90 255.30,419.90 255.70,419.90 256.10,419.90 256.50,419.90 256.90,419.90 257.30,419.90 257.70,419.90 258.10,419.90 258.50,419.90 258.90,419.90 259.30,419.90 259.70,419.90 260.00,419.90 260.10,419.90 260.50,419.90 260.90,419.90 261.30,419.90 261.70,419.90 262.10,419.90 262.50,419.90 262.90,419.90 263.30,419.90 263.70,419.90 264.10,419.90 264.50,419.90 264.90,419.90 265.30,419.90 265.70,419.90 266.10,419.90 266.50,419.90 266.90,419.90 267.30,419.90 267.70,419.90 268.10,419.90 268.50,419.90 268.90,419.90 269.30,419.90 269.70,419.90 270.10,419.90 270.50,419.90 270.90,419.90 271.30,419.90 271.70,419.90 272.10,419.90 272.50,419.90 272.90,419.90 273.30,419.90 273.70,419.90 274.10,419.90 274.50,419.90 274.90,419.90 275.30,419.90 275.70,419.90 276.10,419.90 276.50,419.90 276.90,419.90 277.30,419.90 277.70,419.90 278.10,419.90 278.50,419.90 278.90,419.90 279.30,419.90 279.70,419.90 280.10,419.90 280.50,419.90 280.90,419.90 281.30,419.90 281.70,419.90 282.10,419.90 282.50,419.90 282.90,419.90 283.30,419.90 283.70,419.90 284.10,419.90 284.50,419.90 284.90,419.90 285.30,419.90 285.70,419.90 286.10,419.90 286.50,419.90 286.90,419.90 287.30,419.90 287.70,419.90 288.10,419.90 288.50,419.90 288.90,419.90 289.30,419.90 289.70,419.90 290.10,419.90 290.50,419.90 290.90,419.90 291.30,419.90 291.70,419.90 292.10,419.90 292.50,419.90 292.90,419.90 293.30,419.90 293.70,419.90 294.10,419.90 294.50,419.90 294.90,419.90 295.30,419.90 295.70,419.90 296.10,419.90 296.50,419.90 296.90,419.90 297.30,419.90 297.70,419.90 298.10,419.90 298.50,419.90 298.90,419.90 299.30,419.90 299.70,419.90 300.10,419.90 300.50,419.90 300.90,419.90 301.30,419.90 301.70,419.90 302.10,419.90 302.50,419.90 302.90,419.90 303.30,419.90 303.70,419.90 304.10,419.90 304.50,419.90 304.90,419.90 305.30,419.90 305.70,419.90 306.10,419.90 306.50,419.90 306.90,419.90 307.30,419.90 307.70,419.90 308.10,419.90 308.50,419.90 308.90,419.90 309.30,419.90 309.70,419.90 310.10,419.90 310.50,419.90 310.90,419.90 311.30,419.90 311.70,419.90 312.10,419.90 312.50,419.90 312.90,419.90 313.30,419.90 313.70,419.90 314.10,419.90 314.50,419.90 314.90,419.90 315.30,419.90 315.50,419.90"/>
<polyline fill="none" stroke="#ff2a2a" stroke-width="1.3" stroke-linejoin="round"  points="26.50,493.70 26.90,493.70 27.30,493.70 27.70,493.70 28.10,493.70 28.50,493.70 28.90,493.70 29.30,493.70 29.70,493.70 30.10,493.70 30.50,493.70 30.90,493.70 31.30,493.70 31.70,493.70 32.10,493.70 32.50,493.70 32.90,493.70 33.30,493.70 33.70,493.70 34.10,493.70 34.50,493.70 34.90,493.70 35.30,493.70 35.70,493.70 36.10,493.70 36.50,493.70 36.90,493.70 37.30,493.70 37.70,493.70 38.10,493.70 38.50,493.70 38.90,493.70 39.30,493.70 39.70,493.70 40.10,493.70 40.50,493.70 40.90,493.70 41.30,493.70 41.70,493.70 42.10,493.70 42.50,493.70 42.90,493.70 43.30,493.70 43.70,493.70 44.10,493.70 44.50,493.70 44.90,493.70 45.30,493.70 45.70,493.70 46.10,493.70 46.50,493.70 46.90,493.70 47.30,493.70 47.70,493.70 48.10,493.70 48.50,493.70 48.90,493.70 49.30,493.70 49.70,493.70 50.10,493.70 50.50,493.70 50.90,493.70 51.30,493.70 51.70,493.70 52.10,493.70 52.50,493.70 52.90,493.70 53.30,493.70 53.70,493.70 54.10,493.70 54.50,493.70 54.90,493.70 55.30,493.70 55.70,493.70 56.10,493.70 56.50,493.70 56.90,493.70 57.30,493.70 57.70,493.70 58.10,493.70 58.50,493.70 58.90,493.70 59.30,493.70 59.70,493.70 60.00,493.70 60.10,493.70 60.50,493.70 60.90,493.70 61.30,493.70 61.70,493.70 62.10,493.70 62.50,493.70 62.90,493.70 63.30,493.70 63.70,493.70 64.10,493.70 64.50,493.69 64.90,493.69 65.30,493.69 65.70,493.69 66.10,493.69 66.50,493.69 66.90,493.69 67.30,493.68 67.70,493.68 68.10,493.68 68.50,493.68 68.90,493.68 69.30,493.68 69.70,493.67 70.10,493.67 70.50,493.67 70.90,493.67 71.30,493.66 71.70,493.66 72.10,493.66 72.50,493.66 72.90,493.65 73.30,493.65 73.70,493.65 74.10,493.65 74.50,493.64 74.90,493.64 75.30,493.64 75.70,493.63 76.10,493.63 76.50,493.63 76.90,493.62 77.30,493.62 77.70,493.62 78.10,493.61 78.50,493.61 78.90,493.60 79.30,493.60 79.70,493.60 80.10,493.59 80.50,493.59 80.90,493.58 81.30,493.58 81.70,493.57 82.10,493.57 82.50,493.57 82.90,493.56 83.30,493.56 83.70,493.55 84.10,493.55 84.50,493.54 84.90,493.54 85.30,493.53 85.70,493.53 86.10,493.52 86.50,493.52 86.90,493.51 87.30,493.51 87.70,493.50 87.80,493.50 88.10,493.50 88.50,493.49 88.90,493.48 89.30,493.47 89.70,493.47 90.10,493.46 90.50,493.45 90.90,493.44 91.30,493.42 91.70,493.41 92.10,493.40 92.50,493.38 92.90,493.37 93.30,493.36 93.70,493.34 94.10,493.32 94.50,493.31 94.90,493.29 95.30,493.27 95.70,493.25 96.10,493.23 96.50,493.21 96.90,493.19 97.30,493.17 97.70,493.14 98.10,493.12 98.50,493.10 98.90,493.07 99.30,493.05 99.70,493.02 100.00,493.00 100.10,492.99 100.50,492.96 100.90,492.93 101.30,492.90 101.70,492.86 102.10,492.82 102.50,492.78 102.90,492.73 103.30,492.68 103.70,492.63 104.10,492.57 104.50,492.51 104.90,492.45 105.30,492.38 105.70,492.31 106.10,492.24 106.50,492.16 106.90,492.08 107.30,492.00 107.70,491.91 108.10,491.82 108.50,491.72 108.60,491.70 108.90,491.62 109.30,491.49 109.70,491.34 110.10,491.17 110.50,490.98 110.90,490.77 111.30,490.55 111.70,490.32 112.10,490.07 112.50,489.82 112.90,489.56 113.00,489.50 113.30,489.30 113.70,489.03 114.10,488.74 114.50,488.44 114.90,488.12 115.30,487.78 115.70,487.41 116.10,487.02 116.50,486.59 116.90,486.13 117.30,485.64 117.70,485.10 117.70,485.10 118.10,484.48 118.50,483.73 118.90,482.88 119.30,481.92 119.70,480.87 120.10,479.75 120.50,478.56 120.90,477.32 121.00,477.00 121.30,475.95 121.70,474.30 122.10,472.47 122.50,470.55 122.90,468.64 123.30,466.83 123.50,466.00 123.70,465.14 124.10,463.22 124.50,461.30 124.90,459.69 125.30,458.74 125.50,458.60 125.70,458.65 126.10,459.00 126.50,459.64 126.90,460.49 127.30,461.48 127.50,462.00 127.70,462.67 128.10,464.67 128.50,467.11 128.90,469.48 129.00,470.00 129.30,471.40 129.70,473.08 130.10,474.80 130.50,476.80 130.70,478.00 130.90,479.48 131.30,483.39 131.70,487.94 132.10,492.39 132.50,496.00 132.50,496.00 132.90,499.05 133.30,502.10 133.70,504.88 134.10,507.07 134.50,508.37 134.70,508.60 134.90,508.67 135.30,508.78 135.70,508.87 136.10,508.94 136.50,508.98 136.90,509.00 137.00,509.00 137.30,508.91 137.70,508.55 138.10,507.98 138.50,507.29 138.90,506.56 139.30,505.87 139.70,505.30 140.00,505.00 140.10,504.92 140.50,504.61 140.90,504.30 141.30,504.01 141.70,503.72 142.10,503.44 142.50,503.18 142.90,502.95 143.30,502.73 143.70,502.54 144.10,502.38 144.50,502.26 144.90,502.16 145.30,502.11 145.60,502.10 145.70,502.10 146.10,502.19 146.50,502.38 146.90,502.66 147.30,503.02 147.70,503.43 148.10,503.89 148.50,504.37 148.90,504.87 149.00,505.00 149.30,505.50 149.70,506.49 150.10,507.66 150.50,508.84 150.90,509.86 151.30,510.53 151.60,510.70 151.70,510.68 152.10,510.28 152.50,509.44 152.90,508.33 153.30,507.08 153.70,505.84 154.00,505.00 154.10,504.74 154.50,503.65 154.90,502.51 155.30,501.33 155.70,500.12 156.10,498.90 156.50,497.68 156.90,496.46 157.30,495.27 157.70,494.11 158.10,493.00 158.10,493.00 158.50,491.96 158.90,491.00 159.30,490.09 159.70,489.21 160.10,488.36 160.50,487.51 160.90,486.64 161.30,485.73 161.70,484.77 162.10,483.73 162.50,482.60 162.90,481.37 163.30,480.00 163.30,480.00 163.70,478.43 164.10,476.62 164.50,474.56 164.90,472.29 165.30,469.80 165.70,467.13 166.00,465.00 166.10,464.24 166.50,460.55 166.90,456.22 167.30,451.74 167.70,447.59 168.00,445.00 168.10,444.22 168.50,440.87 168.90,437.81 169.30,435.88 169.50,435.60 169.70,435.84 170.10,437.57 170.50,440.49 170.90,444.07 171.00,445.00 171.30,448.91 171.70,456.79 172.10,466.25 172.50,475.68 172.90,483.49 173.00,485.00 173.30,489.26 173.70,494.96 174.10,500.36 174.50,505.15 174.90,509.00 175.30,511.59 175.60,512.50 175.70,512.64 176.10,513.14 176.50,513.54 176.90,513.83 177.30,513.98 177.50,514.00 177.70,514.00 178.10,513.98 178.50,513.94 178.90,513.89 179.30,513.83 179.50,513.80 179.70,513.73 180.10,513.39 180.50,512.88 180.90,512.30 181.30,511.76 181.70,511.36 182.10,511.20 182.10,511.20 182.50,511.48 182.90,512.21 183.30,513.20 183.70,514.26 184.00,515.00 184.10,515.24 184.50,516.47 184.90,517.87 185.30,519.17 185.70,520.07 186.00,520.30 186.10,520.27 186.50,519.62 186.90,518.34 187.30,516.73 187.70,515.08 188.00,514.00 188.10,513.68 188.50,512.33 188.90,510.94 189.30,509.53 189.70,508.13 190.10,506.76 190.50,505.45 190.90,504.24 191.20,503.40 191.30,503.13 191.70,502.10 192.10,501.10 192.50,500.14 192.90,499.22 193.30,498.34 193.70,497.49 194.10,496.68 194.50,495.91 194.90,495.18 195.00,495.00 195.30,494.49 195.70,493.87 196.10,493.30 196.50,492.76 196.90,492.24 197.30,491.72 197.70,491.19 198.10,490.63 198.50,490.02 198.90,489.36 199.10,489.00 199.30,488.62 199.70,487.83 200.10,486.97 200.50,486.05 200.90,485.06 201.30,484.01 201.70,482.89 202.00,482.00 202.10,481.69 202.50,480.26 202.90,478.64 203.30,476.90 203.70,475.16 204.10,473.49 204.50,472.00 204.50,472.00 204.90,470.52 205.30,468.92 205.70,467.37 206.10,466.06 206.50,465.14 206.90,464.80 206.90,464.80 207.30,464.98 207.70,465.47 208.10,466.17 208.50,466.99 208.90,467.85 209.30,468.65 209.50,469.00 209.70,469.36 210.10,470.18 210.50,471.08 210.90,471.95 211.30,472.69 211.70,473.21 212.10,473.40 212.10,473.40 212.50,473.22 212.90,472.76 213.30,472.14 213.70,471.48 214.10,470.89 214.50,470.50 214.50,470.50 214.90,470.25 215.30,470.00 215.70,469.79 216.10,469.63 216.50,469.52 216.80,469.50 216.90,469.54 217.30,470.49 217.70,472.44 218.10,475.05 218.50,478.00 218.50,478.00 218.90,482.02 219.30,487.68 219.70,494.41 219.90,498.00 220.10,501.98 220.50,511.57 220.90,522.18 221.20,530.00 221.30,532.70 221.70,545.74 222.10,557.92 222.50,563.30 222.50,563.30 222.90,560.30 223.30,553.54 223.70,546.44 223.80,545.00 224.10,540.97 224.50,535.69 224.90,531.01 225.00,530.00 225.30,527.26 225.70,524.02 226.10,521.10 226.40,519.00 226.50,518.30 226.90,515.48 227.30,512.79 227.70,510.43 228.00,509.00 228.10,508.59 228.50,507.02 228.90,505.61 229.30,504.37 229.70,503.29 230.10,502.38 230.30,502.00 230.50,501.65 230.90,500.98 231.30,500.37 231.70,499.80 232.10,499.29 232.50,498.83 232.90,498.41 233.30,498.04 233.70,497.72 234.00,497.50 234.10,497.43 234.50,497.18 234.90,496.94 235.30,496.72 235.70,496.51 236.10,496.32 236.50,496.15 236.90,495.99 237.30,495.85 237.70,495.72 238.10,495.60 238.10,495.60 238.50,495.49 238.90,495.38 239.30,495.28 239.70,495.18 240.10,495.08 240.50,494.99 240.90,494.90 241.30,494.81 241.70,494.73 242.10,494.66 242.50,494.59 242.90,494.53 243.30,494.47 243.70,494.42 244.10,494.37 244.50,494.34 244.90,494.31 245.00,494.30 245.30,494.28 245.70,494.26 246.10,494.23 246.50,494.21 246.90,494.19 247.30,494.17 247.70,494.15 248.10,494.13 248.50,494.11 248.90,494.09 249.30,494.07 249.70,494.05 250.10,494.03 250.50,494.02 250.90,494.00 251.30,493.98 251.70,493.97 252.10,493.96 252.50,493.94 252.90,493.93 253.30,493.92 253.70,493.90 254.10,493.89 254.50,493.88 254.90,493.87 255.30,493.86 255.70,493.85 256.10,493.85 256.50,493.84 256.90,493.83 257.30,493.83 257.70,493.82 258.10,493.81 258.50,493.81 258.90,493.81 259.30,493.80 259.70,493.80 260.00,493.80 260.10,493.80 260.50,493.80 260.90,493.80 261.30,493.79 261.70,493.79 262.10,493.79 262.50,493.79 262.90,493.79 263.30,493.79 263.70,493.79 264.10,493.78 264.50,493.78 264.90,493.78 265.30,493.78 265.70,493.78 266.10,493.78 266.50,493.78 266.90,493.77 267.30,493.77 267.70,493.77 268.10,493.77 268.50,493.77 268.90,493.77 269.30,493.77 269.70,493.76 270.10,493.76 270.50,493.76 270.90,493.76 271.30,493.76 271.70,493.76 272.10,493.76 272.50,493.76 272.90,493.75 273.30,493.75 273.70,493.75 274.10,493.75 274.50,493.75 274.90,493.75 275.30,493.75 275.70,493.75 276.10,493.75 276.50,493.75 276.90,493.74 277.30,493.74 277.70,493.74 278.10,493.74 278.50,493.74 278.90,493.74 279.30,493.74 279.70,493.74 280.10,493.74 280.50,493.74 280.90,493.73 281.30,493.73 281.70,493.73 282.10,493.73 282.50,493.73 282.90,493.73 283.30,493.73 283.70,493.73 284.10,493.73 284.50,493.73 284.90,493.73 285.30,493.73 285.70,493.72 286.10,493.72 286.50,493.72 286.90,493.72 287.30,493.72 287.70,493.72 288.10,493.72 288.50,493.72 288.90,493.72 289.30,493.72 289.70,493.72 290.10,493.72 290.50,493.72 290.90,493.72 291.30,493.72 291.70,493.72 292.10,493.71 292.50,493.71 292.90,493.71 293.30,493.71 293.70,493.71 294.10,493.71 294.50,493.71 294.90,493.71 295.30,493.71 295.70,493.71 296.10,493.71 296.50,493.71 296.90,493.71 297.30,493.71 297.70,493.71 298.10,493.71 298.50,493.71 298.90,493.71 299.30,493.71 299.70,493.71 300.10,493.71 300.50,493.71 300.90,493.71 301.30,493.71 301.70,493.70 302.10,493.70 302.50,493.70 302.90,493.70 303.30,493.70 303.70,493.70 304.10,493.70 304.50,493.70 304.90,493.70 305.30,493.70 305.70,493.70 306.10,493.70 306.50,493.70 306.90,493.70 307.30,493.70 307.70,493.70 308.10,493.70 308.50,493.70 308.90,493.70 309.30,493.70 309.70,493.70 310.10,493.70 310.50,493.70 310.90,493.70 311.30,493.70 311.70,493.70 312.10,493.70 312.50,493.70 312.90,493.70 313.30,493.70 313.70,493.70 314.10,493.70 314.50,493.70 314.90,493.70 315.30,493.70 315.50,493.70"/>
<text class="ti" x="126.4" y="378" text-anchor="middle" font-size="12.5">z</text>
<line x1="126.4" y1="384" x2="126.4" y2="391" stroke="#111" stroke-width="1"/>
<path d="M124.9,389 L127.9,389 L126.4,395 Z" fill="#111"/>
<text class="ti" x="186.4" y="378" text-anchor="middle" font-size="12.5">y</text>
<line x1="186.4" y1="384" x2="186.4" y2="391" stroke="#111" stroke-width="1"/>
<path d="M184.9,389 L187.9,389 L186.4,395 Z" fill="#111"/>
<text class="ti" x="208.9" y="378" text-anchor="middle" font-size="12.5">x</text>
<line x1="208.9" y1="384" x2="208.9" y2="391" stroke="#111" stroke-width="1"/>
<path d="M207.4,389 L210.4,389 L208.9,395 Z" fill="#111"/>
<text x="274.6" y="376.6" text-anchor="middle" font-size="12.2" transform="translate(274.6,0) scale(0.78,1) translate(-274.6,0)" style="font-weight:bold">N</text>
<text x="256.6" y="374.8" text-anchor="middle" font-family="Liberation Serif" font-size="9" style="font-family:'Liberation Serif',serif">z</text>
<line x1="262" y1="372.5" x2="269.8" y2="372.5" stroke="#111" stroke-width="0.9"/>
<path d="M260,372.5 L264,371 L264,374 Z" fill="#111"/>
<text x="275.3" y="350.6" text-anchor="middle" font-size="9" style="font-family:'Liberation Serif',serif">y</text>
<line x1="275.3" y1="363.2" x2="275.3" y2="355" stroke="#111" stroke-width="0.9"/>
<path d="M275.3,352.5 L273.8,357 L276.8,357 Z" fill="#111"/>
<text x="299.5" y="353.1" text-anchor="middle" font-size="11.8">O</text>
<text x="300" y="400.6" text-anchor="middle" font-size="11.8" style="font-weight:bold">O</text>
<line x1="280.1" y1="366.8" x2="294.4" y2="351.6" stroke="#111" stroke-width="0.9"/>
<line x1="279.8" y1="378.4" x2="295.3" y2="394.5" stroke="#111" stroke-width="0.9"/>
<line x1="125.2" y1="535.3" x2="151.9" y2="535.3" stroke="#1a1aff" stroke-width="1.3"/>
<line x1="125.2" y1="530.6" x2="125.2" y2="535.9" stroke="#1a1aff" stroke-width="1.2"/>
<text x="124.1" y="527.8" text-anchor="middle" font-size="10" style="font-family:'Liberation Serif',serif;fill:#1a1aff;font-weight:bold">z</text>
<line x1="129.5" y1="530.6" x2="129.5" y2="535.9" stroke="#1a1aff" stroke-width="1.2"/>
<text x="130.5" y="527.8" text-anchor="middle" font-size="10" style="font-family:'Liberation Serif',serif;fill:#1a1aff;font-weight:bold">x</text>
<line x1="151.9" y1="530.6" x2="151.9" y2="535.9" stroke="#1a1aff" stroke-width="1.2"/>
<text x="151.6" y="527.8" text-anchor="middle" font-size="10" style="font-family:'Liberation Serif',serif;fill:#1a1aff;font-weight:bold">y</text>
<line x1="167.6" y1="535.3" x2="186.5" y2="535.3" stroke="#1a1aff" stroke-width="1.3"/>
<line x1="167.6" y1="530.6" x2="167.6" y2="535.9" stroke="#1a1aff" stroke-width="1.2"/>
<text x="167.6" y="527.8" text-anchor="middle" font-size="10" style="font-family:'Liberation Serif',serif;fill:#1a1aff;font-weight:bold">x</text>
<line x1="174" y1="530.6" x2="174" y2="535.9" stroke="#1a1aff" stroke-width="1.2"/>
<text x="174" y="527.8" text-anchor="middle" font-size="10" style="font-family:'Liberation Serif',serif;fill:#1a1aff;font-weight:bold">z</text>
<line x1="186.5" y1="530.6" x2="186.5" y2="535.9" stroke="#1a1aff" stroke-width="1.2"/>
<text x="186" y="527.8" text-anchor="middle" font-size="10" style="font-family:'Liberation Serif',serif;fill:#1a1aff;font-weight:bold">y</text>
<line x1="206.8" y1="535.3" x2="224.4" y2="535.3" stroke="#1a1aff" stroke-width="1.3"/>
<line x1="206.8" y1="530.6" x2="206.8" y2="535.9" stroke="#1a1aff" stroke-width="1.2"/>
<text x="206.8" y="527.8" text-anchor="middle" font-size="10" style="font-family:'Liberation Serif',serif;fill:#1a1aff;font-weight:bold">x</text>
<line x1="220.4" y1="530.6" x2="220.4" y2="535.9" stroke="#1a1aff" stroke-width="1.2"/>
<text x="220.4" y="527.8" text-anchor="middle" font-size="10" style="font-family:'Liberation Serif',serif;fill:#1a1aff;font-weight:bold">y</text>
<line x1="224.4" y1="530.6" x2="224.4" y2="535.9" stroke="#1a1aff" stroke-width="1.2"/>
<text x="223.6" y="527.8" text-anchor="middle" font-size="10" style="font-family:'Liberation Serif',serif;fill:#1a1aff;font-weight:bold">z</text>
<path d="M393.3,336H689.7V573.8H393.3Z" fill="none" stroke="#333" stroke-width="1.7" stroke-linejoin="miter"/>
<path d="M393.30,573.8V577.50M408.12,573.8V575.80M422.94,573.8V577.50M437.76,573.8V575.80M452.58,573.8V577.50M467.40,573.8V575.80M482.22,573.8V577.50M497.04,573.8V575.80M511.86,573.8V577.50M526.68,573.8V575.80M541.50,573.8V577.50M556.32,573.8V575.80M571.14,573.8V577.50M585.96,573.8V575.80M600.78,573.8V577.50M615.60,573.8V575.80M630.42,573.8V577.50M645.24,573.8V575.80M660.06,573.8V577.50M674.88,573.8V575.80M689.70,573.8V577.50" stroke="#333" stroke-width="1.3" fill="none"/>
<text class="tl" transform="translate(392.30,589.2) scale(0.86,1)" text-anchor="middle" font-size="10">-5</text>
<text class="tl" transform="translate(421.94,589.2) scale(0.86,1)" text-anchor="middle" font-size="10">-4</text>
<text class="tl" transform="translate(451.58,589.2) scale(0.86,1)" text-anchor="middle" font-size="10">-3</text>
<text class="tl" transform="translate(481.22,589.2) scale(0.86,1)" text-anchor="middle" font-size="10">-2</text>
<text class="tl" transform="translate(510.86,589.2) scale(0.86,1)" text-anchor="middle" font-size="10">-1</text>
<text class="tl" transform="translate(541.50,589.2) scale(0.86,1)" text-anchor="middle" font-size="10">0</text>
<text class="tl" transform="translate(571.14,589.2) scale(0.86,1)" text-anchor="middle" font-size="10">1</text>
<text class="tl" transform="translate(600.78,589.2) scale(0.86,1)" text-anchor="middle" font-size="10">2</text>
<text class="tl" transform="translate(630.42,589.2) scale(0.86,1)" text-anchor="middle" font-size="10">3</text>
<text class="tl" transform="translate(660.06,589.2) scale(0.86,1)" text-anchor="middle" font-size="10">4</text>
<text class="tl" transform="translate(689.70,589.2) scale(0.86,1)" text-anchor="middle" font-size="10">5</text>
<text class="pl" x="356.5" y="345.6" font-size="27">d</text>
<text class="ti" transform="translate(379.1,454.9) rotate(-90)" text-anchor="middle" font-size="12.4" textLength="81.6" lengthAdjust="spacingAndGlyphs">Intensity (a.u.)</text>
<path d="M503.8,604.7 C504.4,603.6 505.3,603.9 505.3,605.2 C505.3,607.7 506.0,608.9 507.0,608.9 C508.4,608.9 509.3,607.6 509.3,606 C509.3,604.8 508.8,604 508.2,603.5 M516.2,604.7 C516.8,603.6 517.7,603.9 517.7,605.2 C517.7,607.7 518.4,608.9 519.4,608.9 C520.8,608.9 521.7,607.6 521.7,606 C521.7,604.8 521.2,604 520.6,603.5" fill="none" stroke="#111" stroke-width="1.45" stroke-linecap="round"/>
<line x1="510.1" y1="606.3" x2="515.7" y2="606.3" stroke="#222" stroke-width="0.9"/>
<text x="522.5" y="612.4" font-size="7.5" textLength="23.2" lengthAdjust="spacingAndGlyphs" style="font-weight:bold">larmor</text>
<text x="550" y="609.5" font-size="11" textLength="29.4" lengthAdjust="spacingAndGlyphs" style="font-weight:bold">(MHz)</text>
<text class="ti" x="682.4" y="399.4" text-anchor="middle" font-size="12.5">x</text>
<text class="ti" x="683.6" y="474.5" text-anchor="middle" font-size="12.5">y</text>
<text class="ti" x="682.4" y="552.7" text-anchor="middle" font-size="12.5">z</text>
<polyline fill="none" stroke="#111" stroke-width="1.25" stroke-linejoin="round"  points="393.80,406.97 394.25,408.45 394.70,404.15 395.15,408.64 395.60,406.37 396.05,405.38 396.50,405.36 396.95,404.98 397.40,406.08 397.85,407.44 398.30,407.10 398.75,407.16 399.20,404.12 399.65,404.27 400.00,408.32 400.10,407.56 400.55,409.13 401.00,407.85 401.45,404.94 401.90,407.93 402.35,407.07 402.80,406.52 403.25,405.17 403.70,406.23 404.15,406.03 404.60,407.37 405.05,406.36 405.50,408.26 405.95,405.18 406.40,406.79 406.85,404.97 407.30,405.04 407.75,404.63 408.20,407.47 408.65,406.82 409.10,405.93 409.55,406.65 410.00,405.25 410.45,406.44 410.90,405.33 411.35,406.36 411.80,407.39 412.25,406.53 412.70,407.20 413.15,405.54 413.60,405.72 414.05,404.31 414.50,405.95 414.95,406.18 415.40,405.82 415.85,407.60 416.30,407.80 416.75,407.91 417.20,404.47 417.65,407.58 418.10,403.80 418.55,405.09 419.00,405.81 419.45,406.18 419.90,404.67 420.35,405.61 420.80,406.12 421.25,405.11 421.70,405.18 422.15,408.28 422.60,407.22 423.05,405.92 423.50,406.01 423.95,405.96 424.40,405.39 424.85,405.31 425.30,404.62 425.75,406.81 426.20,405.85 426.65,405.77 427.10,406.21 427.55,406.63 428.00,407.78 428.45,405.57 428.90,405.40 429.35,406.18 429.80,404.81 430.25,407.56 430.70,407.10 431.15,406.79 431.60,405.73 432.05,406.84 432.50,407.23 432.95,406.51 433.40,405.49 433.85,403.65 434.30,407.06 434.75,405.37 435.20,404.72 435.65,406.96 436.10,406.24 436.55,403.94 437.00,404.03 437.45,403.72 437.90,407.04 438.35,403.28 438.80,405.23 439.25,405.54 439.70,407.55 440.00,404.29 440.15,401.87 440.60,403.88 441.05,406.01 441.50,406.70 441.95,407.89 442.40,406.14 442.85,404.55 443.30,406.72 443.75,405.54 444.20,405.26 444.65,405.52 445.10,407.13 445.55,404.27 446.00,404.09 446.45,405.30 446.90,405.27 447.35,404.26 447.80,404.15 448.25,405.74 448.70,406.96 449.15,406.11 449.60,406.03 450.05,406.72 450.50,402.48 450.95,403.06 451.40,404.06 451.85,403.38 452.30,403.61 452.75,404.94 453.20,403.13 453.65,404.18 454.10,402.05 454.55,403.39 455.00,406.36 455.45,403.85 455.90,404.93 456.35,405.37 456.80,403.76 457.25,405.10 457.70,404.57 458.15,405.14 458.60,403.35 459.05,402.25 459.50,402.38 459.95,403.29 460.00,404.70 460.40,403.68 460.85,403.36 461.30,403.57 461.75,405.16 462.20,402.90 462.65,405.52 463.10,402.20 463.55,402.60 464.00,404.38 464.45,403.84 464.90,401.94 465.35,402.80 465.80,401.91 466.25,405.21 466.70,403.30 467.15,401.55 467.60,402.88 468.05,401.76 468.50,402.02 468.95,402.07 469.40,401.13 469.85,402.29 470.00,402.30 470.30,402.17 470.75,402.92 471.20,401.00 471.65,399.29 472.10,401.80 472.55,401.20 473.00,400.82 473.45,401.40 473.90,401.54 474.35,400.19 474.80,400.04 475.25,398.74 475.70,401.21 476.15,399.36 476.60,398.13 477.05,397.92 477.50,398.66 477.95,401.05 478.40,399.86 478.85,396.48 479.30,398.35 479.75,398.68 480.20,401.97 480.60,398.45 480.65,397.15 481.10,398.34 481.55,396.91 482.00,394.54 482.45,396.35 482.90,396.20 483.35,398.15 483.80,398.10 484.25,395.19 484.70,396.59 485.15,396.29 485.60,394.11 486.05,393.11 486.50,395.46 486.95,395.56 487.40,394.40 487.85,391.44 488.30,394.71 488.75,393.77 489.20,393.14 489.65,393.64 490.10,392.35 490.55,394.30 491.00,393.33 491.20,392.47 491.45,393.42 491.90,392.73 492.35,390.49 492.80,391.96 493.25,391.21 493.70,389.19 494.15,390.25 494.60,391.28 495.05,389.54 495.50,391.79 495.95,391.78 496.40,388.78 496.85,389.51 497.30,390.99 497.75,387.58 498.20,386.46 498.65,386.71 499.10,385.11 499.55,385.02 500.00,386.47 500.00,385.66 500.45,387.78 500.90,386.20 501.35,384.27 501.80,384.71 502.25,384.31 502.70,383.48 503.15,382.93 503.60,384.09 503.70,383.42 504.05,383.75 504.50,384.22 504.95,383.83 505.40,380.65 505.85,380.55 506.30,380.90 506.75,380.97 507.20,381.61 507.30,379.05 507.65,379.43 508.10,381.40 508.55,380.87 509.00,380.71 509.45,377.25 509.90,377.89 510.35,376.68 510.80,378.34 511.00,377.58 511.25,376.21 511.70,375.18 512.15,375.56 512.60,375.56 513.05,372.34 513.50,371.92 513.95,370.56 514.40,370.37 514.70,370.14 514.85,368.08 515.30,367.60 515.75,364.59 516.20,366.32 516.65,366.58 517.10,361.49 517.55,362.38 517.60,364.27 518.00,362.07 518.45,358.81 518.90,361.86 519.35,357.70 519.80,360.78 519.80,358.24 520.25,357.69 520.70,359.10 521.15,357.94 521.60,358.49 522.05,358.13 522.50,357.07 522.95,358.78 523.40,357.79 523.85,357.02 524.20,356.68 524.30,356.33 524.75,356.15 525.20,356.92 525.65,358.09 526.10,355.74 526.55,356.83 527.00,355.00 527.45,355.74 527.90,356.12 527.90,353.55 528.35,355.23 528.80,356.77 529.25,353.26 529.30,356.03 529.70,353.14 530.15,355.10 530.60,353.27 531.05,353.97 531.50,354.41 531.95,354.33 532.40,356.51 532.85,356.44 533.30,356.64 533.60,355.85 533.75,357.77 534.20,357.13 534.65,359.38 535.10,354.76 535.55,357.19 536.00,357.33 536.45,356.13 536.90,357.78 537.35,358.05 537.80,356.85 538.25,358.16 538.70,358.07 538.90,358.11 539.15,357.36 539.60,357.39 540.05,358.34 540.50,360.25 540.95,361.61 541.40,359.64 541.85,357.62 542.30,358.74 542.75,358.29 543.20,359.02 543.65,360.25 544.10,358.71 544.10,360.69 544.55,361.09 545.00,362.18 545.45,362.72 545.90,361.80 546.35,363.59 546.80,360.12 547.25,361.26 547.60,361.22 547.70,361.60 548.15,362.48 548.60,360.85 549.05,363.61 549.50,363.15 549.95,362.06 550.40,362.32 550.85,360.56 551.30,358.70 551.75,364.92 552.10,362.52 552.20,362.43 552.65,360.80 553.10,361.74 553.55,364.68 554.00,363.44 554.45,362.82 554.90,362.26 555.35,363.70 555.80,364.50 556.25,363.91 556.70,362.50 557.15,363.49 557.60,362.10 557.90,362.92 558.05,364.12 558.50,362.79 558.95,363.31 559.40,365.61 559.85,363.69 560.30,365.05 560.75,363.85 561.20,362.96 561.65,364.64 562.10,364.39 562.40,362.42 562.55,363.55 563.00,364.87 563.45,367.68 563.90,365.45 564.35,366.61 564.80,367.95 565.25,367.55 565.70,367.75 565.90,370.61 566.15,369.66 566.60,366.18 567.05,371.23 567.50,371.39 567.95,372.67 568.40,372.26 568.85,373.95 569.30,376.11 569.30,375.83 569.75,376.67 570.20,376.51 570.65,377.11 571.10,377.97 571.55,376.09 572.00,378.95 572.45,379.28 572.70,379.74 572.90,379.74 573.35,380.78 573.80,377.99 574.25,381.56 574.70,380.14 575.15,381.00 575.60,380.35 576.05,380.99 576.50,384.41 576.95,383.46 577.30,384.28 577.40,384.29 577.85,383.42 578.30,384.41 578.75,387.08 579.20,385.68 579.65,383.58 580.10,386.30 580.55,388.33 581.00,389.06 581.45,389.32 581.90,388.82 582.35,387.22 582.80,390.03 583.00,389.68 583.25,389.54 583.70,387.96 584.15,390.35 584.60,391.99 585.05,391.44 585.50,390.50 585.95,391.81 586.40,391.42 586.85,391.96 587.30,393.13 587.75,392.79 588.20,392.75 588.65,393.46 588.70,391.94 589.10,392.00 589.55,394.24 590.00,393.19 590.45,395.02 590.90,392.26 591.35,396.52 591.80,395.18 592.25,397.79 592.70,392.75 593.15,394.08 593.60,398.36 594.05,397.01 594.40,397.40 594.50,397.22 594.95,397.50 595.40,398.21 595.85,396.44 596.30,397.74 596.75,399.84 597.20,398.60 597.65,397.76 598.10,398.87 598.55,400.28 599.00,398.85 599.45,399.05 599.90,400.07 600.35,400.70 600.80,401.66 601.25,399.73 601.30,400.36 601.70,401.38 602.15,397.71 602.60,400.50 603.05,401.04 603.50,400.46 603.95,399.60 604.40,401.14 604.85,402.54 605.30,400.94 605.75,400.53 606.20,402.60 606.65,403.37 607.10,403.06 607.55,401.59 608.00,400.19 608.10,399.99 608.45,401.26 608.90,401.34 609.35,402.15 609.80,400.40 610.25,401.75 610.70,402.65 611.15,399.83 611.60,405.03 612.05,402.85 612.50,402.83 612.95,400.51 613.40,400.92 613.85,403.61 614.30,403.50 614.75,399.25 615.00,403.94 615.20,403.41 615.65,403.34 616.10,401.16 616.55,403.01 617.00,401.96 617.45,403.55 617.90,405.29 618.35,403.82 618.80,404.39 619.25,402.75 619.70,401.91 620.15,403.35 620.60,404.76 621.05,405.41 621.50,403.52 621.95,404.55 622.40,403.26 622.85,401.63 623.30,404.06 623.75,404.49 624.20,403.59 624.65,403.99 625.10,401.96 625.55,404.45 626.00,406.25 626.45,404.51 626.90,405.39 627.35,405.27 627.80,403.78 628.25,405.10 628.70,403.83 629.15,408.74 629.60,403.91 630.00,402.48 630.05,403.07 630.50,407.05 630.95,405.97 631.40,405.73 631.85,403.50 632.30,404.58 632.75,403.79 633.20,406.83 633.65,404.77 634.10,408.00 634.55,406.22 635.00,405.17 635.45,407.37 635.90,402.95 636.35,404.63 636.80,405.23 637.25,407.18 637.70,407.23 638.15,406.33 638.60,403.60 639.05,405.26 639.50,404.55 639.95,407.64 640.40,405.48 640.85,406.85 641.30,408.54 641.75,408.47 642.20,407.10 642.65,405.73 643.10,403.52 643.55,406.35 644.00,406.35 644.45,406.45 644.90,405.89 645.35,408.85 645.80,405.62 646.25,406.81 646.70,406.14 647.15,403.62 647.60,407.85 648.05,406.92 648.50,404.86 648.95,406.28 649.40,404.61 649.85,407.11 650.00,408.78 650.30,408.35 650.75,405.12 651.20,404.59 651.65,407.55 652.10,409.08 652.55,406.61 653.00,408.32 653.45,405.17 653.90,406.87 654.35,407.62 654.80,406.54 655.25,406.81 655.70,408.02 656.15,406.35 656.60,405.90 657.05,408.20 657.50,407.57 657.95,405.99 658.40,407.88 658.85,406.61 659.30,408.20 659.75,407.39 660.20,407.05 660.65,406.45 661.10,407.74 661.55,407.45 662.00,409.99 662.45,407.50 662.90,405.84 663.35,410.30 663.80,404.99 664.25,409.81 664.70,406.56 665.15,409.51 665.60,407.49 666.05,408.46 666.50,407.81 666.95,407.65 667.40,408.49 667.85,407.00 668.30,408.47 668.75,406.47 669.20,406.94 669.65,407.24 670.00,407.79 670.10,409.50 670.55,406.85 671.00,409.83 671.45,406.51 671.90,407.45 672.35,408.73 672.80,407.04 673.25,407.65 673.70,407.28 674.15,405.54 674.60,405.45 675.05,408.86 675.50,409.30 675.95,407.03 676.40,408.04 676.85,406.96 677.30,409.46 677.75,408.99 678.20,413.32 678.65,407.93 679.10,407.07 679.55,407.60 680.00,406.61 680.45,408.52 680.90,408.67 681.35,409.48 681.80,408.82 682.25,407.77 682.70,410.00 683.15,409.08 683.60,409.42 684.05,406.83 684.50,407.27 684.95,407.53 685.40,407.87 685.85,405.55 686.30,409.96 686.75,408.13 687.20,408.54 687.65,409.43 688.10,410.37 688.55,409.18 689.00,408.93 689.00,407.49"/>
<polyline fill="none" stroke="#ff2a2a" stroke-width="1.3" stroke-linejoin="round"  points="393.80,408.00 394.20,407.99 394.60,407.97 395.00,407.96 395.40,407.94 395.80,407.93 396.20,407.91 396.60,407.90 397.00,407.88 397.40,407.87 397.80,407.86 398.20,407.84 398.60,407.83 399.00,407.82 399.40,407.81 399.80,407.80 400.00,407.80 400.20,407.80 400.60,407.79 401.00,407.78 401.40,407.78 401.80,407.77 402.20,407.76 402.60,407.76 403.00,407.75 403.40,407.75 403.80,407.74 404.20,407.74 404.60,407.73 405.00,407.73 405.40,407.72 405.80,407.72 406.20,407.71 406.60,407.71 407.00,407.70 407.40,407.70 407.80,407.69 408.20,407.69 408.60,407.69 409.00,407.68 409.40,407.68 409.80,407.67 410.20,407.67 410.60,407.67 411.00,407.66 411.40,407.66 411.80,407.66 412.20,407.65 412.60,407.65 413.00,407.65 413.40,407.64 413.80,407.64 414.20,407.64 414.60,407.64 415.00,407.63 415.40,407.63 415.80,407.63 416.20,407.62 416.60,407.62 417.00,407.62 417.40,407.62 417.80,407.61 418.20,407.61 418.60,407.61 419.00,407.61 419.40,407.60 419.80,407.60 420.20,407.60 420.60,407.60 421.00,407.59 421.40,407.59 421.80,407.59 422.20,407.59 422.60,407.58 423.00,407.58 423.40,407.58 423.80,407.58 424.20,407.57 424.60,407.57 425.00,407.57 425.40,407.57 425.80,407.56 426.20,407.56 426.60,407.56 427.00,407.55 427.40,407.55 427.80,407.55 428.20,407.54 428.60,407.54 429.00,407.54 429.40,407.53 429.80,407.53 430.20,407.53 430.60,407.52 431.00,407.52 431.40,407.52 431.80,407.51 432.20,407.51 432.60,407.50 433.00,407.50 433.40,407.49 433.80,407.49 434.20,407.48 434.60,407.48 435.00,407.48 435.40,407.47 435.80,407.46 436.20,407.46 436.60,407.45 437.00,407.45 437.40,407.44 437.80,407.44 438.20,407.43 438.60,407.42 439.00,407.42 439.40,407.41 439.80,407.40 440.00,407.40 440.20,407.40 440.60,407.39 441.00,407.38 441.40,407.37 441.80,407.36 442.20,407.35 442.60,407.34 443.00,407.33 443.40,407.32 443.80,407.31 444.20,407.29 444.60,407.28 445.00,407.27 445.40,407.25 445.80,407.24 446.20,407.22 446.60,407.21 447.00,407.19 447.40,407.18 447.80,407.16 448.20,407.14 448.60,407.13 449.00,407.11 449.40,407.09 449.80,407.07 450.20,407.05 450.60,407.03 451.00,407.01 451.40,406.99 451.80,406.97 452.20,406.95 452.60,406.93 453.00,406.91 453.40,406.89 453.80,406.87 454.20,406.84 454.60,406.82 455.00,406.80 455.40,406.78 455.80,406.75 456.20,406.73 456.60,406.71 457.00,406.68 457.40,406.66 457.80,406.64 458.20,406.61 458.60,406.59 459.00,406.56 459.40,406.54 459.80,406.51 460.00,406.50 460.20,406.49 460.60,406.46 461.00,406.43 461.40,406.40 461.80,406.37 462.20,406.34 462.60,406.31 463.00,406.27 463.40,406.24 463.80,406.20 464.20,406.16 464.60,406.13 465.00,406.09 465.40,406.05 465.80,406.01 466.20,405.97 466.60,405.93 467.00,405.89 467.40,405.85 467.80,405.81 468.20,405.77 468.60,405.73 469.00,405.69 469.40,405.66 469.80,405.62 470.00,405.60 470.20,405.58 470.60,405.55 471.00,405.51 471.40,405.48 471.80,405.44 472.20,405.41 472.60,405.38 473.00,405.34 473.40,405.31 473.80,405.28 474.20,405.25 474.60,405.21 475.00,405.18 475.40,405.15 475.80,405.11 476.20,405.08 476.60,405.04 477.00,405.00 477.40,404.96 477.80,404.92 478.20,404.88 478.60,404.84 479.00,404.80 479.40,404.75 479.80,404.70 480.20,404.65 480.60,404.60 480.60,404.60 481.00,404.55 481.40,404.49 481.80,404.43 482.20,404.37 482.60,404.31 483.00,404.24 483.40,404.17 483.80,404.10 484.20,404.03 484.60,403.95 485.00,403.87 485.40,403.79 485.80,403.70 486.20,403.62 486.60,403.52 487.00,403.43 487.40,403.33 487.80,403.23 488.20,403.12 488.60,403.01 489.00,402.90 489.40,402.78 489.80,402.66 490.20,402.53 490.60,402.40 491.00,402.27 491.20,402.20 491.40,402.13 491.80,401.97 492.20,401.79 492.60,401.60 493.00,401.39 493.40,401.17 493.80,400.93 494.20,400.68 494.60,400.41 495.00,400.14 495.40,399.85 495.80,399.56 496.20,399.25 496.60,398.94 497.00,398.62 497.40,398.29 497.80,397.96 498.20,397.63 498.60,397.29 499.00,396.95 499.40,396.61 499.80,396.27 500.00,396.10 500.20,395.93 500.60,395.56 501.00,395.18 501.40,394.77 501.80,394.36 502.20,393.93 502.60,393.49 503.00,393.05 503.40,392.61 503.50,392.50 503.80,392.17 504.20,391.72 504.60,391.26 505.00,390.80 505.40,390.33 505.80,389.86 506.20,389.37 506.60,388.88 507.00,388.38 507.30,388.00 507.40,387.87 507.80,387.36 508.20,386.84 508.60,386.32 509.00,385.78 509.40,385.24 509.80,384.68 510.20,384.10 510.60,383.51 511.00,382.90 511.00,382.90 511.40,382.27 511.80,381.62 512.20,380.96 512.60,380.27 513.00,379.57 513.40,378.84 513.80,378.09 514.20,377.31 514.60,376.51 514.70,376.30 515.00,375.66 515.40,374.73 515.80,373.75 516.20,372.73 516.60,371.69 517.00,370.65 517.40,369.63 517.80,368.64 518.20,367.72 518.30,367.50 518.60,366.84 519.00,365.95 519.40,365.07 519.80,364.21 520.20,363.40 520.60,362.66 521.00,362.01 521.30,361.60 521.40,361.47 521.80,360.96 522.20,360.44 522.60,359.95 523.00,359.49 523.40,359.08 523.80,358.74 524.20,358.49 524.60,358.34 524.90,358.30 525.00,358.30 525.40,358.30 525.80,358.30 526.20,358.30 526.60,358.30 527.00,358.30 527.40,358.30 527.80,358.30 528.20,358.30 528.60,358.30 529.00,358.30 529.30,358.30 529.40,358.30 529.80,358.33 530.20,358.39 530.60,358.47 531.00,358.58 531.40,358.69 531.80,358.82 532.20,358.94 532.60,359.06 533.00,359.17 533.40,359.26 533.60,359.30 533.80,359.33 534.20,359.41 534.60,359.48 535.00,359.55 535.40,359.62 535.80,359.70 536.20,359.76 536.60,359.83 537.00,359.89 537.40,359.94 537.80,359.99 538.20,360.03 538.60,360.06 539.00,360.09 539.40,360.10 539.60,360.10 539.80,360.10 540.20,360.10 540.60,360.09 541.00,360.08 541.40,360.06 541.80,360.05 542.20,360.03 542.60,360.00 543.00,359.98 543.40,359.95 543.80,359.92 544.10,359.90 544.20,359.89 544.60,359.83 545.00,359.74 545.40,359.62 545.80,359.47 546.20,359.31 546.60,359.12 547.00,358.93 547.40,358.73 547.80,358.53 548.20,358.33 548.60,358.13 549.00,357.95 549.40,357.78 549.80,357.63 549.90,357.60 550.20,357.50 550.60,357.36 551.00,357.22 551.40,357.07 551.80,356.92 552.20,356.78 552.60,356.63 553.00,356.50 553.40,356.37 553.80,356.25 554.20,356.15 554.60,356.06 555.00,355.99 555.40,355.94 555.80,355.91 556.10,355.90 556.20,355.90 556.60,355.95 557.00,356.05 557.40,356.20 557.80,356.39 558.20,356.62 558.60,356.87 559.00,357.15 559.40,357.45 559.60,357.60 559.80,357.77 560.20,358.22 560.60,358.79 561.00,359.45 561.40,360.17 561.80,360.94 562.20,361.71 562.40,362.10 562.60,362.50 563.00,363.35 563.40,364.27 563.80,365.24 564.20,366.25 564.60,367.26 565.00,368.26 565.30,369.00 565.40,369.24 565.80,370.24 566.20,371.26 566.60,372.28 567.00,373.29 567.40,374.28 567.80,375.23 568.10,375.90 568.20,376.12 568.60,376.98 569.00,377.82 569.40,378.64 569.80,379.44 570.20,380.21 570.60,380.96 571.00,381.68 571.40,382.37 571.60,382.70 571.80,383.02 572.20,383.66 572.60,384.27 573.00,384.87 573.40,385.44 573.80,386.01 574.20,386.55 574.60,387.09 575.00,387.61 575.40,388.12 575.80,388.63 576.10,389.00 576.20,389.12 576.60,389.61 577.00,390.10 577.40,390.57 577.80,391.04 578.20,391.50 578.60,391.94 579.00,392.38 579.40,392.81 579.80,393.22 580.20,393.62 580.60,394.01 580.70,394.10 581.00,394.38 581.40,394.75 581.80,395.11 582.20,395.47 582.60,395.82 583.00,396.17 583.40,396.50 583.80,396.83 584.20,397.15 584.60,397.45 585.00,397.75 585.40,398.04 585.80,398.31 586.20,398.57 586.40,398.70 586.60,398.82 587.00,399.07 587.40,399.31 587.80,399.54 588.20,399.77 588.60,399.99 589.00,400.20 589.40,400.41 589.80,400.61 590.20,400.80 590.60,400.98 591.00,401.16 591.40,401.33 591.80,401.49 592.10,401.60 592.20,401.64 592.60,401.78 593.00,401.92 593.40,402.06 593.80,402.19 594.20,402.32 594.60,402.44 595.00,402.56 595.40,402.67 595.80,402.79 596.20,402.89 596.60,403.00 597.00,403.11 597.40,403.21 597.80,403.31 598.20,403.41 598.60,403.50 599.00,403.60 599.00,403.60 599.40,403.69 599.80,403.79 600.20,403.88 600.60,403.97 601.00,404.06 601.40,404.15 601.80,404.24 602.20,404.32 602.60,404.40 603.00,404.49 603.40,404.56 603.80,404.64 604.20,404.71 604.60,404.79 605.00,404.85 605.40,404.92 605.80,404.98 605.90,405.00 606.20,405.05 606.60,405.11 607.00,405.17 607.40,405.23 607.80,405.29 608.20,405.34 608.60,405.40 609.00,405.46 609.40,405.51 609.80,405.57 610.20,405.62 610.60,405.67 611.00,405.72 611.40,405.77 611.80,405.82 612.20,405.86 612.60,405.90 613.00,405.94 613.40,405.98 613.80,406.01 614.20,406.04 614.60,406.07 615.00,406.10 615.00,406.10 615.40,406.12 615.80,406.15 616.20,406.17 616.60,406.19 617.00,406.21 617.40,406.23 617.80,406.25 618.20,406.27 618.60,406.29 619.00,406.31 619.40,406.33 619.80,406.34 620.20,406.36 620.60,406.37 621.00,406.39 621.40,406.40 621.80,406.42 622.20,406.43 622.60,406.45 623.00,406.46 623.40,406.47 623.80,406.49 624.20,406.50 624.60,406.51 625.00,406.53 625.40,406.54 625.80,406.55 626.20,406.56 626.60,406.58 627.00,406.59 627.40,406.60 627.80,406.62 628.20,406.63 628.60,406.65 629.00,406.66 629.40,406.68 629.80,406.69 630.00,406.70 630.20,406.71 630.60,406.72 631.00,406.74 631.40,406.76 631.80,406.77 632.20,406.79 632.60,406.81 633.00,406.82 633.40,406.84 633.80,406.85 634.20,406.87 634.60,406.89 635.00,406.90 635.40,406.92 635.80,406.94 636.20,406.95 636.60,406.97 637.00,406.99 637.40,407.00 637.80,407.02 638.20,407.04 638.60,407.05 639.00,407.07 639.40,407.09 639.80,407.10 640.20,407.12 640.60,407.14 641.00,407.15 641.40,407.17 641.80,407.19 642.20,407.20 642.60,407.22 643.00,407.23 643.40,407.25 643.80,407.27 644.20,407.28 644.60,407.30 645.00,407.31 645.40,407.33 645.80,407.34 646.20,407.36 646.60,407.38 647.00,407.39 647.40,407.41 647.80,407.42 648.20,407.44 648.60,407.45 649.00,407.46 649.40,407.48 649.80,407.49 650.00,407.50 650.20,407.51 650.60,407.52 651.00,407.54 651.40,407.55 651.80,407.56 652.20,407.58 652.60,407.59 653.00,407.61 653.40,407.62 653.80,407.63 654.20,407.65 654.60,407.66 655.00,407.67 655.40,407.69 655.80,407.70 656.20,407.72 656.60,407.73 657.00,407.74 657.40,407.76 657.80,407.77 658.20,407.78 658.60,407.80 659.00,407.81 659.40,407.82 659.80,407.84 660.20,407.85 660.60,407.86 661.00,407.88 661.40,407.89 661.80,407.90 662.20,407.92 662.60,407.93 663.00,407.94 663.40,407.96 663.80,407.97 664.20,407.98 664.60,408.00 665.00,408.01 665.40,408.02 665.80,408.03 666.20,408.05 666.60,408.06 667.00,408.07 667.40,408.09 667.80,408.10 668.20,408.11 668.60,408.12 669.00,408.14 669.40,408.15 669.80,408.16 670.20,408.17 670.60,408.19 671.00,408.20 671.40,408.21 671.80,408.22 672.20,408.23 672.60,408.25 673.00,408.26 673.40,408.27 673.80,408.28 674.20,408.30 674.60,408.31 675.00,408.32 675.40,408.33 675.80,408.34 676.20,408.35 676.60,408.37 677.00,408.38 677.40,408.39 677.80,408.40 678.20,408.41 678.60,408.42 679.00,408.43 679.40,408.45 679.80,408.46 680.20,408.47 680.60,408.48 681.00,408.49 681.40,408.50 681.80,408.51 682.20,408.52 682.60,408.53 683.00,408.55 683.40,408.56 683.80,408.57 684.20,408.58 684.60,408.59 685.00,408.60 685.40,408.61 685.80,408.62 686.20,408.63 686.60,408.64 687.00,408.65 687.40,408.66 687.80,408.67 688.20,408.68 688.60,408.69 689.00,408.70 689.00,408.70"/>
<polyline fill="none" stroke="#111" stroke-width="1.25" stroke-linejoin="round"  points="393.80,479.68 394.25,480.30 394.70,479.81 395.15,480.69 395.60,483.38 396.05,479.42 396.50,482.72 396.95,483.14 397.40,481.03 397.85,480.58 398.30,482.43 398.75,483.07 399.20,484.29 399.65,482.65 400.10,483.56 400.55,480.90 401.00,481.44 401.45,479.25 401.90,479.98 402.35,481.01 402.80,481.73 403.25,481.07 403.70,482.53 404.15,481.33 404.60,480.63 405.05,480.47 405.50,487.09 405.95,481.68 406.40,480.28 406.85,480.21 407.30,483.83 407.75,480.69 408.20,482.98 408.65,483.28 409.10,478.41 409.55,483.18 410.00,481.15 410.45,480.01 410.90,480.71 411.35,482.14 411.80,481.89 412.25,481.95 412.70,480.45 413.15,483.05 413.60,483.34 414.05,483.76 414.50,482.67 414.95,483.83 415.40,484.08 415.85,482.27 416.30,482.49 416.75,482.10 417.20,481.54 417.65,482.45 418.10,479.10 418.55,480.90 419.00,481.95 419.45,478.57 419.90,479.42 420.35,483.35 420.80,479.91 421.25,480.67 421.70,481.76 422.15,480.64 422.60,480.14 423.05,480.58 423.50,480.68 423.95,480.48 424.40,481.46 424.85,483.31 425.30,481.67 425.75,483.31 426.20,482.15 426.65,482.27 427.10,481.94 427.55,480.78 428.00,481.71 428.45,481.54 428.90,479.69 429.35,482.10 429.80,481.87 430.25,481.59 430.70,480.38 431.15,477.67 431.60,482.99 432.05,480.19 432.50,478.23 432.95,481.90 433.40,480.14 433.85,481.93 434.30,480.89 434.75,482.49 435.20,481.31 435.65,481.36 436.10,481.18 436.55,482.57 437.00,479.28 437.45,482.48 437.90,481.92 438.35,480.21 438.80,480.91 439.25,480.32 439.70,480.97 440.15,482.10 440.60,479.99 441.05,481.82 441.50,482.07 441.95,481.66 442.40,482.85 442.85,480.72 443.30,481.70 443.75,484.01 444.20,480.81 444.65,480.58 445.10,480.75 445.55,481.50 446.00,479.92 446.45,480.39 446.90,478.42 447.35,479.32 447.80,479.34 448.25,479.15 448.70,480.07 449.15,481.53 449.60,480.12 450.05,478.88 450.50,480.90 450.95,480.80 451.40,478.74 451.85,480.74 452.30,479.14 452.75,479.70 453.20,479.55 453.65,481.56 454.10,479.50 454.55,480.04 455.00,480.68 455.45,481.77 455.90,481.95 456.35,479.07 456.40,481.94 456.80,480.77 457.25,481.92 457.70,481.72 458.15,479.64 458.60,480.36 459.05,479.90 459.50,480.75 459.95,482.39 460.40,480.28 460.85,479.32 461.30,485.53 461.75,478.83 462.20,480.09 462.65,480.04 463.10,475.37 463.55,481.02 464.00,481.33 464.45,479.80 464.90,479.69 465.35,479.61 465.80,478.48 466.25,480.05 466.70,478.07 467.15,478.40 467.60,480.11 468.05,480.74 468.50,478.36 468.95,480.91 469.40,481.67 469.85,481.38 470.00,479.20 470.30,479.52 470.75,478.66 471.20,477.99 471.65,479.84 472.10,479.83 472.55,478.13 473.00,478.13 473.45,477.72 473.90,477.49 474.35,477.01 474.80,476.19 475.25,479.19 475.70,477.43 476.15,477.86 476.40,480.03 476.60,477.02 477.05,478.29 477.50,477.49 477.95,476.51 478.40,478.11 478.85,476.76 479.30,475.13 479.75,474.89 480.20,477.20 480.65,475.44 481.10,477.41 481.55,476.76 482.00,475.87 482.45,476.07 482.70,477.06 482.90,476.07 483.35,474.68 483.80,474.91 484.25,475.19 484.70,475.21 485.15,476.11 485.60,475.66 486.05,476.41 486.50,474.71 486.95,474.22 487.40,474.21 487.85,474.97 488.30,473.28 488.75,473.67 489.10,472.91 489.20,472.95 489.65,473.52 490.10,476.62 490.55,472.81 491.00,473.39 491.45,472.92 491.90,472.32 492.35,472.30 492.80,474.48 493.25,471.37 493.70,473.45 494.15,471.94 494.60,469.72 495.05,469.70 495.40,469.71 495.50,468.85 495.95,471.39 496.40,470.16 496.85,470.00 497.30,467.71 497.75,469.28 498.20,467.69 498.65,471.12 499.10,467.59 499.55,467.73 500.00,467.55 500.45,466.07 500.90,465.83 501.35,465.46 501.80,466.68 501.80,464.68 502.25,465.03 502.70,465.28 503.15,463.97 503.60,462.38 504.05,462.21 504.50,462.79 504.95,460.28 505.40,463.72 505.85,462.09 506.30,461.59 506.75,459.89 507.10,461.46 507.20,460.23 507.65,458.98 508.10,458.85 508.55,462.12 509.00,457.78 509.45,456.86 509.90,459.63 510.35,457.69 510.80,455.02 511.25,457.25 511.70,453.02 512.15,453.63 512.40,451.81 512.60,455.33 513.05,453.02 513.50,455.58 513.95,452.24 514.40,451.60 514.85,448.89 515.30,448.12 515.75,448.27 516.20,449.28 516.60,446.14 516.65,444.36 517.10,447.62 517.55,444.31 518.00,443.63 518.45,444.42 518.90,444.36 519.35,443.50 519.80,439.13 519.80,441.19 520.25,439.95 520.70,440.49 521.15,438.46 521.60,435.90 522.05,436.64 522.50,436.37 522.95,432.81 523.00,432.96 523.40,433.08 523.85,432.73 524.30,431.60 524.75,429.22 525.20,428.80 525.65,429.38 526.10,428.74 526.10,428.22 526.55,428.79 527.00,430.13 527.45,426.71 527.90,425.88 528.30,425.37 528.35,426.87 528.80,428.65 529.25,427.56 529.70,427.62 530.15,429.49 530.40,429.92 530.60,429.55 531.05,432.09 531.50,429.62 531.95,433.49 532.40,433.32 532.85,435.27 533.30,437.06 533.60,434.80 533.75,434.49 534.20,434.60 534.65,436.18 535.10,437.08 535.55,434.05 536.00,434.37 536.45,435.57 536.70,433.86 536.90,431.18 537.35,431.84 537.80,432.08 538.25,433.10 538.40,431.87 538.70,434.40 539.15,432.20 539.60,435.11 540.05,432.66 540.50,435.66 540.95,434.65 541.40,436.70 541.85,437.82 542.30,437.91 542.75,437.27 543.00,435.08 543.20,435.05 543.65,432.11 544.10,437.67 544.55,437.95 545.00,437.69 545.45,435.00 545.90,440.07 546.35,435.79 546.40,437.78 546.80,434.78 547.25,436.45 547.70,439.32 548.15,439.65 548.60,437.56 549.05,439.47 549.50,441.59 549.95,438.27 550.40,441.97 550.85,439.17 551.00,441.98 551.30,440.80 551.75,442.21 552.20,439.96 552.65,439.76 553.10,440.70 553.55,438.00 554.00,438.37 554.40,437.01 554.45,437.54 554.90,438.62 555.35,436.69 555.80,437.80 556.25,436.66 556.70,435.60 557.15,433.19 557.60,434.90 557.90,436.53 558.05,435.50 558.50,435.42 558.95,437.13 559.40,433.93 559.85,437.41 560.10,437.82 560.30,437.23 560.75,436.87 561.20,440.03 561.65,440.94 562.10,444.70 562.40,444.60 562.55,442.63 563.00,442.47 563.45,443.31 563.90,444.85 564.35,444.47 564.80,448.46 565.25,444.91 565.70,446.97 565.90,447.60 566.15,448.40 566.60,447.64 567.05,449.67 567.50,451.39 567.95,452.79 568.40,452.77 568.85,454.17 569.30,455.71 569.30,457.90 569.75,454.59 570.20,457.72 570.65,459.50 571.10,456.25 571.55,460.49 572.00,460.97 572.45,459.74 572.90,461.39 573.35,462.53 573.80,462.39 573.90,461.47 574.25,460.14 574.70,461.05 575.15,462.43 575.60,462.60 576.05,465.17 576.50,463.15 576.95,462.22 577.40,465.27 577.85,465.65 578.30,465.32 578.75,464.97 579.20,464.48 579.60,464.98 579.65,467.82 580.10,467.23 580.55,466.73 581.00,467.51 581.45,466.89 581.90,466.52 582.35,465.72 582.80,468.38 583.25,466.94 583.70,468.46 584.15,467.29 584.60,469.28 585.05,470.98 585.30,468.65 585.50,469.04 585.95,468.77 586.40,470.57 586.85,469.97 587.30,471.36 587.75,470.75 588.20,475.41 588.65,472.71 589.10,472.31 589.55,472.88 590.00,474.88 590.45,475.29 590.90,474.65 591.35,472.01 591.80,476.04 592.10,476.28 592.25,475.97 592.70,475.17 593.15,475.43 593.60,477.05 594.05,475.27 594.50,477.16 594.95,475.34 595.40,475.60 595.85,475.66 596.30,475.64 596.75,475.86 597.20,477.59 597.65,478.75 598.10,475.95 598.55,475.64 599.00,478.72 599.00,476.68 599.45,477.60 599.90,477.57 600.35,478.68 600.80,476.50 601.25,479.25 601.70,478.93 602.15,475.20 602.60,477.96 603.05,477.80 603.50,478.91 603.95,478.46 604.40,475.48 604.85,478.33 605.30,479.33 605.75,479.04 606.20,478.88 606.65,482.03 607.10,479.93 607.55,477.88 608.00,479.54 608.10,479.82 608.45,478.17 608.90,479.65 609.35,478.46 609.80,476.73 610.25,480.08 610.70,480.49 611.15,480.52 611.60,479.58 612.05,479.04 612.50,480.14 612.95,480.42 613.40,481.08 613.85,481.66 614.30,481.01 614.75,479.25 615.00,479.94 615.20,478.21 615.65,480.97 616.10,480.82 616.55,481.64 617.00,480.76 617.45,482.18 617.90,479.29 618.35,480.64 618.80,479.92 619.25,479.98 619.70,478.01 620.15,479.35 620.60,477.77 621.05,479.93 621.50,479.48 621.95,480.56 622.40,478.07 622.85,479.76 623.30,480.13 623.75,477.51 624.20,480.53 624.65,481.13 625.10,479.55 625.55,482.98 626.00,482.32 626.45,477.42 626.90,480.24 627.35,479.84 627.80,480.73 628.25,479.47 628.70,480.38 629.15,480.84 629.60,477.55 630.05,480.94 630.50,482.62 630.95,481.00 631.40,482.34 631.85,482.93 632.30,481.29 632.75,481.45 633.20,481.50 633.65,480.46 634.10,483.96 634.55,481.63 635.00,481.80 635.45,482.34 635.90,483.05 636.35,479.41 636.80,479.87 637.25,483.41 637.70,481.91 638.15,479.69 638.60,479.51 639.05,482.29 639.50,482.25 639.95,480.96 640.40,480.98 640.85,480.55 641.30,479.87 641.75,480.27 642.20,483.46 642.65,481.19 643.10,483.22 643.55,479.76 644.00,479.28 644.45,482.23 644.90,480.73 645.35,481.12 645.80,481.58 646.25,479.93 646.70,479.59 647.15,481.93 647.60,478.09 648.05,482.42 648.50,479.33 648.95,482.69 649.40,482.06 649.85,481.98 650.30,482.33 650.75,482.57 651.20,479.97 651.65,482.82 652.10,481.95 652.55,482.40 653.00,481.65 653.45,481.50 653.90,483.05 654.35,483.09 654.80,482.19 655.25,480.36 655.70,480.72 656.15,480.65 656.60,483.42 657.05,482.65 657.50,482.11 657.95,481.86 658.40,481.12 658.85,483.15 659.30,480.77 659.75,481.04 660.20,483.25 660.65,482.99 661.10,482.11 661.55,481.40 662.00,480.60 662.45,483.35 662.90,482.76 663.35,484.21 663.80,481.71 664.25,481.88 664.70,481.13 665.15,484.49 665.60,480.20 666.05,483.19 666.50,484.49 666.95,481.18 667.40,480.57 667.85,481.13 668.30,480.61 668.75,482.91 669.20,482.35 669.65,481.31 670.10,482.13 670.55,483.62 671.00,482.19 671.45,483.50 671.90,485.04 672.35,481.39 672.80,481.94 673.25,484.46 673.70,482.61 674.15,480.09 674.60,481.44 675.05,479.65 675.50,481.73 675.95,482.99 676.40,480.45 676.85,484.57 677.30,487.22 677.75,483.63 678.20,481.65 678.65,482.64 679.10,483.33 679.55,483.86 680.00,484.28 680.45,479.82 680.90,481.70 681.35,481.13 681.80,484.24 682.25,482.91 682.70,485.63 683.15,482.52 683.60,483.83 684.05,482.80 684.50,482.61 684.95,484.93 685.40,481.22 685.85,483.54 686.30,485.36 686.75,487.13 687.20,482.00 687.65,481.46 688.10,481.03 688.55,482.14 689.00,482.67 689.00,482.69"/>
<polyline fill="none" stroke="#ff2a2a" stroke-width="1.3" stroke-linejoin="round"  points="393.80,482.40 394.20,482.40 394.60,482.40 395.00,482.40 395.40,482.40 395.80,482.40 396.20,482.40 396.60,482.40 397.00,482.40 397.40,482.40 397.80,482.40 398.20,482.40 398.60,482.40 399.00,482.40 399.40,482.40 399.80,482.40 400.20,482.40 400.60,482.40 401.00,482.40 401.40,482.39 401.80,482.39 402.20,482.39 402.60,482.39 403.00,482.39 403.40,482.39 403.80,482.39 404.20,482.39 404.60,482.39 405.00,482.39 405.40,482.39 405.80,482.39 406.20,482.39 406.60,482.38 407.00,482.38 407.40,482.38 407.80,482.38 408.20,482.38 408.60,482.38 409.00,482.38 409.40,482.38 409.80,482.38 410.20,482.37 410.60,482.37 411.00,482.37 411.40,482.37 411.80,482.37 412.20,482.37 412.60,482.37 413.00,482.36 413.40,482.36 413.80,482.36 414.20,482.36 414.60,482.36 415.00,482.36 415.40,482.35 415.80,482.35 416.20,482.35 416.60,482.35 417.00,482.35 417.40,482.35 417.80,482.34 418.20,482.34 418.60,482.34 419.00,482.34 419.40,482.34 419.80,482.33 420.20,482.33 420.60,482.33 421.00,482.33 421.40,482.33 421.80,482.32 422.20,482.32 422.60,482.32 423.00,482.32 423.40,482.31 423.80,482.31 424.20,482.31 424.60,482.31 425.00,482.30 425.40,482.30 425.80,482.30 426.20,482.30 426.60,482.29 427.00,482.29 427.40,482.29 427.80,482.29 428.20,482.28 428.60,482.28 429.00,482.28 429.40,482.28 429.80,482.27 430.20,482.27 430.60,482.27 431.00,482.26 431.40,482.26 431.80,482.26 432.20,482.25 432.60,482.25 433.00,482.25 433.40,482.24 433.80,482.24 434.20,482.24 434.60,482.23 435.00,482.23 435.40,482.23 435.80,482.22 436.20,482.22 436.60,482.22 437.00,482.21 437.40,482.21 437.80,482.21 438.20,482.20 438.60,482.20 439.00,482.20 439.40,482.19 439.80,482.19 440.20,482.18 440.60,482.18 441.00,482.18 441.40,482.17 441.80,482.17 442.20,482.17 442.60,482.16 443.00,482.16 443.40,482.15 443.80,482.15 444.20,482.14 444.60,482.14 445.00,482.14 445.40,482.13 445.80,482.13 446.20,482.12 446.60,482.12 447.00,482.11 447.40,482.11 447.80,482.11 448.20,482.10 448.60,482.10 449.00,482.09 449.40,482.09 449.80,482.08 450.20,482.08 450.60,482.07 451.00,482.07 451.40,482.06 451.80,482.06 452.20,482.05 452.60,482.05 453.00,482.04 453.40,482.04 453.80,482.03 454.20,482.03 454.60,482.02 455.00,482.02 455.40,482.01 455.80,482.01 456.20,482.00 456.40,482.00 456.60,482.00 457.00,481.99 457.40,481.98 457.80,481.97 458.20,481.97 458.60,481.95 459.00,481.94 459.40,481.93 459.80,481.92 460.20,481.90 460.60,481.89 461.00,481.87 461.40,481.86 461.80,481.84 462.20,481.82 462.60,481.80 463.00,481.79 463.40,481.77 463.80,481.75 464.20,481.73 464.60,481.71 465.00,481.68 465.40,481.66 465.80,481.64 466.20,481.62 466.60,481.60 467.00,481.57 467.40,481.55 467.80,481.53 468.20,481.51 468.60,481.48 469.00,481.46 469.40,481.44 469.80,481.41 470.00,481.40 470.20,481.39 470.60,481.36 471.00,481.34 471.40,481.31 471.80,481.28 472.20,481.25 472.60,481.22 473.00,481.18 473.40,481.15 473.80,481.12 474.20,481.08 474.60,481.05 475.00,481.01 475.40,480.98 475.80,480.95 476.20,480.92 476.40,480.90 476.60,480.88 477.00,480.85 477.40,480.82 477.80,480.80 478.20,480.77 478.60,480.74 479.00,480.71 479.40,480.68 479.80,480.66 480.20,480.63 480.60,480.59 481.00,480.56 481.40,480.53 481.80,480.49 482.20,480.45 482.60,480.41 482.70,480.40 483.00,480.37 483.40,480.32 483.80,480.27 484.20,480.21 484.60,480.15 485.00,480.09 485.40,480.03 485.80,479.96 486.20,479.89 486.60,479.82 487.00,479.74 487.40,479.66 487.80,479.58 488.20,479.50 488.60,479.41 489.00,479.32 489.10,479.30 489.40,479.23 489.80,479.14 490.20,479.04 490.60,478.94 491.00,478.83 491.40,478.72 491.80,478.60 492.20,478.48 492.60,478.35 493.00,478.21 493.40,478.06 493.80,477.91 494.20,477.75 494.60,477.57 495.00,477.39 495.40,477.20 495.40,477.20 495.80,476.98 496.20,476.71 496.60,476.40 497.00,476.06 497.40,475.70 497.80,475.34 498.20,474.96 498.60,474.60 498.60,474.60 499.00,474.23 499.40,473.85 499.80,473.44 500.20,473.03 500.60,472.61 501.00,472.18 501.40,471.75 501.80,471.32 502.20,470.90 502.60,470.48 503.00,470.07 503.40,469.67 503.80,469.29 503.90,469.20 504.20,468.93 504.60,468.58 505.00,468.24 505.40,467.91 505.80,467.58 506.20,467.26 506.60,466.94 507.00,466.62 507.40,466.30 507.80,465.98 508.20,465.65 508.60,465.31 509.00,464.97 509.30,464.70 509.40,464.61 509.80,464.26 510.20,463.92 510.60,463.58 511.00,463.23 511.40,462.87 511.80,462.48 512.20,462.05 512.60,461.58 512.90,461.20 513.00,461.06 513.40,460.47 513.80,459.79 514.20,459.03 514.60,458.19 515.00,457.28 515.40,456.31 515.60,455.80 515.80,455.24 516.20,453.90 516.60,452.40 517.00,450.89 517.40,449.50 517.40,449.50 517.80,448.24 518.20,447.03 518.60,445.87 519.00,444.75 519.20,444.20 519.40,443.66 519.80,442.59 520.20,441.55 520.60,440.58 521.00,439.70 521.00,439.70 521.40,438.79 521.80,437.92 522.20,437.42 522.30,437.40 522.60,437.40 523.00,437.40 523.40,437.40 523.80,437.40 524.20,437.40 524.50,437.40 524.60,437.40 525.00,437.46 525.40,437.59 525.80,437.77 526.20,437.99 526.60,438.24 527.00,438.50 527.40,438.77 527.80,439.02 528.10,439.20 528.20,439.26 528.60,439.49 529.00,439.74 529.40,440.00 529.80,440.27 530.20,440.54 530.60,440.81 531.00,441.07 531.40,441.32 531.70,441.50 531.80,441.56 532.20,441.80 532.60,442.06 533.00,442.31 533.40,442.56 533.80,442.78 534.20,442.99 534.60,443.16 535.00,443.30 535.00,443.30 535.40,443.41 535.80,443.52 536.20,443.63 536.60,443.73 537.00,443.83 537.40,443.91 537.80,443.99 538.20,444.06 538.60,444.12 539.00,444.16 539.40,444.19 539.80,444.20 539.90,444.20 540.20,444.20 540.60,444.18 541.00,444.15 541.40,444.10 541.80,444.05 542.20,443.98 542.60,443.90 543.00,443.82 543.40,443.73 543.80,443.63 544.20,443.53 544.60,443.42 545.00,443.30 545.40,443.19 545.80,443.07 546.20,442.96 546.40,442.90 546.60,442.84 547.00,442.71 547.40,442.55 547.80,442.39 548.20,442.21 548.60,442.01 549.00,441.81 549.40,441.59 549.80,441.37 550.20,441.14 550.60,440.91 551.00,440.67 551.40,440.43 551.80,440.18 552.10,440.00 552.20,439.94 552.60,439.68 553.00,439.40 553.40,439.10 553.80,438.80 554.20,438.48 554.60,438.16 555.00,437.85 555.40,437.53 555.80,437.23 556.20,436.94 556.60,436.67 556.70,436.60 557.00,436.39 557.40,436.09 557.80,435.78 558.20,435.48 558.60,435.22 559.00,435.02 559.40,434.91 559.60,434.90 559.80,434.92 560.20,435.07 560.60,435.36 561.00,435.76 561.40,436.24 561.80,436.79 562.20,437.39 562.40,437.70 562.60,438.06 563.00,439.07 563.40,440.35 563.80,441.81 564.20,443.31 564.60,444.76 564.70,445.10 565.00,446.13 565.40,447.55 565.80,449.00 566.20,450.43 566.60,451.81 567.00,453.10 567.00,453.10 567.40,454.34 567.80,455.59 568.20,456.79 568.60,457.89 569.00,458.83 569.30,459.40 569.40,459.57 569.80,460.19 570.20,460.74 570.60,461.25 571.00,461.70 571.40,462.13 571.80,462.53 572.20,462.92 572.60,463.30 572.70,463.40 573.00,463.69 573.40,464.05 573.80,464.40 574.20,464.73 574.60,465.06 575.00,465.37 575.40,465.67 575.80,465.98 576.20,466.28 576.60,466.58 577.00,466.88 577.40,467.19 577.80,467.51 578.20,467.83 578.40,468.00 578.60,468.17 579.00,468.52 579.40,468.87 579.80,469.23 580.20,469.59 580.60,469.96 581.00,470.33 581.40,470.69 581.80,471.06 582.20,471.43 582.60,471.79 583.00,472.15 583.40,472.50 583.80,472.85 584.10,473.10 584.20,473.18 584.60,473.53 585.00,473.88 585.40,474.24 585.80,474.60 586.20,474.96 586.60,475.31 587.00,475.66 587.40,476.00 587.80,476.33 588.20,476.64 588.60,476.93 589.00,477.19 589.40,477.44 589.80,477.65 589.90,477.70 590.20,477.84 590.60,478.03 591.00,478.20 591.40,478.38 591.80,478.54 592.20,478.70 592.60,478.85 593.00,479.00 593.40,479.14 593.80,479.27 594.20,479.39 594.60,479.51 595.00,479.62 595.40,479.72 595.80,479.82 596.20,479.90 596.60,479.98 596.70,480.00 597.00,480.05 597.40,480.12 597.80,480.19 598.20,480.25 598.60,480.31 599.00,480.37 599.40,480.43 599.80,480.48 600.20,480.53 600.60,480.58 601.00,480.63 601.40,480.67 601.80,480.72 602.20,480.76 602.60,480.80 603.00,480.84 603.40,480.88 603.80,480.91 604.20,480.95 604.60,480.99 605.00,481.02 605.40,481.06 605.80,481.09 605.90,481.10 606.20,481.13 606.60,481.16 607.00,481.19 607.40,481.23 607.80,481.26 608.20,481.29 608.60,481.32 609.00,481.35 609.40,481.38 609.80,481.41 610.20,481.44 610.60,481.47 611.00,481.49 611.40,481.52 611.80,481.55 612.20,481.57 612.60,481.59 613.00,481.61 613.40,481.63 613.80,481.65 614.20,481.67 614.60,481.69 615.00,481.70 615.00,481.70 615.40,481.71 615.80,481.73 616.20,481.74 616.60,481.75 617.00,481.77 617.40,481.78 617.80,481.79 618.20,481.81 618.60,481.82 619.00,481.83 619.40,481.85 619.80,481.86 620.20,481.87 620.60,481.89 621.00,481.90 621.40,481.91 621.80,481.93 622.20,481.94 622.60,481.95 623.00,481.96 623.40,481.98 623.80,481.99 624.20,482.00 624.60,482.01 625.00,482.03 625.40,482.04 625.80,482.05 626.20,482.06 626.60,482.08 627.00,482.09 627.40,482.10 627.80,482.11 628.20,482.12 628.60,482.14 629.00,482.15 629.40,482.16 629.80,482.17 630.20,482.18 630.60,482.19 631.00,482.21 631.40,482.22 631.80,482.23 632.20,482.24 632.60,482.25 633.00,482.26 633.40,482.27 633.80,482.28 634.20,482.30 634.60,482.31 635.00,482.32 635.40,482.33 635.80,482.34 636.20,482.35 636.60,482.36 637.00,482.37 637.40,482.38 637.80,482.39 638.20,482.40 638.60,482.41 639.00,482.42 639.40,482.43 639.80,482.44 640.20,482.45 640.60,482.46 641.00,482.47 641.40,482.48 641.80,482.49 642.20,482.50 642.60,482.51 643.00,482.52 643.40,482.53 643.80,482.54 644.20,482.55 644.60,482.56 645.00,482.57 645.40,482.58 645.80,482.59 646.20,482.60 646.60,482.60 647.00,482.61 647.40,482.62 647.80,482.63 648.20,482.64 648.60,482.65 649.00,482.66 649.40,482.66 649.80,482.67 650.20,482.68 650.60,482.69 651.00,482.70 651.40,482.71 651.80,482.71 652.20,482.72 652.60,482.73 653.00,482.74 653.40,482.75 653.80,482.75 654.20,482.76 654.60,482.77 655.00,482.78 655.40,482.78 655.80,482.79 656.20,482.80 656.60,482.80 657.00,482.81 657.40,482.82 657.80,482.82 658.20,482.83 658.60,482.84 659.00,482.84 659.40,482.85 659.80,482.86 660.20,482.86 660.60,482.87 661.00,482.88 661.40,482.88 661.80,482.89 662.20,482.89 662.60,482.90 663.00,482.91 663.40,482.91 663.80,482.92 664.20,482.92 664.60,482.93 665.00,482.93 665.40,482.94 665.80,482.95 666.20,482.95 666.60,482.96 667.00,482.96 667.40,482.97 667.80,482.97 668.20,482.97 668.60,482.98 669.00,482.98 669.40,482.99 669.80,482.99 670.20,483.00 670.60,483.00 671.00,483.01 671.40,483.01 671.80,483.01 672.20,483.02 672.60,483.02 673.00,483.03 673.40,483.03 673.80,483.03 674.20,483.04 674.60,483.04 675.00,483.04 675.40,483.05 675.80,483.05 676.20,483.05 676.60,483.05 677.00,483.06 677.40,483.06 677.80,483.06 678.20,483.07 678.60,483.07 679.00,483.07 679.40,483.07 679.80,483.07 680.20,483.08 680.60,483.08 681.00,483.08 681.40,483.08 681.80,483.08 682.20,483.09 682.60,483.09 683.00,483.09 683.40,483.09 683.80,483.09 684.20,483.09 684.60,483.09 685.00,483.10 685.40,483.10 685.80,483.10 686.20,483.10 686.60,483.10 687.00,483.10 687.40,483.10 687.80,483.10 688.20,483.10 688.60,483.10 689.00,483.10 689.00,483.10"/>
<polyline fill="none" stroke="#111" stroke-width="1.25" stroke-linejoin="round"  points="393.80,558.62 394.25,558.18 394.70,557.82 395.15,554.88 395.60,558.46 396.05,555.13 396.50,559.08 396.95,558.69 397.40,555.98 397.85,558.97 398.30,558.28 398.75,557.20 399.20,557.49 399.65,559.85 400.10,557.13 400.55,557.59 401.00,556.95 401.45,556.94 401.90,557.49 402.35,558.22 402.80,557.50 403.25,557.42 403.70,557.07 404.15,557.62 404.60,556.12 405.05,557.94 405.50,559.57 405.95,556.87 406.40,557.80 406.85,561.52 407.30,556.56 407.75,555.74 408.20,557.29 408.65,560.19 409.10,560.49 409.55,556.26 410.00,558.58 410.45,557.84 410.90,557.06 411.35,555.30 411.80,559.15 412.25,556.70 412.70,558.20 413.15,556.54 413.60,560.24 414.05,559.33 414.50,556.29 414.95,557.45 415.40,559.13 415.85,556.05 416.30,557.27 416.75,558.07 417.20,555.67 417.65,556.16 418.10,555.54 418.55,557.07 419.00,557.02 419.45,558.95 419.90,557.88 420.35,558.47 420.80,557.61 421.25,558.70 421.70,557.58 422.15,556.43 422.60,559.24 423.05,558.97 423.50,560.63 423.95,557.50 424.40,556.92 424.85,555.79 425.30,552.64 425.75,555.95 426.20,558.28 426.65,557.53 427.10,554.26 427.55,558.42 428.00,556.85 428.45,556.81 428.90,557.04 429.35,557.42 429.80,558.21 430.25,555.33 430.70,559.78 431.15,556.91 431.60,559.04 432.05,556.21 432.50,559.67 432.95,558.33 433.40,559.64 433.85,556.60 434.30,558.56 434.75,557.97 435.20,555.55 435.65,557.15 436.10,556.89 436.55,556.21 437.00,556.46 437.45,555.58 437.90,556.83 438.35,557.87 438.80,556.41 439.25,555.38 439.70,558.76 440.15,556.91 440.60,557.42 441.05,557.07 441.50,556.66 441.95,558.14 442.40,556.66 442.85,557.37 443.30,555.45 443.75,555.19 444.20,556.80 444.65,559.78 445.10,557.52 445.55,559.79 446.00,557.85 446.45,557.84 446.90,556.48 447.35,557.20 447.80,559.55 448.25,558.75 448.70,556.39 449.15,556.58 449.60,558.92 450.05,556.50 450.50,558.35 450.95,555.96 451.40,557.95 451.85,559.10 452.30,558.19 452.75,557.41 453.20,557.27 453.65,556.96 454.10,557.03 454.55,560.41 455.00,561.54 455.45,557.56 455.90,555.38 456.35,556.32 456.40,557.39 456.80,559.04 457.25,555.22 457.70,557.82 458.15,560.32 458.60,555.33 459.05,556.99 459.50,559.00 459.95,556.33 460.40,556.32 460.85,557.05 461.30,557.55 461.75,556.25 462.20,558.03 462.65,554.26 463.10,557.56 463.55,557.16 464.00,556.44 464.45,557.12 464.90,556.64 465.35,558.28 465.80,554.55 466.25,556.42 466.70,554.63 467.15,554.93 467.60,556.04 468.05,554.29 468.50,555.16 468.95,554.49 469.40,557.81 469.85,556.27 470.00,557.33 470.30,553.54 470.75,555.73 471.20,554.92 471.65,557.60 472.10,557.52 472.55,553.70 473.00,554.77 473.45,556.03 473.90,556.36 474.35,555.36 474.80,555.18 475.25,554.99 475.70,553.52 476.15,554.57 476.60,555.26 476.90,553.66 477.05,555.57 477.50,550.84 477.95,553.30 478.40,555.77 478.85,554.52 479.30,553.76 479.75,553.21 480.20,550.75 480.65,551.98 481.10,554.43 481.55,549.87 482.00,550.83 482.45,549.65 482.90,550.99 483.35,550.94 483.80,552.05 483.80,550.23 484.25,553.34 484.70,551.78 485.15,550.15 485.60,549.31 486.05,548.48 486.50,550.42 486.95,552.66 487.40,549.69 487.85,548.38 488.30,549.43 488.75,548.62 489.20,547.89 489.65,546.35 490.00,548.53 490.10,550.47 490.55,549.83 491.00,549.17 491.45,547.79 491.90,547.72 492.35,547.98 492.80,546.12 493.25,546.07 493.70,544.66 494.15,546.12 494.60,542.88 494.90,544.60 495.05,544.63 495.50,544.00 495.95,543.19 496.40,540.97 496.85,541.05 497.30,539.53 497.75,538.76 498.20,536.81 498.65,537.43 499.10,535.70 499.20,535.08 499.55,535.94 500.00,533.19 500.45,533.08 500.90,533.21 501.35,532.10 501.80,528.71 502.20,529.15 502.25,528.06 502.70,530.10 503.15,528.51 503.60,527.27 504.05,525.11 504.50,524.48 504.95,524.99 505.40,523.65 505.85,522.69 505.90,523.83 506.30,520.57 506.75,518.66 507.20,518.93 507.65,517.66 508.10,517.94 508.55,515.77 509.00,515.52 509.45,512.03 509.60,516.24 509.90,514.12 510.35,511.37 510.80,511.79 511.25,511.87 511.70,510.25 512.15,507.96 512.60,507.86 513.05,507.27 513.20,504.24 513.50,503.36 513.95,503.63 514.40,504.89 514.85,504.76 515.30,502.27 515.75,503.35 516.20,502.01 516.65,499.97 516.90,498.74 517.10,498.61 517.55,498.99 518.00,500.20 518.45,498.96 518.90,495.67 519.35,495.28 519.80,497.45 520.25,496.11 520.60,494.18 520.70,496.17 521.15,496.39 521.60,494.85 522.05,493.09 522.50,493.80 522.95,490.66 523.40,489.55 523.85,488.36 524.30,491.41 524.75,491.23 525.20,488.12 525.50,488.90 525.65,488.72 526.10,489.37 526.55,489.74 527.00,489.13 527.45,488.20 527.90,487.74 528.35,487.19 528.80,485.22 529.10,488.60 529.25,487.69 529.70,489.13 530.15,489.39 530.60,488.71 531.05,489.92 531.50,491.58 531.60,490.55 531.95,490.26 532.40,490.79 532.85,492.87 533.30,492.77 533.75,493.19 534.20,492.88 534.65,494.36 535.00,493.75 535.10,496.99 535.55,493.35 536.00,493.32 536.45,496.65 536.90,494.65 537.35,493.97 537.80,495.79 537.80,492.20 538.25,496.03 538.70,495.68 539.15,496.20 539.60,495.00 540.05,497.96 540.50,496.85 540.95,496.62 541.40,497.33 541.85,496.00 541.90,496.95 542.30,495.40 542.75,496.23 543.20,498.40 543.65,498.55 544.10,499.76 544.55,498.34 545.00,499.46 545.45,499.11 545.90,500.71 546.35,501.75 546.80,502.43 547.25,502.04 547.70,498.30 548.15,499.05 548.60,500.35 548.70,499.20 549.05,501.91 549.50,501.72 549.95,502.46 550.40,504.07 550.85,499.56 551.30,499.78 551.75,500.73 552.20,500.61 552.65,500.82 553.10,498.37 553.55,499.55 554.00,500.53 554.45,502.02 554.90,497.82 555.35,501.50 555.60,499.01 555.80,497.51 556.25,501.18 556.70,498.19 557.15,498.25 557.60,500.93 558.05,501.60 558.50,500.63 558.95,499.92 559.40,499.24 559.85,501.63 560.10,498.63 560.30,499.92 560.75,503.53 561.20,503.35 561.65,504.55 562.10,503.95 562.55,502.42 563.00,505.03 563.45,500.26 563.90,506.41 564.35,507.85 564.80,505.37 565.25,508.60 565.70,507.92 566.15,508.27 566.60,506.53 567.00,509.44 567.05,510.84 567.50,508.11 567.95,510.38 568.40,510.78 568.85,510.29 569.30,514.49 569.75,513.91 570.20,514.70 570.65,516.70 571.10,515.59 571.55,521.22 572.00,516.08 572.45,517.05 572.90,520.17 573.35,520.61 573.80,519.64 573.90,519.88 574.25,522.73 574.70,522.80 575.15,523.74 575.60,525.13 576.05,524.00 576.50,527.23 576.95,526.42 577.40,528.11 577.85,526.77 578.30,529.71 578.75,529.86 579.20,533.47 579.65,530.78 580.10,533.68 580.55,533.21 580.70,534.65 581.00,533.37 581.45,534.34 581.90,531.48 582.35,533.34 582.80,536.99 583.25,536.80 583.70,540.37 584.15,537.12 584.60,539.07 585.05,538.46 585.50,539.13 585.95,541.34 586.40,541.71 586.85,540.28 587.30,541.62 587.60,542.03 587.75,541.71 588.20,542.28 588.65,541.70 589.10,544.16 589.55,542.57 590.00,543.17 590.45,546.55 590.90,547.75 591.35,548.24 591.80,546.76 592.25,546.04 592.70,548.13 593.15,549.59 593.60,548.12 594.05,547.82 594.40,546.46 594.50,546.51 594.95,551.28 595.40,547.50 595.85,548.88 596.30,549.71 596.75,550.76 597.20,549.10 597.65,552.55 598.10,552.18 598.55,551.84 599.00,551.25 599.45,551.87 599.90,550.13 600.35,553.71 600.80,552.47 601.25,551.61 601.70,553.55 602.15,554.44 602.60,554.44 603.05,554.94 603.50,555.78 603.60,553.61 603.95,554.62 604.40,552.20 604.85,552.71 605.30,556.12 605.75,554.39 606.20,555.24 606.65,555.41 607.10,554.06 607.55,556.28 608.00,559.57 608.45,555.62 608.90,551.74 609.35,557.35 609.80,555.48 610.25,554.92 610.70,555.08 611.15,554.51 611.60,555.52 612.05,556.87 612.50,554.71 612.95,556.49 613.40,555.52 613.85,556.02 614.30,555.95 614.75,556.89 615.20,557.87 615.65,556.60 616.10,557.84 616.55,558.67 617.00,554.92 617.45,557.87 617.90,556.52 618.35,556.72 618.80,558.27 619.25,556.76 619.70,556.30 620.15,558.80 620.60,558.57 621.05,554.99 621.50,560.97 621.95,556.07 622.40,555.28 622.85,557.15 623.30,555.99 623.75,557.99 624.20,556.78 624.65,556.80 625.10,557.62 625.55,556.55 626.00,555.18 626.40,556.76 626.45,558.61 626.90,558.04 627.35,558.97 627.80,559.97 628.25,558.96 628.70,557.77 629.15,556.90 629.60,558.50 630.05,560.02 630.50,559.81 630.95,559.20 631.40,556.98 631.85,558.80 632.30,558.99 632.75,559.69 633.20,556.48 633.65,557.25 634.10,558.36 634.55,558.37 635.00,557.45 635.45,558.91 635.90,557.91 636.35,559.75 636.80,557.71 637.25,558.62 637.70,555.67 638.15,558.68 638.60,557.58 639.05,559.39 639.50,558.27 639.95,560.11 640.40,557.85 640.85,556.71 641.30,558.90 641.75,559.37 642.20,557.68 642.65,556.98 643.10,559.67 643.55,560.08 644.00,559.68 644.45,558.88 644.90,558.78 645.35,560.92 645.80,559.87 646.25,557.68 646.70,557.48 647.15,559.71 647.60,561.50 648.05,558.15 648.50,557.98 648.95,560.24 649.40,558.60 649.85,560.11 650.30,557.62 650.75,557.79 651.20,556.51 651.65,559.07 652.10,558.61 652.55,558.14 653.00,559.37 653.45,558.50 653.90,558.92 654.35,561.04 654.80,560.50 655.25,559.90 655.70,558.85 656.15,557.76 656.60,558.47 657.05,558.85 657.50,560.98 657.95,558.17 658.40,558.68 658.85,559.39 659.30,559.93 659.75,560.84 660.20,561.17 660.65,559.28 661.10,561.98 661.55,560.37 662.00,558.50 662.45,558.27 662.90,559.00 663.35,559.23 663.80,560.60 664.25,558.53 664.70,558.86 665.15,558.52 665.60,559.98 666.05,557.76 666.50,560.37 666.95,558.64 667.40,561.14 667.85,560.25 668.30,560.09 668.75,563.33 669.20,558.55 669.65,557.04 670.10,558.05 670.55,560.84 671.00,558.39 671.45,561.12 671.90,559.51 672.35,560.77 672.80,557.83 673.25,561.17 673.70,562.36 674.15,558.64 674.60,561.56 675.05,563.28 675.50,559.87 675.95,558.66 676.40,559.11 676.85,559.52 677.30,561.21 677.75,562.28 678.20,559.38 678.65,559.63 679.10,558.13 679.55,559.26 680.00,560.55 680.45,557.34 680.90,560.85 681.35,561.12 681.80,561.53 682.25,559.23 682.70,557.94 683.15,559.61 683.60,558.63 684.05,557.69 684.50,559.00 684.95,558.18 685.40,562.49 685.85,560.96 686.30,561.14 686.75,558.55 687.20,561.78 687.65,559.51 688.10,561.10 688.55,558.68 689.00,560.81 689.00,555.57"/>
<polyline fill="none" stroke="#ff2a2a" stroke-width="1.3" stroke-linejoin="round"  points="393.80,560.20 394.20,560.20 394.60,560.20 395.00,560.20 395.40,560.20 395.80,560.20 396.20,560.20 396.60,560.20 397.00,560.20 397.40,560.20 397.80,560.20 398.20,560.20 398.60,560.19 399.00,560.19 399.40,560.19 399.80,560.19 400.20,560.19 400.60,560.19 401.00,560.19 401.40,560.19 401.80,560.19 402.20,560.18 402.60,560.18 403.00,560.18 403.40,560.18 403.80,560.18 404.20,560.18 404.60,560.17 405.00,560.17 405.40,560.17 405.80,560.17 406.20,560.16 406.60,560.16 407.00,560.16 407.40,560.16 407.80,560.15 408.20,560.15 408.60,560.15 409.00,560.15 409.40,560.14 409.80,560.14 410.20,560.14 410.60,560.14 411.00,560.13 411.40,560.13 411.80,560.13 412.20,560.12 412.60,560.12 413.00,560.12 413.40,560.11 413.80,560.11 414.20,560.10 414.60,560.10 415.00,560.10 415.40,560.09 415.80,560.09 416.20,560.08 416.60,560.08 417.00,560.08 417.40,560.07 417.80,560.07 418.20,560.06 418.60,560.06 419.00,560.05 419.40,560.05 419.80,560.04 420.20,560.04 420.60,560.03 421.00,560.03 421.40,560.02 421.80,560.02 422.20,560.01 422.60,560.01 423.00,560.00 423.40,560.00 423.80,559.99 424.20,559.99 424.60,559.98 425.00,559.98 425.40,559.97 425.80,559.96 426.20,559.96 426.60,559.95 427.00,559.95 427.40,559.94 427.80,559.93 428.20,559.93 428.60,559.92 429.00,559.92 429.40,559.91 429.80,559.90 430.20,559.90 430.60,559.89 431.00,559.88 431.40,559.87 431.80,559.87 432.20,559.86 432.60,559.85 433.00,559.85 433.40,559.84 433.80,559.83 434.20,559.82 434.60,559.82 435.00,559.81 435.40,559.80 435.80,559.79 436.20,559.79 436.60,559.78 437.00,559.77 437.40,559.76 437.80,559.75 438.20,559.75 438.60,559.74 439.00,559.73 439.40,559.72 439.80,559.71 440.20,559.71 440.60,559.70 441.00,559.69 441.40,559.68 441.80,559.67 442.20,559.66 442.60,559.65 443.00,559.64 443.40,559.63 443.80,559.63 444.20,559.62 444.60,559.61 445.00,559.60 445.40,559.59 445.80,559.58 446.20,559.57 446.60,559.56 447.00,559.55 447.40,559.54 447.80,559.53 448.20,559.52 448.60,559.51 449.00,559.50 449.40,559.49 449.80,559.48 450.20,559.47 450.60,559.46 451.00,559.45 451.40,559.44 451.80,559.43 452.20,559.42 452.60,559.41 453.00,559.39 453.40,559.38 453.80,559.37 454.20,559.36 454.60,559.35 455.00,559.34 455.40,559.33 455.80,559.32 456.20,559.31 456.40,559.30 456.60,559.29 457.00,559.28 457.40,559.27 457.80,559.25 458.20,559.23 458.60,559.21 459.00,559.19 459.40,559.16 459.80,559.14 460.20,559.11 460.60,559.08 461.00,559.05 461.40,559.02 461.80,558.99 462.20,558.95 462.60,558.92 463.00,558.88 463.40,558.85 463.80,558.81 464.20,558.78 464.60,558.74 465.00,558.70 465.40,558.66 465.80,558.62 466.20,558.58 466.60,558.54 467.00,558.50 467.40,558.46 467.80,558.42 468.20,558.38 468.60,558.34 469.00,558.30 469.40,558.26 469.80,558.22 470.00,558.20 470.20,558.18 470.60,558.14 471.00,558.11 471.40,558.07 471.80,558.03 472.20,558.00 472.60,557.96 473.00,557.93 473.40,557.89 473.80,557.86 474.20,557.82 474.60,557.79 475.00,557.75 475.40,557.71 475.80,557.68 476.20,557.64 476.60,557.60 477.00,557.56 477.40,557.51 477.80,557.47 478.20,557.42 478.60,557.37 479.00,557.32 479.40,557.27 479.80,557.21 480.20,557.16 480.60,557.10 481.00,557.03 481.40,556.97 481.80,556.90 482.20,556.83 482.60,556.75 483.00,556.67 483.40,556.59 483.80,556.50 483.80,556.50 484.20,556.39 484.60,556.25 485.00,556.08 485.40,555.89 485.80,555.67 486.20,555.43 486.60,555.17 487.00,554.90 487.40,554.63 487.80,554.34 488.20,554.05 488.60,553.76 489.00,553.48 489.40,553.20 489.80,552.93 490.00,552.80 490.20,552.67 490.60,552.42 491.00,552.16 491.40,551.91 491.80,551.65 492.20,551.39 492.60,551.13 493.00,550.87 493.40,550.60 493.80,550.32 494.20,550.04 494.60,549.75 495.00,549.46 495.40,549.16 495.80,548.84 496.10,548.60 496.20,548.52 496.60,548.18 497.00,547.84 497.40,547.49 497.80,547.12 498.20,546.75 498.60,546.36 499.00,545.97 499.40,545.57 499.80,545.16 500.20,544.73 500.60,544.31 501.00,543.87 501.40,543.42 501.80,542.96 502.20,542.50 502.20,542.50 502.60,542.03 503.00,541.54 503.40,541.04 503.80,540.53 504.20,540.01 504.60,539.47 505.00,538.93 505.40,538.37 505.80,537.79 506.20,537.20 506.60,536.60 507.00,535.99 507.40,535.36 507.80,534.72 508.20,534.07 508.30,533.90 508.60,533.39 509.00,532.69 509.40,531.95 509.80,531.19 510.20,530.40 510.60,529.60 511.00,528.78 511.40,527.95 511.80,527.10 512.20,526.25 512.60,525.39 513.00,524.53 513.20,524.10 513.40,523.67 513.80,522.79 514.20,521.89 514.60,520.97 515.00,520.04 515.40,519.11 515.80,518.17 516.20,517.23 516.60,516.30 516.90,515.60 517.00,515.37 517.40,514.41 517.80,513.42 518.20,512.42 518.60,511.42 519.00,510.43 519.40,509.48 519.80,508.58 520.20,507.75 520.60,507.00 520.60,507.00 521.00,506.30 521.40,505.62 521.80,504.97 522.20,504.35 522.60,503.79 523.00,503.30 523.40,502.88 523.60,502.70 523.80,502.53 524.20,502.20 524.60,501.88 525.00,501.58 525.40,501.32 525.80,501.11 526.20,500.97 526.60,500.90 526.70,500.90 527.00,500.90 527.40,500.92 527.80,500.95 528.20,500.99 528.60,501.03 529.00,501.09 529.40,501.15 529.80,501.21 530.20,501.28 530.60,501.34 531.00,501.41 531.40,501.47 531.60,501.50 531.80,501.53 532.20,501.61 532.60,501.70 533.00,501.79 533.40,501.88 533.80,501.97 534.20,502.04 534.60,502.08 535.00,502.10 535.00,502.10 535.40,502.10 535.80,502.10 536.20,502.10 536.60,502.10 537.00,502.10 537.40,502.10 537.80,502.10 538.20,502.10 538.60,502.10 539.00,502.10 539.20,502.10 539.40,502.10 539.80,502.13 540.20,502.19 540.60,502.26 541.00,502.34 541.40,502.44 541.80,502.54 542.20,502.63 542.60,502.72 543.00,502.80 543.40,502.86 543.80,502.89 544.10,502.90 544.20,502.90 544.60,502.87 545.00,502.82 545.40,502.74 545.80,502.64 546.20,502.52 546.60,502.38 547.00,502.22 547.40,502.06 547.80,501.89 548.20,501.71 548.60,501.54 549.00,501.36 549.40,501.20 549.80,501.04 549.90,501.00 550.20,500.88 550.60,500.70 551.00,500.49 551.40,500.27 551.80,500.04 552.20,499.80 552.60,499.57 553.00,499.33 553.40,499.11 553.80,498.91 554.20,498.73 554.60,498.57 555.00,498.44 555.40,498.35 555.80,498.31 556.00,498.30 556.20,498.31 556.60,498.39 557.00,498.54 557.40,498.76 557.80,499.04 558.20,499.37 558.60,499.74 559.00,500.16 559.40,500.60 559.80,501.06 560.20,501.55 560.60,502.04 561.00,502.53 561.30,502.90 561.40,503.02 561.80,503.58 562.20,504.21 562.60,504.91 563.00,505.68 563.40,506.49 563.80,507.33 564.20,508.21 564.60,509.10 565.00,510.00 565.40,510.90 565.80,511.78 565.90,512.00 566.20,512.66 566.60,513.58 567.00,514.54 567.40,515.53 567.80,516.54 568.20,517.56 568.60,518.59 569.00,519.62 569.40,520.63 569.80,521.63 570.20,522.61 570.60,523.55 571.00,524.45 571.40,525.30 571.60,525.70 571.80,526.09 572.20,526.87 572.60,527.63 573.00,528.37 573.40,529.10 573.80,529.81 574.20,530.51 574.60,531.19 575.00,531.86 575.40,532.52 575.80,533.16 576.20,533.80 576.60,534.42 577.00,535.03 577.40,535.63 577.80,536.23 578.20,536.81 578.40,537.10 578.60,537.39 579.00,537.97 579.40,538.54 579.80,539.12 580.20,539.70 580.60,540.27 581.00,540.84 581.40,541.40 581.80,541.95 582.20,542.50 582.60,543.04 583.00,543.57 583.40,544.09 583.80,544.59 584.20,545.09 584.60,545.57 585.00,546.03 585.40,546.48 585.80,546.91 586.20,547.32 586.60,547.71 587.00,548.08 587.40,548.43 587.60,548.60 587.80,548.76 588.20,549.09 588.60,549.40 589.00,549.71 589.40,550.02 589.80,550.32 590.20,550.62 590.60,550.91 591.00,551.19 591.40,551.47 591.80,551.74 592.20,552.00 592.60,552.26 593.00,552.51 593.40,552.76 593.80,553.00 594.20,553.23 594.60,553.45 595.00,553.67 595.40,553.88 595.80,554.08 596.20,554.27 596.60,554.46 597.00,554.64 597.40,554.81 597.80,554.97 598.20,555.12 598.60,555.26 599.00,555.40 599.00,555.40 599.40,555.53 599.80,555.66 600.20,555.79 600.60,555.92 601.00,556.04 601.40,556.17 601.80,556.29 602.20,556.41 602.60,556.53 603.00,556.65 603.40,556.77 603.80,556.88 604.20,556.99 604.60,557.10 605.00,557.21 605.40,557.32 605.80,557.42 606.20,557.52 606.60,557.62 607.00,557.71 607.40,557.80 607.80,557.89 608.20,557.98 608.60,558.06 609.00,558.14 609.40,558.22 609.80,558.29 610.20,558.36 610.60,558.43 611.00,558.49 611.40,558.55 611.80,558.61 612.20,558.66 612.60,558.71 613.00,558.75 613.40,558.79 613.80,558.82 614.20,558.85 614.60,558.88 615.00,558.90 615.00,558.90 615.40,558.92 615.80,558.94 616.20,558.96 616.60,558.98 617.00,558.99 617.40,559.01 617.80,559.03 618.20,559.05 618.60,559.07 619.00,559.08 619.40,559.10 619.80,559.12 620.20,559.14 620.60,559.15 621.00,559.17 621.40,559.19 621.80,559.21 622.20,559.22 622.60,559.24 623.00,559.26 623.40,559.27 623.80,559.29 624.20,559.31 624.60,559.32 625.00,559.34 625.40,559.35 625.80,559.37 626.20,559.38 626.60,559.40 627.00,559.41 627.40,559.43 627.80,559.45 628.20,559.46 628.60,559.48 629.00,559.49 629.40,559.50 629.80,559.52 630.20,559.53 630.60,559.55 631.00,559.56 631.40,559.58 631.80,559.59 632.20,559.60 632.60,559.62 633.00,559.63 633.40,559.64 633.80,559.66 634.20,559.67 634.60,559.68 635.00,559.70 635.40,559.71 635.80,559.72 636.20,559.73 636.60,559.75 637.00,559.76 637.40,559.77 637.80,559.78 638.20,559.80 638.60,559.81 639.00,559.82 639.40,559.83 639.80,559.84 640.20,559.85 640.60,559.87 641.00,559.88 641.40,559.89 641.80,559.90 642.20,559.91 642.60,559.92 643.00,559.93 643.40,559.94 643.80,559.95 644.20,559.96 644.60,559.97 645.00,559.98 645.40,559.99 645.80,560.00 646.20,560.01 646.60,560.02 647.00,560.03 647.40,560.04 647.80,560.05 648.20,560.06 648.60,560.07 649.00,560.08 649.40,560.09 649.80,560.10 650.20,560.10 650.60,560.11 651.00,560.12 651.40,560.13 651.80,560.14 652.20,560.15 652.60,560.15 653.00,560.16 653.40,560.17 653.80,560.18 654.20,560.19 654.60,560.19 655.00,560.20 655.40,560.21 655.80,560.22 656.20,560.22 656.60,560.23 657.00,560.24 657.40,560.24 657.80,560.25 658.20,560.26 658.60,560.26 659.00,560.27 659.40,560.28 659.80,560.28 660.20,560.29 660.60,560.29 661.00,560.30 661.40,560.31 661.80,560.31 662.20,560.32 662.60,560.32 663.00,560.33 663.40,560.33 663.80,560.34 664.20,560.35 664.60,560.35 665.00,560.36 665.40,560.36 665.80,560.37 666.20,560.37 666.60,560.37 667.00,560.38 667.40,560.38 667.80,560.39 668.20,560.39 668.60,560.40 669.00,560.40 669.40,560.41 669.80,560.41 670.20,560.41 670.60,560.42 671.00,560.42 671.40,560.42 671.80,560.43 672.20,560.43 672.60,560.43 673.00,560.44 673.40,560.44 673.80,560.44 674.20,560.45 674.60,560.45 675.00,560.45 675.40,560.46 675.80,560.46 676.20,560.46 676.60,560.46 677.00,560.47 677.40,560.47 677.80,560.47 678.20,560.47 678.60,560.47 679.00,560.48 679.40,560.48 679.80,560.48 680.20,560.48 680.60,560.48 681.00,560.48 681.40,560.49 681.80,560.49 682.20,560.49 682.60,560.49 683.00,560.49 683.40,560.49 683.80,560.49 684.20,560.49 684.60,560.50 685.00,560.50 685.40,560.50 685.80,560.50 686.20,560.50 686.60,560.50 687.00,560.50 687.40,560.50 687.80,560.50 688.20,560.50 688.60,560.50 689.00,560.50 689.00,560.50"/>
</svg>
</body></html>
